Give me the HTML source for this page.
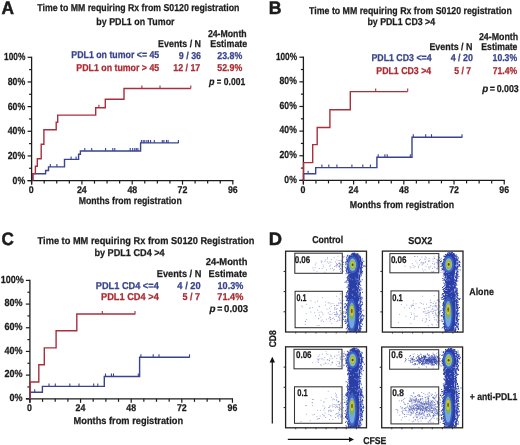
<!DOCTYPE html>
<html><head><meta charset="utf-8"><style>
html,body{margin:0;padding:0;background:#fff;}
svg{display:block;filter:blur(0.25px);font-family:"Liberation Sans",sans-serif;}
</style></head><body>
<svg width="520" height="445" viewBox="0 0 520 445" text-rendering="geometricPrecision">
<defs>
<filter id="bl" x="-50%" y="-50%" width="200%" height="200%"><feGaussianBlur stdDeviation="0.7"/></filter>
<filter id="sp" x="-20%" y="-20%" width="140%" height="140%"><feGaussianBlur stdDeviation="0.4"/></filter>
</defs>
<rect width="520" height="445" fill="#fff"/>
<text x="1.57" y="13.70" font-size="18.0" font-weight="bold" style="" fill="#1c1c1c" stroke="#1c1c1c" stroke-width="0.5" textLength="12.50" lengthAdjust="spacingAndGlyphs">A</text>
<text x="37.31" y="11.40" font-size="10.0" font-weight="bold" style="" fill="#1c1c1c" stroke="#1c1c1c" stroke-width="0.25" textLength="202.03" lengthAdjust="spacingAndGlyphs">Time to MM requiring Rx from S0120 registration</text>
<text x="96.32" y="24.60" font-size="10.0" font-weight="bold" style="" fill="#1c1c1c" stroke="#1c1c1c" stroke-width="0.25" textLength="78.21" lengthAdjust="spacingAndGlyphs">by PDL1 on Tumor</text>
<text x="207.89" y="36.60" font-size="10.0" font-weight="bold" style="" fill="#1c1c1c" stroke="#1c1c1c" stroke-width="0.25" textLength="38.82" lengthAdjust="spacingAndGlyphs">24-Month</text>
<text x="158.12" y="47.40" font-size="10.0" font-weight="bold" style="" fill="#1c1c1c" stroke="#1c1c1c" stroke-width="0.25" textLength="42.85" lengthAdjust="spacingAndGlyphs">Events / N</text>
<text x="210.22" y="47.30" font-size="10.0" font-weight="bold" style="" fill="#1c1c1c" stroke="#1c1c1c" stroke-width="0.25" textLength="37.02" lengthAdjust="spacingAndGlyphs">Estimate</text>
<text x="71.33" y="58.30" font-size="10.0" font-weight="bold" style="" fill="#38448c" stroke="#38448c" stroke-width="0.25" textLength="87.91" lengthAdjust="spacingAndGlyphs">PDL1 on tumor &lt;= 45</text>
<text x="178.79" y="58.90" font-size="10.0" font-weight="bold" style="" fill="#38448c" stroke="#38448c" stroke-width="0.25" textLength="22.24" lengthAdjust="spacingAndGlyphs">9 / 36</text>
<text x="217.29" y="58.90" font-size="10.0" font-weight="bold" style="" fill="#38448c" stroke="#38448c" stroke-width="0.25" textLength="24.93" lengthAdjust="spacingAndGlyphs">23.8%</text>
<text x="76.33" y="70.50" font-size="10.0" font-weight="bold" style="" fill="#ac2a32" stroke="#ac2a32" stroke-width="0.25" textLength="82.92" lengthAdjust="spacingAndGlyphs">PDL1 on tumor &gt; 45</text>
<text x="173.27" y="70.50" font-size="10.0" font-weight="bold" style="" fill="#ac2a32" stroke="#ac2a32" stroke-width="0.25" textLength="27.01" lengthAdjust="spacingAndGlyphs">12 / 17</text>
<text x="217.34" y="70.50" font-size="10.0" font-weight="bold" style="" fill="#ac2a32" stroke="#ac2a32" stroke-width="0.25" textLength="24.89" lengthAdjust="spacingAndGlyphs">52.9%</text>
<text x="209.08" y="85.00" font-size="10.0" font-weight="bold" style="font-style:italic;" fill="#1c1c1c" stroke="#1c1c1c" stroke-width="0.25" textLength="5.50" lengthAdjust="spacingAndGlyphs">p</text>
<text x="216.79" y="85.00" font-size="10.0" font-weight="bold" style="" fill="#1c1c1c" stroke="#1c1c1c" stroke-width="0.25" textLength="4.51" lengthAdjust="spacingAndGlyphs">=</text>
<text x="223.86" y="85.00" font-size="10.0" font-weight="bold" style="" fill="#1c1c1c" stroke="#1c1c1c" stroke-width="0.25" textLength="21.38" lengthAdjust="spacingAndGlyphs">0.001</text>
<line x1="31.60" y1="56.70" x2="31.60" y2="184.60" stroke="#1c1c1c" stroke-width="1.3"/>
<line x1="27.60" y1="180.60" x2="233.42" y2="180.60" stroke="#1c1c1c" stroke-width="1.3"/>
<line x1="27.60" y1="180.60" x2="31.60" y2="180.60" stroke="#1c1c1c" stroke-width="1.2"/>
<line x1="29.10" y1="168.27" x2="31.60" y2="168.27" stroke="#1c1c1c" stroke-width="1.2"/>
<line x1="27.60" y1="155.94" x2="31.60" y2="155.94" stroke="#1c1c1c" stroke-width="1.2"/>
<line x1="29.10" y1="143.61" x2="31.60" y2="143.61" stroke="#1c1c1c" stroke-width="1.2"/>
<line x1="27.60" y1="131.28" x2="31.60" y2="131.28" stroke="#1c1c1c" stroke-width="1.2"/>
<line x1="29.10" y1="118.95" x2="31.60" y2="118.95" stroke="#1c1c1c" stroke-width="1.2"/>
<line x1="27.60" y1="106.62" x2="31.60" y2="106.62" stroke="#1c1c1c" stroke-width="1.2"/>
<line x1="29.10" y1="94.29" x2="31.60" y2="94.29" stroke="#1c1c1c" stroke-width="1.2"/>
<line x1="27.60" y1="81.96" x2="31.60" y2="81.96" stroke="#1c1c1c" stroke-width="1.2"/>
<line x1="29.10" y1="69.63" x2="31.60" y2="69.63" stroke="#1c1c1c" stroke-width="1.2"/>
<line x1="27.60" y1="57.30" x2="31.60" y2="57.30" stroke="#1c1c1c" stroke-width="1.2"/>
<line x1="31.60" y1="180.60" x2="31.60" y2="184.60" stroke="#1c1c1c" stroke-width="1.2"/>
<line x1="44.18" y1="180.60" x2="44.18" y2="183.60" stroke="#1c1c1c" stroke-width="1.2"/>
<line x1="56.75" y1="180.60" x2="56.75" y2="183.60" stroke="#1c1c1c" stroke-width="1.2"/>
<line x1="69.33" y1="180.60" x2="69.33" y2="183.60" stroke="#1c1c1c" stroke-width="1.2"/>
<line x1="81.90" y1="180.60" x2="81.90" y2="184.60" stroke="#1c1c1c" stroke-width="1.2"/>
<line x1="94.48" y1="180.60" x2="94.48" y2="183.60" stroke="#1c1c1c" stroke-width="1.2"/>
<line x1="107.06" y1="180.60" x2="107.06" y2="183.60" stroke="#1c1c1c" stroke-width="1.2"/>
<line x1="119.63" y1="180.60" x2="119.63" y2="183.60" stroke="#1c1c1c" stroke-width="1.2"/>
<line x1="132.21" y1="180.60" x2="132.21" y2="184.60" stroke="#1c1c1c" stroke-width="1.2"/>
<line x1="144.78" y1="180.60" x2="144.78" y2="183.60" stroke="#1c1c1c" stroke-width="1.2"/>
<line x1="157.36" y1="180.60" x2="157.36" y2="183.60" stroke="#1c1c1c" stroke-width="1.2"/>
<line x1="169.94" y1="180.60" x2="169.94" y2="183.60" stroke="#1c1c1c" stroke-width="1.2"/>
<line x1="182.51" y1="180.60" x2="182.51" y2="184.60" stroke="#1c1c1c" stroke-width="1.2"/>
<line x1="195.09" y1="180.60" x2="195.09" y2="183.60" stroke="#1c1c1c" stroke-width="1.2"/>
<line x1="207.66" y1="180.60" x2="207.66" y2="183.60" stroke="#1c1c1c" stroke-width="1.2"/>
<line x1="220.24" y1="180.60" x2="220.24" y2="183.60" stroke="#1c1c1c" stroke-width="1.2"/>
<line x1="232.82" y1="180.60" x2="232.82" y2="184.60" stroke="#1c1c1c" stroke-width="1.2"/>
<text x="12.61" y="183.60" font-size="10.3" font-weight="bold" style="" fill="#1c1c1c" stroke="#1c1c1c" stroke-width="0.25" textLength="12.61" lengthAdjust="spacingAndGlyphs">0%</text>
<text x="7.77" y="158.94" font-size="10.3" font-weight="bold" style="" fill="#1c1c1c" stroke="#1c1c1c" stroke-width="0.25" textLength="17.46" lengthAdjust="spacingAndGlyphs">20%</text>
<text x="7.77" y="134.28" font-size="10.3" font-weight="bold" style="" fill="#1c1c1c" stroke="#1c1c1c" stroke-width="0.25" textLength="17.46" lengthAdjust="spacingAndGlyphs">40%</text>
<text x="7.77" y="109.62" font-size="10.3" font-weight="bold" style="" fill="#1c1c1c" stroke="#1c1c1c" stroke-width="0.25" textLength="17.46" lengthAdjust="spacingAndGlyphs">60%</text>
<text x="7.77" y="84.96" font-size="10.3" font-weight="bold" style="" fill="#1c1c1c" stroke="#1c1c1c" stroke-width="0.25" textLength="17.46" lengthAdjust="spacingAndGlyphs">80%</text>
<text x="4.10" y="60.30" font-size="10.3" font-weight="bold" style="" fill="#1c1c1c" stroke="#1c1c1c" stroke-width="0.25" textLength="21.29" lengthAdjust="spacingAndGlyphs">100%</text>
<text x="28.65" y="192.80" font-size="9.8" font-weight="bold" style="" fill="#1c1c1c" stroke="#1c1c1c" stroke-width="0.25" textLength="4.91" lengthAdjust="spacingAndGlyphs">0</text>
<text x="76.88" y="192.80" font-size="9.8" font-weight="bold" style="" fill="#1c1c1c" stroke="#1c1c1c" stroke-width="0.25" textLength="9.81" lengthAdjust="spacingAndGlyphs">24</text>
<text x="127.38" y="192.80" font-size="9.8" font-weight="bold" style="" fill="#1c1c1c" stroke="#1c1c1c" stroke-width="0.25" textLength="9.81" lengthAdjust="spacingAndGlyphs">48</text>
<text x="177.62" y="192.80" font-size="9.8" font-weight="bold" style="" fill="#1c1c1c" stroke="#1c1c1c" stroke-width="0.25" textLength="9.81" lengthAdjust="spacingAndGlyphs">72</text>
<text x="227.92" y="192.80" font-size="9.8" font-weight="bold" style="" fill="#1c1c1c" stroke="#1c1c1c" stroke-width="0.25" textLength="9.81" lengthAdjust="spacingAndGlyphs">96</text>
<text x="78.63" y="204.20" font-size="10.0" font-weight="bold" style="" fill="#1c1c1c" stroke="#1c1c1c" stroke-width="0.25" textLength="103.08" lengthAdjust="spacingAndGlyphs">Months from registration</text>
<path d="M32.70,180.60 H32.70 V173.80 H45.60 V170.50 H48.50 V166.90 H64.50 V159.40 H78.60 V154.20 H80.40 V151.00 H140.60 V142.90 H178.70 V142.90" fill="none" stroke="#3a4294" stroke-width="1.4" stroke-linejoin="miter" stroke-linecap="butt"/>
<line x1="50.30" y1="166.90" x2="50.30" y2="163.90" stroke="#3a4294" stroke-width="1.1"/>
<line x1="56.90" y1="166.90" x2="56.90" y2="163.90" stroke="#3a4294" stroke-width="1.1"/>
<line x1="71.10" y1="159.40" x2="71.10" y2="156.40" stroke="#3a4294" stroke-width="1.1"/>
<line x1="76.10" y1="159.40" x2="76.10" y2="156.40" stroke="#3a4294" stroke-width="1.1"/>
<line x1="84.80" y1="151.00" x2="84.80" y2="148.00" stroke="#3a4294" stroke-width="1.1"/>
<line x1="91.70" y1="151.00" x2="91.70" y2="148.00" stroke="#3a4294" stroke-width="1.1"/>
<line x1="105.60" y1="151.00" x2="105.60" y2="148.00" stroke="#3a4294" stroke-width="1.1"/>
<line x1="112.80" y1="151.00" x2="112.80" y2="148.00" stroke="#3a4294" stroke-width="1.1"/>
<line x1="114.80" y1="151.00" x2="114.80" y2="148.00" stroke="#3a4294" stroke-width="1.1"/>
<line x1="130.20" y1="151.00" x2="130.20" y2="148.00" stroke="#3a4294" stroke-width="1.1"/>
<line x1="132.70" y1="151.00" x2="132.70" y2="148.00" stroke="#3a4294" stroke-width="1.1"/>
<line x1="134.80" y1="151.00" x2="134.80" y2="148.00" stroke="#3a4294" stroke-width="1.1"/>
<line x1="136.30" y1="151.00" x2="136.30" y2="148.00" stroke="#3a4294" stroke-width="1.1"/>
<line x1="137.90" y1="151.00" x2="137.90" y2="148.00" stroke="#3a4294" stroke-width="1.1"/>
<line x1="141.40" y1="142.90" x2="141.40" y2="139.90" stroke="#3a4294" stroke-width="1.1"/>
<line x1="143.20" y1="142.90" x2="143.20" y2="139.90" stroke="#3a4294" stroke-width="1.1"/>
<line x1="144.80" y1="142.90" x2="144.80" y2="139.90" stroke="#3a4294" stroke-width="1.1"/>
<line x1="146.90" y1="142.90" x2="146.90" y2="139.90" stroke="#3a4294" stroke-width="1.1"/>
<line x1="148.50" y1="142.90" x2="148.50" y2="139.90" stroke="#3a4294" stroke-width="1.1"/>
<line x1="150.60" y1="142.90" x2="150.60" y2="139.90" stroke="#3a4294" stroke-width="1.1"/>
<line x1="154.30" y1="142.90" x2="154.30" y2="139.90" stroke="#3a4294" stroke-width="1.1"/>
<line x1="162.30" y1="142.90" x2="162.30" y2="139.90" stroke="#3a4294" stroke-width="1.1"/>
<line x1="163.90" y1="142.90" x2="163.90" y2="139.90" stroke="#3a4294" stroke-width="1.1"/>
<line x1="166.50" y1="142.90" x2="166.50" y2="139.90" stroke="#3a4294" stroke-width="1.1"/>
<line x1="168.10" y1="142.90" x2="168.10" y2="139.90" stroke="#3a4294" stroke-width="1.1"/>
<line x1="178.40" y1="142.90" x2="178.40" y2="139.90" stroke="#3a4294" stroke-width="1.1"/>
<path d="M32.90,180.60 H32.90 V173.60 H35.40 V166.30 H37.30 V158.80 H41.20 V144.30 H43.90 V129.70 H56.20 V122.30 H57.70 V115.10 H95.70 V107.70 H105.30 V99.30 H124.00 V88.50 H190.80 V88.50" fill="none" stroke="#a8303c" stroke-width="1.4" stroke-linejoin="miter" stroke-linecap="butt"/>
<line x1="98.90" y1="107.70" x2="98.90" y2="104.70" stroke="#a8303c" stroke-width="1.1"/>
<line x1="141.90" y1="88.50" x2="141.90" y2="85.50" stroke="#a8303c" stroke-width="1.1"/>
<line x1="160.00" y1="88.50" x2="160.00" y2="85.50" stroke="#a8303c" stroke-width="1.1"/>
<line x1="190.80" y1="88.50" x2="190.80" y2="85.50" stroke="#a8303c" stroke-width="1.1"/>
<text x="268.85" y="13.80" font-size="18.0" font-weight="bold" style="" fill="#1c1c1c" stroke="#1c1c1c" stroke-width="0.5" textLength="12.79" lengthAdjust="spacingAndGlyphs">B</text>
<text x="309.11" y="13.70" font-size="10.0" font-weight="bold" style="" fill="#1c1c1c" stroke="#1c1c1c" stroke-width="0.25" textLength="202.74" lengthAdjust="spacingAndGlyphs">Time to MM requiring Rx from S0120 registration</text>
<text x="367.43" y="24.50" font-size="10.0" font-weight="bold" style="" fill="#1c1c1c" stroke="#1c1c1c" stroke-width="0.25" textLength="67.74" lengthAdjust="spacingAndGlyphs">by PDL1 CD3 &gt;4</text>
<text x="478.89" y="40.40" font-size="10.0" font-weight="bold" style="" fill="#1c1c1c" stroke="#1c1c1c" stroke-width="0.25" textLength="39.33" lengthAdjust="spacingAndGlyphs">24-Month</text>
<text x="429.42" y="50.00" font-size="10.0" font-weight="bold" style="" fill="#1c1c1c" stroke="#1c1c1c" stroke-width="0.25" textLength="43.06" lengthAdjust="spacingAndGlyphs">Events / N</text>
<text x="481.34" y="50.00" font-size="10.0" font-weight="bold" style="" fill="#1c1c1c" stroke="#1c1c1c" stroke-width="0.25" textLength="36.10" lengthAdjust="spacingAndGlyphs">Estimate</text>
<text x="371.43" y="61.30" font-size="10.0" font-weight="bold" style="" fill="#38448c" stroke="#38448c" stroke-width="0.25" textLength="60.13" lengthAdjust="spacingAndGlyphs">PDL1 CD3 &lt;=4</text>
<text x="450.67" y="61.00" font-size="10.0" font-weight="bold" style="" fill="#38448c" stroke="#38448c" stroke-width="0.25" textLength="22.31" lengthAdjust="spacingAndGlyphs">4 / 20</text>
<text x="492.58" y="61.00" font-size="10.0" font-weight="bold" style="" fill="#38448c" stroke="#38448c" stroke-width="0.25" textLength="24.54" lengthAdjust="spacingAndGlyphs">10.3%</text>
<text x="376.33" y="73.80" font-size="10.0" font-weight="bold" style="" fill="#ac2a32" stroke="#ac2a32" stroke-width="0.25" textLength="54.84" lengthAdjust="spacingAndGlyphs">PDL1 CD3 &gt;4</text>
<text x="454.34" y="73.80" font-size="10.0" font-weight="bold" style="" fill="#ac2a32" stroke="#ac2a32" stroke-width="0.25" textLength="16.81" lengthAdjust="spacingAndGlyphs">5 / 7</text>
<text x="492.76" y="73.80" font-size="10.0" font-weight="bold" style="" fill="#ac2a32" stroke="#ac2a32" stroke-width="0.25" textLength="24.36" lengthAdjust="spacingAndGlyphs">71.4%</text>
<text x="482.20" y="91.50" font-size="10.0" font-weight="bold" style="font-style:italic;" fill="#1c1c1c" stroke="#1c1c1c" stroke-width="0.25" textLength="6.01" lengthAdjust="spacingAndGlyphs">p</text>
<text x="489.74" y="91.50" font-size="10.0" font-weight="bold" style="" fill="#1c1c1c" stroke="#1c1c1c" stroke-width="0.25" textLength="5.20" lengthAdjust="spacingAndGlyphs">=</text>
<text x="496.65" y="91.50" font-size="10.0" font-weight="bold" style="" fill="#1c1c1c" stroke="#1c1c1c" stroke-width="0.25" textLength="22.08" lengthAdjust="spacingAndGlyphs">0.003</text>
<line x1="303.40" y1="56.60" x2="303.40" y2="184.40" stroke="#1c1c1c" stroke-width="1.3"/>
<line x1="299.40" y1="180.40" x2="504.83" y2="180.40" stroke="#1c1c1c" stroke-width="1.3"/>
<line x1="299.40" y1="180.40" x2="303.40" y2="180.40" stroke="#1c1c1c" stroke-width="1.2"/>
<line x1="300.90" y1="168.08" x2="303.40" y2="168.08" stroke="#1c1c1c" stroke-width="1.2"/>
<line x1="299.40" y1="155.76" x2="303.40" y2="155.76" stroke="#1c1c1c" stroke-width="1.2"/>
<line x1="300.90" y1="143.44" x2="303.40" y2="143.44" stroke="#1c1c1c" stroke-width="1.2"/>
<line x1="299.40" y1="131.12" x2="303.40" y2="131.12" stroke="#1c1c1c" stroke-width="1.2"/>
<line x1="300.90" y1="118.80" x2="303.40" y2="118.80" stroke="#1c1c1c" stroke-width="1.2"/>
<line x1="299.40" y1="106.48" x2="303.40" y2="106.48" stroke="#1c1c1c" stroke-width="1.2"/>
<line x1="300.90" y1="94.16" x2="303.40" y2="94.16" stroke="#1c1c1c" stroke-width="1.2"/>
<line x1="299.40" y1="81.84" x2="303.40" y2="81.84" stroke="#1c1c1c" stroke-width="1.2"/>
<line x1="300.90" y1="69.52" x2="303.40" y2="69.52" stroke="#1c1c1c" stroke-width="1.2"/>
<line x1="299.40" y1="57.20" x2="303.40" y2="57.20" stroke="#1c1c1c" stroke-width="1.2"/>
<line x1="303.40" y1="180.40" x2="303.40" y2="184.40" stroke="#1c1c1c" stroke-width="1.2"/>
<line x1="315.95" y1="180.40" x2="315.95" y2="183.40" stroke="#1c1c1c" stroke-width="1.2"/>
<line x1="328.50" y1="180.40" x2="328.50" y2="183.40" stroke="#1c1c1c" stroke-width="1.2"/>
<line x1="341.06" y1="180.40" x2="341.06" y2="183.40" stroke="#1c1c1c" stroke-width="1.2"/>
<line x1="353.61" y1="180.40" x2="353.61" y2="184.40" stroke="#1c1c1c" stroke-width="1.2"/>
<line x1="366.16" y1="180.40" x2="366.16" y2="183.40" stroke="#1c1c1c" stroke-width="1.2"/>
<line x1="378.71" y1="180.40" x2="378.71" y2="183.40" stroke="#1c1c1c" stroke-width="1.2"/>
<line x1="391.26" y1="180.40" x2="391.26" y2="183.40" stroke="#1c1c1c" stroke-width="1.2"/>
<line x1="403.82" y1="180.40" x2="403.82" y2="184.40" stroke="#1c1c1c" stroke-width="1.2"/>
<line x1="416.37" y1="180.40" x2="416.37" y2="183.40" stroke="#1c1c1c" stroke-width="1.2"/>
<line x1="428.92" y1="180.40" x2="428.92" y2="183.40" stroke="#1c1c1c" stroke-width="1.2"/>
<line x1="441.47" y1="180.40" x2="441.47" y2="183.40" stroke="#1c1c1c" stroke-width="1.2"/>
<line x1="454.02" y1="180.40" x2="454.02" y2="184.40" stroke="#1c1c1c" stroke-width="1.2"/>
<line x1="466.58" y1="180.40" x2="466.58" y2="183.40" stroke="#1c1c1c" stroke-width="1.2"/>
<line x1="479.13" y1="180.40" x2="479.13" y2="183.40" stroke="#1c1c1c" stroke-width="1.2"/>
<line x1="491.68" y1="180.40" x2="491.68" y2="183.40" stroke="#1c1c1c" stroke-width="1.2"/>
<line x1="504.23" y1="180.40" x2="504.23" y2="184.40" stroke="#1c1c1c" stroke-width="1.2"/>
<text x="284.36" y="182.70" font-size="10.3" font-weight="bold" style="" fill="#1c1c1c" stroke="#1c1c1c" stroke-width="0.25" textLength="12.46" lengthAdjust="spacingAndGlyphs">0%</text>
<text x="279.57" y="158.06" font-size="10.3" font-weight="bold" style="" fill="#1c1c1c" stroke="#1c1c1c" stroke-width="0.25" textLength="17.25" lengthAdjust="spacingAndGlyphs">20%</text>
<text x="279.57" y="133.42" font-size="10.3" font-weight="bold" style="" fill="#1c1c1c" stroke="#1c1c1c" stroke-width="0.25" textLength="17.25" lengthAdjust="spacingAndGlyphs">40%</text>
<text x="279.57" y="108.78" font-size="10.3" font-weight="bold" style="" fill="#1c1c1c" stroke="#1c1c1c" stroke-width="0.25" textLength="17.25" lengthAdjust="spacingAndGlyphs">60%</text>
<text x="279.57" y="84.14" font-size="10.3" font-weight="bold" style="" fill="#1c1c1c" stroke="#1c1c1c" stroke-width="0.25" textLength="17.25" lengthAdjust="spacingAndGlyphs">80%</text>
<text x="275.90" y="59.50" font-size="10.3" font-weight="bold" style="" fill="#1c1c1c" stroke="#1c1c1c" stroke-width="0.25" textLength="21.18" lengthAdjust="spacingAndGlyphs">100%</text>
<text x="300.45" y="192.70" font-size="9.8" font-weight="bold" style="" fill="#1c1c1c" stroke="#1c1c1c" stroke-width="0.25" textLength="4.91" lengthAdjust="spacingAndGlyphs">0</text>
<text x="348.58" y="192.70" font-size="9.8" font-weight="bold" style="" fill="#1c1c1c" stroke="#1c1c1c" stroke-width="0.25" textLength="9.81" lengthAdjust="spacingAndGlyphs">24</text>
<text x="398.99" y="192.70" font-size="9.8" font-weight="bold" style="" fill="#1c1c1c" stroke="#1c1c1c" stroke-width="0.25" textLength="9.81" lengthAdjust="spacingAndGlyphs">48</text>
<text x="449.13" y="192.70" font-size="9.8" font-weight="bold" style="" fill="#1c1c1c" stroke="#1c1c1c" stroke-width="0.25" textLength="9.81" lengthAdjust="spacingAndGlyphs">72</text>
<text x="499.34" y="192.70" font-size="9.8" font-weight="bold" style="" fill="#1c1c1c" stroke="#1c1c1c" stroke-width="0.25" textLength="9.81" lengthAdjust="spacingAndGlyphs">96</text>
<text x="349.83" y="207.80" font-size="10.0" font-weight="bold" style="" fill="#1c1c1c" stroke="#1c1c1c" stroke-width="0.25" textLength="104.19" lengthAdjust="spacingAndGlyphs">Months from registration</text>
<path d="M303.60,180.40 H303.60 V173.80 H315.70 V167.60 H376.90 V157.20 H412.00 V137.20 H462.30 V137.20" fill="none" stroke="#3a4294" stroke-width="1.4" stroke-linejoin="miter" stroke-linecap="butt"/>
<line x1="308.10" y1="173.80" x2="308.10" y2="170.80" stroke="#3a4294" stroke-width="1.1"/>
<line x1="321.90" y1="167.60" x2="321.90" y2="164.60" stroke="#3a4294" stroke-width="1.1"/>
<line x1="328.80" y1="167.60" x2="328.80" y2="164.60" stroke="#3a4294" stroke-width="1.1"/>
<line x1="336.90" y1="167.60" x2="336.90" y2="164.60" stroke="#3a4294" stroke-width="1.1"/>
<line x1="351.90" y1="167.60" x2="351.90" y2="164.60" stroke="#3a4294" stroke-width="1.1"/>
<line x1="362.80" y1="167.60" x2="362.80" y2="164.60" stroke="#3a4294" stroke-width="1.1"/>
<line x1="370.40" y1="167.60" x2="370.40" y2="164.60" stroke="#3a4294" stroke-width="1.1"/>
<line x1="378.20" y1="157.20" x2="378.20" y2="154.20" stroke="#3a4294" stroke-width="1.1"/>
<line x1="384.90" y1="157.20" x2="384.90" y2="154.20" stroke="#3a4294" stroke-width="1.1"/>
<line x1="387.20" y1="157.20" x2="387.20" y2="154.20" stroke="#3a4294" stroke-width="1.1"/>
<line x1="410.30" y1="157.20" x2="410.30" y2="154.20" stroke="#3a4294" stroke-width="1.1"/>
<line x1="413.30" y1="137.20" x2="413.30" y2="134.20" stroke="#3a4294" stroke-width="1.1"/>
<line x1="425.70" y1="137.20" x2="425.70" y2="134.20" stroke="#3a4294" stroke-width="1.1"/>
<line x1="431.50" y1="137.20" x2="431.50" y2="134.20" stroke="#3a4294" stroke-width="1.1"/>
<line x1="462.00" y1="137.20" x2="462.00" y2="134.20" stroke="#3a4294" stroke-width="1.1"/>
<path d="M303.60,180.40 H303.60 V162.60 H312.70 V144.60 H317.20 V127.50 H329.90 V109.70 H350.30 V91.60 H407.70 V91.60" fill="none" stroke="#a8303c" stroke-width="1.4" stroke-linejoin="miter" stroke-linecap="butt"/>
<line x1="375.70" y1="91.60" x2="375.70" y2="88.60" stroke="#a8303c" stroke-width="1.1"/>
<line x1="407.70" y1="91.60" x2="407.70" y2="88.60" stroke="#a8303c" stroke-width="1.1"/>
<text x="1.62" y="244.50" font-size="18.0" font-weight="bold" style="" fill="#1c1c1c" stroke="#1c1c1c" stroke-width="0.5" textLength="12.35" lengthAdjust="spacingAndGlyphs">C</text>
<text x="37.61" y="243.60" font-size="10.0" font-weight="bold" style="" fill="#1c1c1c" stroke="#1c1c1c" stroke-width="0.25" textLength="216.75" lengthAdjust="spacingAndGlyphs">Time to MM requiring Rx from S0120 Registration</text>
<text x="94.41" y="255.50" font-size="10.0" font-weight="bold" style="" fill="#1c1c1c" stroke="#1c1c1c" stroke-width="0.25" textLength="70.26" lengthAdjust="spacingAndGlyphs">by PDL1 CD4 &gt;4</text>
<text x="205.77" y="265.00" font-size="10.0" font-weight="bold" style="" fill="#1c1c1c" stroke="#1c1c1c" stroke-width="0.25" textLength="41.68" lengthAdjust="spacingAndGlyphs">24-Month</text>
<text x="156.80" y="276.60" font-size="10.0" font-weight="bold" style="" fill="#1c1c1c" stroke="#1c1c1c" stroke-width="0.25" textLength="44.60" lengthAdjust="spacingAndGlyphs">Events / N</text>
<text x="208.60" y="276.60" font-size="10.0" font-weight="bold" style="" fill="#1c1c1c" stroke="#1c1c1c" stroke-width="0.25" textLength="38.66" lengthAdjust="spacingAndGlyphs">Estimate</text>
<text x="95.80" y="288.50" font-size="10.0" font-weight="bold" style="" fill="#38448c" stroke="#38448c" stroke-width="0.25" textLength="62.96" lengthAdjust="spacingAndGlyphs">PDL1 CD4 &lt;=4</text>
<text x="177.36" y="288.80" font-size="10.0" font-weight="bold" style="" fill="#38448c" stroke="#38448c" stroke-width="0.25" textLength="23.33" lengthAdjust="spacingAndGlyphs">4 / 20</text>
<text x="217.55" y="288.80" font-size="10.0" font-weight="bold" style="" fill="#38448c" stroke="#38448c" stroke-width="0.25" textLength="25.78" lengthAdjust="spacingAndGlyphs">10.3%</text>
<text x="101.00" y="299.90" font-size="10.0" font-weight="bold" style="" fill="#ac2a32" stroke="#ac2a32" stroke-width="0.25" textLength="57.77" lengthAdjust="spacingAndGlyphs">PDL1 CD4 &gt;4</text>
<text x="182.53" y="300.10" font-size="10.0" font-weight="bold" style="" fill="#ac2a32" stroke="#ac2a32" stroke-width="0.25" textLength="17.54" lengthAdjust="spacingAndGlyphs">5 / 7</text>
<text x="217.33" y="300.10" font-size="10.0" font-weight="bold" style="" fill="#ac2a32" stroke="#ac2a32" stroke-width="0.25" textLength="26.00" lengthAdjust="spacingAndGlyphs">71.4%</text>
<text x="209.50" y="312.40" font-size="10.0" font-weight="bold" style="font-style:italic;" fill="#1c1c1c" stroke="#1c1c1c" stroke-width="0.25" textLength="6.01" lengthAdjust="spacingAndGlyphs">p</text>
<text x="217.15" y="312.40" font-size="10.0" font-weight="bold" style="" fill="#1c1c1c" stroke="#1c1c1c" stroke-width="0.25" textLength="5.09" lengthAdjust="spacingAndGlyphs">=</text>
<text x="224.12" y="312.40" font-size="10.0" font-weight="bold" style="" fill="#1c1c1c" stroke="#1c1c1c" stroke-width="0.25" textLength="24.04" lengthAdjust="spacingAndGlyphs">0.003</text>
<line x1="29.90" y1="279.80" x2="29.90" y2="402.80" stroke="#1c1c1c" stroke-width="1.3"/>
<line x1="25.90" y1="398.80" x2="233.06" y2="398.80" stroke="#1c1c1c" stroke-width="1.3"/>
<line x1="25.90" y1="398.80" x2="29.90" y2="398.80" stroke="#1c1c1c" stroke-width="1.2"/>
<line x1="27.40" y1="386.96" x2="29.90" y2="386.96" stroke="#1c1c1c" stroke-width="1.2"/>
<line x1="25.90" y1="375.12" x2="29.90" y2="375.12" stroke="#1c1c1c" stroke-width="1.2"/>
<line x1="27.40" y1="363.28" x2="29.90" y2="363.28" stroke="#1c1c1c" stroke-width="1.2"/>
<line x1="25.90" y1="351.44" x2="29.90" y2="351.44" stroke="#1c1c1c" stroke-width="1.2"/>
<line x1="27.40" y1="339.60" x2="29.90" y2="339.60" stroke="#1c1c1c" stroke-width="1.2"/>
<line x1="25.90" y1="327.76" x2="29.90" y2="327.76" stroke="#1c1c1c" stroke-width="1.2"/>
<line x1="27.40" y1="315.92" x2="29.90" y2="315.92" stroke="#1c1c1c" stroke-width="1.2"/>
<line x1="25.90" y1="304.08" x2="29.90" y2="304.08" stroke="#1c1c1c" stroke-width="1.2"/>
<line x1="27.40" y1="292.24" x2="29.90" y2="292.24" stroke="#1c1c1c" stroke-width="1.2"/>
<line x1="25.90" y1="280.40" x2="29.90" y2="280.40" stroke="#1c1c1c" stroke-width="1.2"/>
<line x1="29.90" y1="398.80" x2="29.90" y2="402.80" stroke="#1c1c1c" stroke-width="1.2"/>
<line x1="42.56" y1="398.80" x2="42.56" y2="401.80" stroke="#1c1c1c" stroke-width="1.2"/>
<line x1="55.22" y1="398.80" x2="55.22" y2="401.80" stroke="#1c1c1c" stroke-width="1.2"/>
<line x1="67.88" y1="398.80" x2="67.88" y2="401.80" stroke="#1c1c1c" stroke-width="1.2"/>
<line x1="80.54" y1="398.80" x2="80.54" y2="402.80" stroke="#1c1c1c" stroke-width="1.2"/>
<line x1="93.20" y1="398.80" x2="93.20" y2="401.80" stroke="#1c1c1c" stroke-width="1.2"/>
<line x1="105.86" y1="398.80" x2="105.86" y2="401.80" stroke="#1c1c1c" stroke-width="1.2"/>
<line x1="118.52" y1="398.80" x2="118.52" y2="401.80" stroke="#1c1c1c" stroke-width="1.2"/>
<line x1="131.18" y1="398.80" x2="131.18" y2="402.80" stroke="#1c1c1c" stroke-width="1.2"/>
<line x1="143.84" y1="398.80" x2="143.84" y2="401.80" stroke="#1c1c1c" stroke-width="1.2"/>
<line x1="156.50" y1="398.80" x2="156.50" y2="401.80" stroke="#1c1c1c" stroke-width="1.2"/>
<line x1="169.16" y1="398.80" x2="169.16" y2="401.80" stroke="#1c1c1c" stroke-width="1.2"/>
<line x1="181.82" y1="398.80" x2="181.82" y2="402.80" stroke="#1c1c1c" stroke-width="1.2"/>
<line x1="194.48" y1="398.80" x2="194.48" y2="401.80" stroke="#1c1c1c" stroke-width="1.2"/>
<line x1="207.14" y1="398.80" x2="207.14" y2="401.80" stroke="#1c1c1c" stroke-width="1.2"/>
<line x1="219.80" y1="398.80" x2="219.80" y2="401.80" stroke="#1c1c1c" stroke-width="1.2"/>
<line x1="232.46" y1="398.80" x2="232.46" y2="402.80" stroke="#1c1c1c" stroke-width="1.2"/>
<text x="9.60" y="401.10" font-size="10.3" font-weight="bold" style="" fill="#1c1c1c" stroke="#1c1c1c" stroke-width="0.25" textLength="13.03" lengthAdjust="spacingAndGlyphs">0%</text>
<text x="4.60" y="377.42" font-size="10.3" font-weight="bold" style="" fill="#1c1c1c" stroke="#1c1c1c" stroke-width="0.25" textLength="18.04" lengthAdjust="spacingAndGlyphs">20%</text>
<text x="4.60" y="353.74" font-size="10.3" font-weight="bold" style="" fill="#1c1c1c" stroke="#1c1c1c" stroke-width="0.25" textLength="18.04" lengthAdjust="spacingAndGlyphs">40%</text>
<text x="4.60" y="330.06" font-size="10.3" font-weight="bold" style="" fill="#1c1c1c" stroke="#1c1c1c" stroke-width="0.25" textLength="18.04" lengthAdjust="spacingAndGlyphs">60%</text>
<text x="4.60" y="306.38" font-size="10.3" font-weight="bold" style="" fill="#1c1c1c" stroke="#1c1c1c" stroke-width="0.25" textLength="18.04" lengthAdjust="spacingAndGlyphs">80%</text>
<text x="0.76" y="282.70" font-size="10.3" font-weight="bold" style="" fill="#1c1c1c" stroke="#1c1c1c" stroke-width="0.25" textLength="23.04" lengthAdjust="spacingAndGlyphs">100%</text>
<text x="26.95" y="410.80" font-size="9.8" font-weight="bold" style="" fill="#1c1c1c" stroke="#1c1c1c" stroke-width="0.25" textLength="4.91" lengthAdjust="spacingAndGlyphs">0</text>
<text x="75.51" y="410.80" font-size="9.8" font-weight="bold" style="" fill="#1c1c1c" stroke="#1c1c1c" stroke-width="0.25" textLength="9.81" lengthAdjust="spacingAndGlyphs">24</text>
<text x="126.35" y="410.80" font-size="9.8" font-weight="bold" style="" fill="#1c1c1c" stroke="#1c1c1c" stroke-width="0.25" textLength="9.81" lengthAdjust="spacingAndGlyphs">48</text>
<text x="176.92" y="410.80" font-size="9.8" font-weight="bold" style="" fill="#1c1c1c" stroke="#1c1c1c" stroke-width="0.25" textLength="9.81" lengthAdjust="spacingAndGlyphs">72</text>
<text x="227.56" y="410.80" font-size="9.8" font-weight="bold" style="" fill="#1c1c1c" stroke="#1c1c1c" stroke-width="0.25" textLength="9.81" lengthAdjust="spacingAndGlyphs">96</text>
<text x="73.60" y="423.90" font-size="10.0" font-weight="bold" style="" fill="#1c1c1c" stroke="#1c1c1c" stroke-width="0.25" textLength="109.44" lengthAdjust="spacingAndGlyphs">Months from registration</text>
<path d="M30.10,398.80 H30.10 V392.30 H42.40 V386.40 H104.30 V376.50 H139.60 V357.30 H189.80 V357.30" fill="none" stroke="#3a4294" stroke-width="1.4" stroke-linejoin="miter" stroke-linecap="butt"/>
<line x1="34.70" y1="392.30" x2="34.70" y2="389.30" stroke="#3a4294" stroke-width="1.1"/>
<line x1="49.00" y1="386.40" x2="49.00" y2="383.40" stroke="#3a4294" stroke-width="1.1"/>
<line x1="55.30" y1="386.40" x2="55.30" y2="383.40" stroke="#3a4294" stroke-width="1.1"/>
<line x1="69.80" y1="386.40" x2="69.80" y2="383.40" stroke="#3a4294" stroke-width="1.1"/>
<line x1="79.00" y1="386.40" x2="79.00" y2="383.40" stroke="#3a4294" stroke-width="1.1"/>
<line x1="93.70" y1="386.40" x2="93.70" y2="383.40" stroke="#3a4294" stroke-width="1.1"/>
<line x1="97.80" y1="386.40" x2="97.80" y2="383.40" stroke="#3a4294" stroke-width="1.1"/>
<line x1="105.50" y1="376.50" x2="105.50" y2="373.50" stroke="#3a4294" stroke-width="1.1"/>
<line x1="111.40" y1="376.50" x2="111.40" y2="373.50" stroke="#3a4294" stroke-width="1.1"/>
<line x1="113.50" y1="376.50" x2="113.50" y2="373.50" stroke="#3a4294" stroke-width="1.1"/>
<line x1="138.30" y1="376.50" x2="138.30" y2="373.50" stroke="#3a4294" stroke-width="1.1"/>
<line x1="140.90" y1="357.30" x2="140.90" y2="354.30" stroke="#3a4294" stroke-width="1.1"/>
<line x1="153.20" y1="357.30" x2="153.20" y2="354.30" stroke="#3a4294" stroke-width="1.1"/>
<line x1="159.00" y1="357.30" x2="159.00" y2="354.30" stroke="#3a4294" stroke-width="1.1"/>
<line x1="189.50" y1="357.30" x2="189.50" y2="354.30" stroke="#3a4294" stroke-width="1.1"/>
<path d="M30.10,398.80 H30.10 V382.00 H38.80 V364.70 H44.30 V347.90 H56.10 V330.80 H76.80 V314.00 H135.30 V314.00" fill="none" stroke="#a8303c" stroke-width="1.4" stroke-linejoin="miter" stroke-linecap="butt"/>
<line x1="102.30" y1="314.00" x2="102.30" y2="311.00" stroke="#a8303c" stroke-width="1.1"/>
<line x1="135.00" y1="314.00" x2="135.00" y2="311.00" stroke="#a8303c" stroke-width="1.1"/>
<text x="268.81" y="244.50" font-size="18.0" font-weight="bold" style="" fill="#1c1c1c" stroke="#1c1c1c" stroke-width="0.5" textLength="13.27" lengthAdjust="spacingAndGlyphs">D</text>
<text x="312.15" y="243.00" font-size="10.0" font-weight="bold" style="" fill="#1c1c1c" stroke="#1c1c1c" stroke-width="0.25" textLength="30.96" lengthAdjust="spacingAndGlyphs">Control</text>
<text x="408.13" y="243.70" font-size="10.0" font-weight="bold" style="" fill="#1c1c1c" stroke="#1c1c1c" stroke-width="0.25" textLength="24.26" lengthAdjust="spacingAndGlyphs">SOX2</text>
<text x="469.28" y="295.10" font-size="10.0" font-weight="bold" style="" fill="#1c1c1c" stroke="#1c1c1c" stroke-width="0.25" textLength="24.56" lengthAdjust="spacingAndGlyphs">Alone</text>
<text x="469.76" y="400.00" font-size="10.0" font-weight="bold" style="" fill="#1c1c1c" stroke="#1c1c1c" stroke-width="0.25" textLength="47.65" lengthAdjust="spacingAndGlyphs">+ anti-PDL1</text>
<text x="363.25" y="443.50" font-size="10.0" font-weight="bold" style="" fill="#1c1c1c" stroke="#1c1c1c" stroke-width="0.25" textLength="23.17" lengthAdjust="spacingAndGlyphs">CFSE</text>
<clipPath id="cp1"><rect x="285.6" y="251.2" width="80.9" height="80.8"/></clipPath>
<g fill="#5a68b4" fill-opacity="0.6">
<rect x="329.2" y="265.8" width="0.9" height="0.9"/>
<rect x="329.6" y="261.7" width="0.9" height="0.9"/>
<rect x="321.1" y="262.2" width="0.9" height="0.9"/>
<rect x="337.0" y="264.2" width="0.9" height="0.9"/>
<rect x="312.3" y="267.5" width="0.9" height="0.9"/>
<rect x="338.4" y="265.7" width="0.9" height="0.9"/>
<rect x="321.6" y="260.9" width="0.9" height="0.9"/>
<rect x="336.0" y="263.0" width="0.9" height="0.9"/>
<rect x="338.6" y="260.0" width="0.9" height="0.9"/>
<rect x="336.0" y="265.2" width="0.9" height="0.9"/>
<rect x="324.4" y="271.8" width="0.9" height="0.9"/>
<rect x="339.0" y="269.2" width="0.9" height="0.9"/>
<rect x="324.9" y="259.6" width="0.9" height="0.9"/>
<rect x="328.2" y="262.7" width="0.9" height="0.9"/>
<rect x="339.9" y="264.5" width="0.9" height="0.9"/>
<rect x="326.9" y="258.5" width="0.9" height="0.9"/>
<rect x="326.1" y="269.4" width="0.9" height="0.9"/>
<rect x="322.6" y="264.5" width="0.9" height="0.9"/>
<rect x="337.4" y="255.8" width="0.9" height="0.9"/>
<rect x="332.9" y="269.8" width="0.9" height="0.9"/>
<rect x="308.1" y="261.6" width="0.9" height="0.9"/>
<rect x="331.0" y="259.2" width="0.9" height="0.9"/>
<rect x="338.3" y="262.9" width="0.9" height="0.9"/>
<rect x="314.7" y="267.4" width="0.9" height="0.9"/>
<rect x="340.3" y="268.0" width="0.9" height="0.9"/>
<rect x="333.7" y="256.8" width="0.9" height="0.9"/>
<rect x="339.7" y="260.2" width="0.9" height="0.9"/>
<rect x="326.9" y="256.9" width="0.9" height="0.9"/>
<rect x="320.7" y="260.6" width="0.9" height="0.9"/>
<rect x="314.8" y="264.4" width="0.9" height="0.9"/>
<rect x="336.6" y="259.6" width="0.9" height="0.9"/>
<rect x="318.9" y="268.1" width="0.9" height="0.9"/>
<rect x="335.2" y="265.4" width="0.9" height="0.9"/>
<rect x="338.5" y="266.0" width="0.9" height="0.9"/>
<rect x="313.5" y="269.7" width="0.9" height="0.9"/>
<rect x="343.8" y="265.9" width="0.9" height="0.9"/>
<rect x="308.6" y="260.1" width="0.9" height="0.9"/>
<rect x="330.1" y="268.3" width="0.9" height="0.9"/>
<rect x="316.6" y="271.3" width="0.9" height="0.9"/>
<rect x="338.9" y="262.5" width="0.9" height="0.9"/>
<rect x="336.2" y="266.5" width="0.9" height="0.9"/>
<rect x="333.7" y="269.0" width="0.9" height="0.9"/>
<rect x="324.4" y="261.2" width="0.9" height="0.9"/>
<rect x="321.7" y="268.0" width="0.9" height="0.9"/>
<rect x="315.7" y="262.6" width="0.9" height="0.9"/>
<rect x="330.5" y="261.8" width="0.9" height="0.9"/>
<rect x="322.9" y="266.4" width="0.9" height="0.9"/>
<rect x="336.4" y="264.0" width="0.9" height="0.9"/>
<rect x="334.1" y="266.1" width="0.9" height="0.9"/>
<rect x="330.2" y="264.6" width="0.9" height="0.9"/>
<rect x="339.2" y="263.3" width="0.9" height="0.9"/>
<rect x="341.5" y="266.1" width="0.9" height="0.9"/>
<rect x="327.2" y="261.4" width="0.9" height="0.9"/>
<rect x="332.1" y="267.9" width="0.9" height="0.9"/>
</g>
<g fill="#4a58b0" fill-opacity="0.7">
<rect x="339.3" y="265.2" width="0.9" height="0.9"/>
<rect x="336.9" y="264.5" width="0.9" height="0.9"/>
<rect x="341.5" y="264.4" width="0.9" height="0.9"/>
<rect x="339.0" y="266.5" width="0.9" height="0.9"/>
<rect x="341.1" y="260.6" width="0.9" height="0.9"/>
<rect x="338.6" y="262.8" width="0.9" height="0.9"/>
<rect x="339.6" y="262.9" width="0.9" height="0.9"/>
<rect x="343.3" y="257.4" width="0.9" height="0.9"/>
<rect x="340.1" y="268.0" width="0.9" height="0.9"/>
<rect x="342.9" y="270.7" width="0.9" height="0.9"/>
<rect x="335.2" y="261.5" width="0.9" height="0.9"/>
<rect x="339.3" y="266.4" width="0.9" height="0.9"/>
<rect x="343.6" y="256.0" width="0.9" height="0.9"/>
<rect x="342.3" y="255.8" width="0.9" height="0.9"/>
<rect x="340.8" y="269.2" width="0.9" height="0.9"/>
<rect x="339.9" y="264.2" width="0.9" height="0.9"/>
<rect x="342.7" y="264.0" width="0.9" height="0.9"/>
<rect x="340.0" y="270.9" width="0.9" height="0.9"/>
<rect x="343.4" y="261.8" width="0.9" height="0.9"/>
<rect x="343.0" y="261.9" width="0.9" height="0.9"/>
</g>
<g fill="#5a68b4" fill-opacity="0.6">
<rect x="332.0" y="318.1" width="0.9" height="0.9"/>
<rect x="333.2" y="317.6" width="0.9" height="0.9"/>
<rect x="310.4" y="300.4" width="0.9" height="0.9"/>
<rect x="338.3" y="304.8" width="0.9" height="0.9"/>
<rect x="317.0" y="300.7" width="0.9" height="0.9"/>
<rect x="330.3" y="303.4" width="0.9" height="0.9"/>
<rect x="340.3" y="325.2" width="0.9" height="0.9"/>
<rect x="318.7" y="325.0" width="0.9" height="0.9"/>
<rect x="343.1" y="311.1" width="0.9" height="0.9"/>
<rect x="304.7" y="323.8" width="0.9" height="0.9"/>
<rect x="329.0" y="307.7" width="0.9" height="0.9"/>
<rect x="335.5" y="315.8" width="0.9" height="0.9"/>
<rect x="320.6" y="320.6" width="0.9" height="0.9"/>
<rect x="331.8" y="313.5" width="0.9" height="0.9"/>
<rect x="306.2" y="319.1" width="0.9" height="0.9"/>
<rect x="334.4" y="307.6" width="0.9" height="0.9"/>
<rect x="330.2" y="319.2" width="0.9" height="0.9"/>
<rect x="331.3" y="323.1" width="0.9" height="0.9"/>
<rect x="329.5" y="320.8" width="0.9" height="0.9"/>
<rect x="321.6" y="319.5" width="0.9" height="0.9"/>
<rect x="305.9" y="303.8" width="0.9" height="0.9"/>
<rect x="304.8" y="321.1" width="0.9" height="0.9"/>
<rect x="314.3" y="312.4" width="0.9" height="0.9"/>
<rect x="327.8" y="312.3" width="0.9" height="0.9"/>
<rect x="322.6" y="314.4" width="0.9" height="0.9"/>
<rect x="337.2" y="320.5" width="0.9" height="0.9"/>
<rect x="327.7" y="302.4" width="0.9" height="0.9"/>
<rect x="323.1" y="321.1" width="0.9" height="0.9"/>
<rect x="308.9" y="307.7" width="0.9" height="0.9"/>
<rect x="343.4" y="318.8" width="0.9" height="0.9"/>
<rect x="330.4" y="318.9" width="0.9" height="0.9"/>
<rect x="332.5" y="303.1" width="0.9" height="0.9"/>
<rect x="310.0" y="307.4" width="0.9" height="0.9"/>
<rect x="342.3" y="308.0" width="0.9" height="0.9"/>
<rect x="318.6" y="306.3" width="0.9" height="0.9"/>
<rect x="310.4" y="311.6" width="0.9" height="0.9"/>
<rect x="315.0" y="315.4" width="0.9" height="0.9"/>
<rect x="322.0" y="297.0" width="0.9" height="0.9"/>
<rect x="339.7" y="310.3" width="0.9" height="0.9"/>
<rect x="301.3" y="305.5" width="0.9" height="0.9"/>
<rect x="334.1" y="308.8" width="0.9" height="0.9"/>
<rect x="340.4" y="318.5" width="0.9" height="0.9"/>
<rect x="339.0" y="315.1" width="0.9" height="0.9"/>
<rect x="336.2" y="295.8" width="0.9" height="0.9"/>
<rect x="342.0" y="323.0" width="0.9" height="0.9"/>
<rect x="326.4" y="308.7" width="0.9" height="0.9"/>
<rect x="318.2" y="318.0" width="0.9" height="0.9"/>
<rect x="337.6" y="319.7" width="0.9" height="0.9"/>
<rect x="318.5" y="311.8" width="0.9" height="0.9"/>
<rect x="334.1" y="319.1" width="0.9" height="0.9"/>
<rect x="329.9" y="310.9" width="0.9" height="0.9"/>
<rect x="317.1" y="309.6" width="0.9" height="0.9"/>
<rect x="341.9" y="313.3" width="0.9" height="0.9"/>
<rect x="319.2" y="305.8" width="0.9" height="0.9"/>
<rect x="338.4" y="316.3" width="0.9" height="0.9"/>
<rect x="329.4" y="316.7" width="0.9" height="0.9"/>
<rect x="305.0" y="320.8" width="0.9" height="0.9"/>
<rect x="334.5" y="306.9" width="0.9" height="0.9"/>
<rect x="312.1" y="307.2" width="0.9" height="0.9"/>
<rect x="334.1" y="314.0" width="0.9" height="0.9"/>
<rect x="325.1" y="304.7" width="0.9" height="0.9"/>
<rect x="314.8" y="301.7" width="0.9" height="0.9"/>
<rect x="319.0" y="314.6" width="0.9" height="0.9"/>
<rect x="302.2" y="306.5" width="0.9" height="0.9"/>
<rect x="329.5" y="316.7" width="0.9" height="0.9"/>
<rect x="320.8" y="311.5" width="0.9" height="0.9"/>
<rect x="336.3" y="315.5" width="0.9" height="0.9"/>
<rect x="338.6" y="314.2" width="0.9" height="0.9"/>
<rect x="326.1" y="318.8" width="0.9" height="0.9"/>
<rect x="330.9" y="305.9" width="0.9" height="0.9"/>
<rect x="322.2" y="312.5" width="0.9" height="0.9"/>
<rect x="328.9" y="313.8" width="0.9" height="0.9"/>
<rect x="330.3" y="313.9" width="0.9" height="0.9"/>
<rect x="328.6" y="302.4" width="0.9" height="0.9"/>
<rect x="335.8" y="320.9" width="0.9" height="0.9"/>
<rect x="336.0" y="311.0" width="0.9" height="0.9"/>
<rect x="336.1" y="304.8" width="0.9" height="0.9"/>
<rect x="305.7" y="313.0" width="0.9" height="0.9"/>
<rect x="318.2" y="318.4" width="0.9" height="0.9"/>
<rect x="316.8" y="325.1" width="0.9" height="0.9"/>
<rect x="325.3" y="301.5" width="0.9" height="0.9"/>
<rect x="320.4" y="316.7" width="0.9" height="0.9"/>
<rect x="336.8" y="313.9" width="0.9" height="0.9"/>
<rect x="330.0" y="317.3" width="0.9" height="0.9"/>
<rect x="343.6" y="303.8" width="0.9" height="0.9"/>
<rect x="328.4" y="318.3" width="0.9" height="0.9"/>
</g>
<g fill="#4a58b0" fill-opacity="0.7">
<rect x="339.3" y="320.0" width="0.9" height="0.9"/>
<rect x="342.4" y="318.9" width="0.9" height="0.9"/>
<rect x="344.6" y="311.0" width="0.9" height="0.9"/>
<rect x="339.1" y="318.6" width="0.9" height="0.9"/>
<rect x="343.7" y="312.5" width="0.9" height="0.9"/>
<rect x="336.2" y="313.8" width="0.9" height="0.9"/>
<rect x="341.6" y="320.4" width="0.9" height="0.9"/>
<rect x="343.0" y="312.7" width="0.9" height="0.9"/>
<rect x="343.3" y="316.3" width="0.9" height="0.9"/>
<rect x="341.0" y="312.9" width="0.9" height="0.9"/>
<rect x="339.4" y="317.3" width="0.9" height="0.9"/>
<rect x="336.6" y="308.1" width="0.9" height="0.9"/>
<rect x="340.3" y="302.3" width="0.9" height="0.9"/>
<rect x="338.8" y="298.4" width="0.9" height="0.9"/>
<rect x="337.9" y="316.5" width="0.9" height="0.9"/>
<rect x="342.3" y="312.1" width="0.9" height="0.9"/>
<rect x="339.5" y="302.6" width="0.9" height="0.9"/>
<rect x="344.1" y="306.3" width="0.9" height="0.9"/>
<rect x="339.7" y="299.8" width="0.9" height="0.9"/>
<rect x="343.0" y="319.0" width="0.9" height="0.9"/>
<rect x="333.7" y="312.1" width="0.9" height="0.9"/>
<rect x="342.5" y="300.2" width="0.9" height="0.9"/>
<rect x="333.9" y="305.0" width="0.9" height="0.9"/>
<rect x="338.1" y="302.7" width="0.9" height="0.9"/>
<rect x="340.4" y="314.2" width="0.9" height="0.9"/>
<rect x="342.5" y="317.4" width="0.9" height="0.9"/>
<rect x="345.6" y="320.7" width="0.9" height="0.9"/>
<rect x="335.7" y="309.0" width="0.9" height="0.9"/>
<rect x="336.6" y="305.0" width="0.9" height="0.9"/>
<rect x="340.0" y="312.5" width="0.9" height="0.9"/>
<rect x="342.0" y="301.4" width="0.9" height="0.9"/>
<rect x="336.0" y="312.3" width="0.9" height="0.9"/>
<rect x="339.6" y="310.3" width="0.9" height="0.9"/>
<rect x="340.1" y="307.2" width="0.9" height="0.9"/>
<rect x="342.8" y="315.0" width="0.9" height="0.9"/>
<rect x="340.0" y="307.8" width="0.9" height="0.9"/>
<rect x="339.7" y="293.4" width="0.9" height="0.9"/>
<rect x="336.9" y="312.8" width="0.9" height="0.9"/>
<rect x="335.0" y="313.9" width="0.9" height="0.9"/>
<rect x="340.8" y="302.9" width="0.9" height="0.9"/>
<rect x="339.4" y="310.3" width="0.9" height="0.9"/>
<rect x="341.9" y="316.8" width="0.9" height="0.9"/>
</g>
<g clip-path="url(#cp1)">
<polygon points="353.6,252.7 352.7,253.2 352.0,253.7 351.4,254.2 351.0,254.7 350.6,255.2 350.2,255.7 349.9,256.2 349.6,256.7 349.3,257.2 349.1,257.7 348.9,258.2 348.7,258.7 348.5,259.2 348.4,259.7 348.2,260.2 348.1,260.7 348.0,261.2 347.9,261.7 347.8,262.2 347.8,262.7 347.7,263.2 347.7,263.7 347.6,264.2 347.6,264.7 347.6,265.2 347.6,265.7 347.6,266.2 347.6,266.7 347.7,267.2 347.7,267.7 348.1,268.2 348.2,268.7 348.2,269.2 348.3,269.7 348.4,270.2 348.5,270.7 348.6,271.2 348.7,271.7 348.8,272.2 348.8,272.7 348.9,273.2 349.0,273.7 349.1,274.2 349.1,274.7 349.2,275.2 349.3,275.7 349.3,276.2 349.4,276.7 349.4,277.2 349.5,277.7 349.5,278.2 349.6,278.7 349.6,279.2 349.7,279.7 349.7,280.2 349.7,280.7 349.7,281.2 349.8,281.7 349.8,282.2 349.8,282.7 349.8,283.2 349.8,283.7 349.8,284.2 349.8,284.7 349.8,285.2 349.8,285.7 349.7,286.2 349.7,286.7 349.7,287.2 349.7,287.7 349.6,288.2 349.6,288.7 349.5,289.2 349.5,289.7 349.4,290.2 349.4,290.7 349.3,291.2 349.3,291.7 349.2,292.2 349.1,292.7 349.0,293.2 349.0,293.7 348.9,294.2 348.8,294.7 348.7,295.2 348.6,295.7 348.5,296.2 348.4,296.7 348.3,297.2 348.3,297.7 348.2,298.2 348.1,298.7 348.0,299.2 347.9,299.7 347.8,300.2 347.7,300.7 348.8,301.2 348.8,301.7 348.7,302.2 348.6,302.7 348.5,303.2 348.5,303.7 348.4,304.2 348.3,304.7 348.3,305.2 348.2,305.7 348.2,306.2 348.1,306.7 348.1,307.2 348.0,307.7 348.0,308.2 348.0,308.7 347.9,309.2 347.9,309.7 347.9,310.2 347.9,310.7 347.8,311.2 347.8,311.7 347.8,312.2 347.8,312.7 347.8,313.2 347.8,313.7 347.8,314.2 347.8,314.7 347.8,315.2 347.8,315.7 347.8,316.2 347.8,316.7 347.9,317.2 347.9,317.7 347.9,318.2 347.9,318.7 348.0,319.2 348.0,319.7 348.0,320.2 348.1,320.7 348.1,321.2 348.2,321.7 348.2,322.2 348.3,322.7 348.3,323.2 348.4,323.7 348.4,324.2 348.5,324.7 348.6,325.2 348.7,325.7 348.7,326.2 348.8,326.7 348.9,327.2 349.0,327.7 349.1,328.2 349.2,328.7 349.3,329.2 349.4,329.7 349.6,330.2 349.7,330.7 349.8,331.2 350.0,331.7 357.2,331.7 357.4,331.2 357.5,330.7 357.6,330.2 357.8,329.7 357.9,329.2 358.0,328.7 358.1,328.2 358.2,327.7 358.3,327.2 358.4,326.7 358.5,326.2 358.5,325.7 358.6,325.2 358.7,324.7 358.8,324.2 358.8,323.7 358.9,323.2 358.9,322.7 359.0,322.2 359.0,321.7 359.1,321.2 359.1,320.7 359.2,320.2 359.2,319.7 359.2,319.2 359.3,318.7 359.3,318.2 359.3,317.7 359.3,317.2 359.4,316.7 359.4,316.2 359.4,315.7 359.4,315.2 359.4,314.7 359.4,314.2 359.4,313.7 359.4,313.2 359.4,312.7 359.4,312.2 359.4,311.7 359.4,311.2 359.3,310.7 359.3,310.2 359.3,309.7 359.3,309.2 359.2,308.7 359.2,308.2 359.2,307.7 359.1,307.2 359.1,306.7 359.0,306.2 359.0,305.7 358.9,305.2 358.9,304.7 358.8,304.2 358.7,303.7 358.7,303.2 358.6,302.7 358.5,302.2 358.4,301.7 358.4,301.2 359.5,300.7 359.5,300.2 359.4,299.7 359.3,299.2 359.2,298.7 359.1,298.2 359.0,297.7 358.9,297.2 358.9,296.7 358.8,296.2 358.7,295.7 358.6,295.2 358.6,294.7 358.5,294.2 358.4,293.7 358.3,293.2 358.3,292.7 358.2,292.2 358.2,291.7 358.1,291.2 358.1,290.7 358.0,290.2 358.0,289.7 357.9,289.2 357.9,288.7 357.9,288.2 357.9,287.7 357.8,287.2 357.8,286.7 357.8,286.2 357.8,285.7 357.8,285.2 357.8,284.7 357.8,284.2 357.8,283.7 357.8,283.2 357.8,282.7 357.9,282.2 357.9,281.7 357.9,281.2 358.0,280.7 358.0,280.2 358.1,279.7 358.1,279.2 358.2,278.7 358.2,278.2 358.3,277.7 358.3,277.2 358.4,276.7 358.5,276.2 358.5,275.7 358.6,275.2 358.7,274.7 358.8,274.2 358.9,273.7 359.0,273.2 359.0,272.7 359.1,272.2 359.2,271.7 359.3,271.2 359.4,270.7 359.5,270.2 359.6,269.7 359.7,269.2 359.8,268.7 359.9,268.2 360.3,267.7 360.3,267.2 360.4,266.7 360.4,266.2 360.4,265.7 360.4,265.2 360.4,264.7 360.4,264.2 360.3,263.7 360.3,263.2 360.2,262.7 360.2,262.2 360.1,261.7 360.0,261.2 359.9,260.7 359.8,260.2 359.6,259.7 359.5,259.2 359.3,258.7 359.1,258.2 358.9,257.7 358.7,257.2 358.4,256.7 358.1,256.2 357.8,255.7 357.4,255.2 357.0,254.7 356.6,254.2 356.0,253.7 355.3,253.2 354.4,252.7" fill="#2a3ea8"/>
<path d="M353.8 252.7h1v1h-1zM352.5 252.7h1v1h-1zM354.4 252.7h1v1h-1zM354.3 252.7h1v1h-1zM351.7 253.2h1v1h-1zM352.4 253.2h1v1h-1zM356.3 253.2h1v1h-1zM357.3 253.2h1v1h-1zM351.6 253.7h1v1h-1zM351.0 253.7h1v1h-1zM357.6 253.7h1v1h-1zM356.0 253.7h1v1h-1zM350.9 254.2h1v1h-1zM351.5 254.2h1v1h-1zM357.2 254.2h1v1h-1zM357.0 254.2h1v1h-1zM347.4 254.7h1v1h-1zM350.7 254.7h1v1h-1zM358.6 254.7h1v1h-1zM357.0 254.7h1v1h-1zM349.0 255.2h1v1h-1zM347.0 255.2h1v1h-1zM358.4 255.2h1v1h-1zM357.6 255.2h1v1h-1zM349.4 255.7h1v1h-1zM346.7 255.7h1v1h-1zM358.1 255.7h1v1h-1zM359.6 255.7h1v1h-1zM348.9 256.2h1v1h-1zM348.6 256.2h1v1h-1zM358.7 256.2h1v1h-1zM358.2 256.2h1v1h-1zM349.0 256.7h1v1h-1zM348.1 256.7h1v1h-1zM360.1 256.7h1v1h-1zM359.8 256.7h1v1h-1zM349.1 257.2h1v1h-1zM346.1 257.2h1v1h-1zM358.8 257.2h1v1h-1zM358.5 257.2h1v1h-1zM347.4 257.7h1v1h-1zM349.3 257.7h1v1h-1zM360.0 257.7h1v1h-1zM359.1 257.7h1v1h-1zM348.2 258.2h1v1h-1zM348.0 258.2h1v1h-1zM360.1 258.2h1v1h-1zM361.7 258.2h1v1h-1zM346.2 258.7h1v1h-1zM348.9 258.7h1v1h-1zM359.5 258.7h1v1h-1zM359.8 258.7h1v1h-1zM346.5 259.2h1v1h-1zM347.6 259.2h1v1h-1zM360.3 259.2h1v1h-1zM360.0 259.2h1v1h-1zM347.5 259.7h1v1h-1zM347.4 259.7h1v1h-1zM361.6 259.7h1v1h-1zM359.4 259.7h1v1h-1zM347.4 260.2h1v1h-1zM347.1 260.2h1v1h-1zM359.6 260.2h1v1h-1zM360.1 260.2h1v1h-1zM345.9 260.7h1v1h-1zM346.5 260.7h1v1h-1zM360.5 260.7h1v1h-1zM363.3 260.7h1v1h-1zM348.2 261.2h1v1h-1zM347.0 261.2h1v1h-1zM360.8 261.2h1v1h-1zM359.9 261.2h1v1h-1zM345.3 261.7h1v1h-1zM345.3 261.7h1v1h-1zM362.1 261.7h1v1h-1zM361.8 261.7h1v1h-1zM345.6 262.2h1v1h-1zM345.4 262.2h1v1h-1zM361.9 262.2h1v1h-1zM360.7 262.2h1v1h-1zM347.9 262.7h1v1h-1zM347.5 262.7h1v1h-1zM360.2 262.7h1v1h-1zM361.8 262.7h1v1h-1zM347.9 263.2h1v1h-1zM345.6 263.2h1v1h-1zM360.2 263.2h1v1h-1zM360.6 263.2h1v1h-1zM347.1 263.7h1v1h-1zM347.5 263.7h1v1h-1zM361.6 263.7h1v1h-1zM360.4 263.7h1v1h-1zM347.1 264.2h1v1h-1zM345.3 264.2h1v1h-1zM361.4 264.2h1v1h-1zM360.4 264.2h1v1h-1zM347.1 264.7h1v1h-1zM346.7 264.7h1v1h-1zM361.7 264.7h1v1h-1zM360.8 264.7h1v1h-1zM347.3 265.2h1v1h-1zM347.0 265.2h1v1h-1zM361.1 265.2h1v1h-1zM363.6 265.2h1v1h-1zM346.7 265.7h1v1h-1zM347.8 265.7h1v1h-1zM364.7 265.7h1v1h-1zM363.2 265.7h1v1h-1zM347.0 266.2h1v1h-1zM347.5 266.2h1v1h-1zM360.4 266.2h1v1h-1zM360.8 266.2h1v1h-1zM347.5 266.7h1v1h-1zM347.3 266.7h1v1h-1zM360.2 266.7h1v1h-1zM361.4 266.7h1v1h-1zM344.9 267.2h1v1h-1zM346.5 267.2h1v1h-1zM360.1 267.2h1v1h-1zM361.8 267.2h1v1h-1zM346.3 267.7h1v1h-1zM346.9 267.7h1v1h-1zM361.1 267.7h1v1h-1zM361.1 267.7h1v1h-1zM347.1 268.2h1v1h-1zM347.8 268.2h1v1h-1zM360.5 268.2h1v1h-1zM359.9 268.2h1v1h-1zM346.1 268.7h1v1h-1zM348.3 268.7h1v1h-1zM360.3 268.7h1v1h-1zM360.5 268.7h1v1h-1zM348.3 269.2h1v1h-1zM347.2 269.2h1v1h-1zM360.9 269.2h1v1h-1zM360.5 269.2h1v1h-1zM345.6 269.7h1v1h-1zM347.6 269.7h1v1h-1zM359.7 269.7h1v1h-1zM359.7 269.7h1v1h-1zM346.2 270.2h1v1h-1zM348.1 270.2h1v1h-1zM360.8 270.2h1v1h-1zM360.4 270.2h1v1h-1zM348.7 270.7h1v1h-1zM348.7 270.7h1v1h-1zM362.1 270.7h1v1h-1zM361.5 270.7h1v1h-1zM347.4 271.2h1v1h-1zM346.0 271.2h1v1h-1zM360.3 271.2h1v1h-1zM359.3 271.2h1v1h-1zM348.2 271.7h1v1h-1zM348.3 271.7h1v1h-1zM361.4 271.7h1v1h-1zM359.4 271.7h1v1h-1zM346.6 272.2h1v1h-1zM348.0 272.2h1v1h-1zM360.6 272.2h1v1h-1zM361.1 272.2h1v1h-1zM347.1 272.7h1v1h-1zM348.5 272.7h1v1h-1zM361.6 272.7h1v1h-1zM359.5 272.7h1v1h-1zM348.7 273.2h1v1h-1zM345.5 273.2h1v1h-1zM359.6 273.2h1v1h-1zM359.8 273.2h1v1h-1zM348.3 273.7h1v1h-1zM348.3 273.7h1v1h-1zM360.3 273.7h1v1h-1zM360.5 273.7h1v1h-1zM348.8 274.2h1v1h-1zM348.9 274.2h1v1h-1zM360.7 274.2h1v1h-1zM358.9 274.2h1v1h-1zM348.5 274.7h1v1h-1zM348.6 274.7h1v1h-1zM358.7 274.7h1v1h-1zM358.6 274.7h1v1h-1zM348.8 275.2h1v1h-1zM347.7 275.2h1v1h-1zM360.6 275.2h1v1h-1zM359.0 275.2h1v1h-1zM348.1 275.7h1v1h-1zM348.3 275.7h1v1h-1zM358.5 275.7h1v1h-1zM359.5 275.7h1v1h-1zM347.1 276.2h1v1h-1zM348.9 276.2h1v1h-1zM358.4 276.2h1v1h-1zM358.6 276.2h1v1h-1zM347.2 276.7h1v1h-1zM349.6 276.7h1v1h-1zM359.3 276.7h1v1h-1zM358.8 276.7h1v1h-1zM347.8 277.2h1v1h-1zM346.5 277.2h1v1h-1zM358.2 277.2h1v1h-1zM358.6 277.2h1v1h-1zM348.8 277.7h1v1h-1zM348.3 277.7h1v1h-1zM358.5 277.7h1v1h-1zM359.0 277.7h1v1h-1zM349.0 278.2h1v1h-1zM347.2 278.2h1v1h-1zM359.1 278.2h1v1h-1zM358.0 278.2h1v1h-1zM348.4 278.7h1v1h-1zM349.5 278.7h1v1h-1zM358.4 278.7h1v1h-1zM359.0 278.7h1v1h-1zM349.3 279.2h1v1h-1zM347.2 279.2h1v1h-1zM359.0 279.2h1v1h-1zM361.7 279.2h1v1h-1zM348.8 279.7h1v1h-1zM349.8 279.7h1v1h-1zM358.1 279.7h1v1h-1zM359.5 279.7h1v1h-1zM347.9 280.2h1v1h-1zM346.5 280.2h1v1h-1zM358.8 280.2h1v1h-1zM359.1 280.2h1v1h-1zM348.9 280.7h1v1h-1zM345.7 280.7h1v1h-1zM358.1 280.7h1v1h-1zM358.2 280.7h1v1h-1zM348.5 281.2h1v1h-1zM349.4 281.2h1v1h-1zM360.4 281.2h1v1h-1zM359.7 281.2h1v1h-1zM349.4 281.7h1v1h-1zM344.5 281.7h1v1h-1zM359.0 281.7h1v1h-1zM358.3 281.7h1v1h-1zM348.5 282.2h1v1h-1zM346.5 282.2h1v1h-1zM357.7 282.2h1v1h-1zM358.1 282.2h1v1h-1zM349.2 282.7h1v1h-1zM348.7 282.7h1v1h-1zM358.7 282.7h1v1h-1zM358.7 282.7h1v1h-1zM349.9 283.2h1v1h-1zM349.9 283.2h1v1h-1zM357.9 283.2h1v1h-1zM359.1 283.2h1v1h-1zM349.2 283.7h1v1h-1zM349.8 283.7h1v1h-1zM358.7 283.7h1v1h-1zM357.9 283.7h1v1h-1zM348.2 284.2h1v1h-1zM347.7 284.2h1v1h-1zM358.3 284.2h1v1h-1zM359.1 284.2h1v1h-1zM348.3 284.7h1v1h-1zM349.4 284.7h1v1h-1zM360.1 284.7h1v1h-1zM360.2 284.7h1v1h-1zM349.5 285.2h1v1h-1zM348.6 285.2h1v1h-1zM357.9 285.2h1v1h-1zM357.8 285.2h1v1h-1zM347.5 285.7h1v1h-1zM348.4 285.7h1v1h-1zM357.6 285.7h1v1h-1zM358.1 285.7h1v1h-1zM349.4 286.2h1v1h-1zM349.8 286.2h1v1h-1zM358.7 286.2h1v1h-1zM358.2 286.2h1v1h-1zM349.9 286.7h1v1h-1zM346.5 286.7h1v1h-1zM358.3 286.7h1v1h-1zM358.7 286.7h1v1h-1zM347.8 287.2h1v1h-1zM349.3 287.2h1v1h-1zM357.8 287.2h1v1h-1zM360.2 287.2h1v1h-1zM349.3 287.7h1v1h-1zM348.7 287.7h1v1h-1zM360.3 287.7h1v1h-1zM357.7 287.7h1v1h-1zM347.9 288.2h1v1h-1zM348.7 288.2h1v1h-1zM358.0 288.2h1v1h-1zM357.8 288.2h1v1h-1zM349.6 288.7h1v1h-1zM348.0 288.7h1v1h-1zM361.5 288.7h1v1h-1zM358.8 288.7h1v1h-1zM348.8 289.2h1v1h-1zM348.9 289.2h1v1h-1zM359.4 289.2h1v1h-1zM358.5 289.2h1v1h-1zM348.8 289.7h1v1h-1zM349.2 289.7h1v1h-1zM358.6 289.7h1v1h-1zM360.3 289.7h1v1h-1zM348.4 290.2h1v1h-1zM347.2 290.2h1v1h-1zM358.9 290.2h1v1h-1zM358.7 290.2h1v1h-1zM348.9 290.7h1v1h-1zM348.2 290.7h1v1h-1zM358.0 290.7h1v1h-1zM358.5 290.7h1v1h-1zM348.6 291.2h1v1h-1zM347.0 291.2h1v1h-1zM357.9 291.2h1v1h-1zM358.5 291.2h1v1h-1zM347.5 291.7h1v1h-1zM349.0 291.7h1v1h-1zM360.0 291.7h1v1h-1zM362.0 291.7h1v1h-1zM345.9 292.2h1v1h-1zM346.2 292.2h1v1h-1zM358.1 292.2h1v1h-1zM358.7 292.2h1v1h-1zM347.8 292.7h1v1h-1zM348.2 292.7h1v1h-1zM358.5 292.7h1v1h-1zM359.8 292.7h1v1h-1zM349.1 293.2h1v1h-1zM347.6 293.2h1v1h-1zM359.9 293.2h1v1h-1zM359.8 293.2h1v1h-1zM349.1 293.7h1v1h-1zM346.1 293.7h1v1h-1zM358.6 293.7h1v1h-1zM358.9 293.7h1v1h-1zM348.4 294.2h1v1h-1zM348.0 294.2h1v1h-1zM359.7 294.2h1v1h-1zM358.9 294.2h1v1h-1zM348.9 294.7h1v1h-1zM347.9 294.7h1v1h-1zM358.4 294.7h1v1h-1zM359.6 294.7h1v1h-1zM347.0 295.2h1v1h-1zM346.2 295.2h1v1h-1zM359.7 295.2h1v1h-1zM359.1 295.2h1v1h-1zM344.9 295.7h1v1h-1zM345.8 295.7h1v1h-1zM359.7 295.7h1v1h-1zM358.6 295.7h1v1h-1zM347.9 296.2h1v1h-1zM346.6 296.2h1v1h-1zM359.3 296.2h1v1h-1zM358.6 296.2h1v1h-1zM345.7 296.7h1v1h-1zM348.2 296.7h1v1h-1zM360.6 296.7h1v1h-1zM361.6 296.7h1v1h-1zM347.3 297.2h1v1h-1zM348.2 297.2h1v1h-1zM359.5 297.2h1v1h-1zM359.4 297.2h1v1h-1zM346.4 297.7h1v1h-1zM348.1 297.7h1v1h-1zM360.2 297.7h1v1h-1zM359.5 297.7h1v1h-1zM347.2 298.2h1v1h-1zM347.1 298.2h1v1h-1zM359.1 298.2h1v1h-1zM361.7 298.2h1v1h-1zM347.5 298.7h1v1h-1zM348.0 298.7h1v1h-1zM360.8 298.7h1v1h-1zM360.3 298.7h1v1h-1zM347.9 299.2h1v1h-1zM346.7 299.2h1v1h-1zM359.8 299.2h1v1h-1zM359.9 299.2h1v1h-1zM348.0 299.7h1v1h-1zM345.9 299.7h1v1h-1zM359.8 299.7h1v1h-1zM360.0 299.7h1v1h-1zM346.5 300.2h1v1h-1zM347.9 300.2h1v1h-1zM359.7 300.2h1v1h-1zM360.2 300.2h1v1h-1zM347.4 300.7h1v1h-1zM346.9 300.7h1v1h-1zM359.9 300.7h1v1h-1zM361.3 300.7h1v1h-1zM348.4 301.2h1v1h-1zM348.8 301.2h1v1h-1zM359.8 301.2h1v1h-1zM359.4 301.2h1v1h-1zM348.5 301.7h1v1h-1zM348.4 301.7h1v1h-1zM359.5 301.7h1v1h-1zM360.4 301.7h1v1h-1zM347.8 302.2h1v1h-1zM348.2 302.2h1v1h-1zM359.7 302.2h1v1h-1zM362.0 302.2h1v1h-1zM348.0 302.7h1v1h-1zM346.9 302.7h1v1h-1zM359.4 302.7h1v1h-1zM359.7 302.7h1v1h-1zM345.2 303.2h1v1h-1zM344.7 303.2h1v1h-1zM359.2 303.2h1v1h-1zM359.3 303.2h1v1h-1zM348.5 303.7h1v1h-1zM347.6 303.7h1v1h-1zM362.0 303.7h1v1h-1zM358.7 303.7h1v1h-1zM346.0 304.2h1v1h-1zM347.2 304.2h1v1h-1zM361.4 304.2h1v1h-1zM360.4 304.2h1v1h-1zM347.6 304.7h1v1h-1zM348.3 304.7h1v1h-1zM360.7 304.7h1v1h-1zM358.9 304.7h1v1h-1zM346.2 305.2h1v1h-1zM345.8 305.2h1v1h-1zM360.6 305.2h1v1h-1zM359.9 305.2h1v1h-1zM347.1 305.7h1v1h-1zM347.0 305.7h1v1h-1zM359.6 305.7h1v1h-1zM359.8 305.7h1v1h-1zM344.8 306.2h1v1h-1zM347.9 306.2h1v1h-1zM360.3 306.2h1v1h-1zM360.0 306.2h1v1h-1zM346.9 306.7h1v1h-1zM344.4 306.7h1v1h-1zM359.1 306.7h1v1h-1zM359.7 306.7h1v1h-1zM344.2 307.2h1v1h-1zM346.8 307.2h1v1h-1zM359.4 307.2h1v1h-1zM359.0 307.2h1v1h-1zM346.8 307.7h1v1h-1zM347.5 307.7h1v1h-1zM360.8 307.7h1v1h-1zM360.2 307.7h1v1h-1zM347.8 308.2h1v1h-1zM347.4 308.2h1v1h-1zM359.3 308.2h1v1h-1zM360.1 308.2h1v1h-1zM345.6 308.7h1v1h-1zM346.4 308.7h1v1h-1zM359.5 308.7h1v1h-1zM359.9 308.7h1v1h-1zM347.8 309.2h1v1h-1zM346.6 309.2h1v1h-1zM360.6 309.2h1v1h-1zM359.2 309.2h1v1h-1zM347.2 309.7h1v1h-1zM347.3 309.7h1v1h-1zM359.6 309.7h1v1h-1zM362.5 309.7h1v1h-1zM346.1 310.2h1v1h-1zM347.6 310.2h1v1h-1zM359.1 310.2h1v1h-1zM359.6 310.2h1v1h-1zM347.6 310.7h1v1h-1zM347.4 310.7h1v1h-1zM360.8 310.7h1v1h-1zM360.3 310.7h1v1h-1zM347.1 311.2h1v1h-1zM347.1 311.2h1v1h-1zM361.0 311.2h1v1h-1zM360.2 311.2h1v1h-1zM345.9 311.7h1v1h-1zM347.0 311.7h1v1h-1zM360.8 311.7h1v1h-1zM359.7 311.7h1v1h-1zM345.8 312.2h1v1h-1zM347.7 312.2h1v1h-1zM360.4 312.2h1v1h-1zM359.3 312.2h1v1h-1zM347.8 312.7h1v1h-1zM345.2 312.7h1v1h-1zM360.2 312.7h1v1h-1zM359.5 312.7h1v1h-1zM347.3 313.2h1v1h-1zM347.9 313.2h1v1h-1zM360.4 313.2h1v1h-1zM360.4 313.2h1v1h-1zM346.6 313.7h1v1h-1zM347.1 313.7h1v1h-1zM359.7 313.7h1v1h-1zM359.2 313.7h1v1h-1zM347.6 314.2h1v1h-1zM347.5 314.2h1v1h-1zM359.5 314.2h1v1h-1zM362.0 314.2h1v1h-1zM347.5 314.7h1v1h-1zM348.0 314.7h1v1h-1zM360.8 314.7h1v1h-1zM359.2 314.7h1v1h-1zM347.2 315.2h1v1h-1zM347.7 315.2h1v1h-1zM362.5 315.2h1v1h-1zM363.4 315.2h1v1h-1zM347.7 315.7h1v1h-1zM345.1 315.7h1v1h-1zM360.8 315.7h1v1h-1zM363.4 315.7h1v1h-1zM344.0 316.2h1v1h-1zM347.8 316.2h1v1h-1zM360.0 316.2h1v1h-1zM359.7 316.2h1v1h-1zM347.2 316.7h1v1h-1zM344.5 316.7h1v1h-1zM360.5 316.7h1v1h-1zM359.8 316.7h1v1h-1zM348.0 317.2h1v1h-1zM347.1 317.2h1v1h-1zM360.2 317.2h1v1h-1zM359.9 317.2h1v1h-1zM347.7 317.7h1v1h-1zM347.3 317.7h1v1h-1zM362.7 317.7h1v1h-1zM359.2 317.7h1v1h-1zM347.8 318.2h1v1h-1zM346.9 318.2h1v1h-1zM360.5 318.2h1v1h-1zM359.1 318.2h1v1h-1zM347.1 318.7h1v1h-1zM347.9 318.7h1v1h-1zM361.1 318.7h1v1h-1zM362.3 318.7h1v1h-1zM346.7 319.2h1v1h-1zM345.1 319.2h1v1h-1zM360.4 319.2h1v1h-1zM361.5 319.2h1v1h-1zM346.7 319.7h1v1h-1zM346.9 319.7h1v1h-1zM360.0 319.7h1v1h-1zM360.1 319.7h1v1h-1zM346.8 320.2h1v1h-1zM346.8 320.2h1v1h-1zM361.9 320.2h1v1h-1zM360.6 320.2h1v1h-1zM344.3 320.7h1v1h-1zM345.2 320.7h1v1h-1zM360.0 320.7h1v1h-1zM360.1 320.7h1v1h-1zM347.9 321.2h1v1h-1zM347.1 321.2h1v1h-1zM361.0 321.2h1v1h-1zM359.0 321.2h1v1h-1zM346.6 321.7h1v1h-1zM346.3 321.7h1v1h-1zM359.8 321.7h1v1h-1zM359.2 321.7h1v1h-1zM348.4 322.2h1v1h-1zM347.9 322.2h1v1h-1zM359.3 322.2h1v1h-1zM359.9 322.2h1v1h-1zM345.5 322.7h1v1h-1zM344.9 322.7h1v1h-1zM360.8 322.7h1v1h-1zM360.0 322.7h1v1h-1zM348.5 323.2h1v1h-1zM348.4 323.2h1v1h-1zM359.6 323.2h1v1h-1zM358.9 323.2h1v1h-1zM347.3 323.7h1v1h-1zM347.4 323.7h1v1h-1zM362.0 323.7h1v1h-1zM358.9 323.7h1v1h-1zM347.9 324.2h1v1h-1zM347.8 324.2h1v1h-1zM358.8 324.2h1v1h-1zM358.8 324.2h1v1h-1zM347.2 324.7h1v1h-1zM348.7 324.7h1v1h-1zM359.7 324.7h1v1h-1zM359.4 324.7h1v1h-1zM348.4 325.2h1v1h-1zM346.7 325.2h1v1h-1zM359.3 325.2h1v1h-1zM359.0 325.2h1v1h-1zM347.6 325.7h1v1h-1zM347.6 325.7h1v1h-1zM360.8 325.7h1v1h-1zM361.2 325.7h1v1h-1zM348.9 326.2h1v1h-1zM348.0 326.2h1v1h-1zM360.1 326.2h1v1h-1zM359.6 326.2h1v1h-1zM347.1 326.7h1v1h-1zM347.0 326.7h1v1h-1zM359.2 326.7h1v1h-1zM358.9 326.7h1v1h-1zM346.8 327.2h1v1h-1zM348.9 327.2h1v1h-1zM359.5 327.2h1v1h-1zM358.7 327.2h1v1h-1zM348.2 327.7h1v1h-1zM347.8 327.7h1v1h-1zM360.4 327.7h1v1h-1zM359.0 327.7h1v1h-1zM349.3 328.2h1v1h-1zM345.8 328.2h1v1h-1zM359.8 328.2h1v1h-1zM358.4 328.2h1v1h-1zM348.4 328.7h1v1h-1zM348.8 328.7h1v1h-1zM360.4 328.7h1v1h-1zM358.8 328.7h1v1h-1zM347.5 329.2h1v1h-1zM349.4 329.2h1v1h-1zM358.5 329.2h1v1h-1zM358.0 329.2h1v1h-1zM349.0 329.7h1v1h-1zM347.6 329.7h1v1h-1zM359.8 329.7h1v1h-1zM357.7 329.7h1v1h-1zM349.4 330.2h1v1h-1zM348.9 330.2h1v1h-1zM357.9 330.2h1v1h-1zM358.7 330.2h1v1h-1zM346.7 330.7h1v1h-1zM348.9 330.7h1v1h-1zM357.8 330.7h1v1h-1zM359.8 330.7h1v1h-1zM346.9 331.2h1v1h-1zM349.9 331.2h1v1h-1zM357.2 331.2h1v1h-1zM359.0 331.2h1v1h-1zM350.1 331.7h1v1h-1zM348.4 331.7h1v1h-1zM357.1 331.7h1v1h-1zM357.8 331.7h1v1h-1z" fill="#2a3ea8"/>
<path d="M349.8 278.3h1v1h-1zM356.3 281.6h1v1h-1zM357.4 293.2h1v1h-1zM351.6 293.7h1v1h-1zM353.4 288.6h1v1h-1zM354.2 296.2h1v1h-1zM355.4 279.3h1v1h-1zM350.9 301.9h1v1h-1zM348.1 299.1h1v1h-1zM351.7 279.2h1v1h-1zM358.6 294.8h1v1h-1zM352.1 294.8h1v1h-1zM351.8 299.1h1v1h-1zM357.9 278.5h1v1h-1zM355.8 291.1h1v1h-1zM358.6 292.2h1v1h-1zM357.0 285.9h1v1h-1zM357.5 293.3h1v1h-1zM356.0 284.9h1v1h-1zM352.2 289.2h1v1h-1zM355.3 277.6h1v1h-1zM358.6 273.3h1v1h-1z" fill="#b8c4ec" opacity="0.6"/>
<path d="M348.8 263.6h1v1h-1zM349.4 301.2h1v1h-1zM349.0 263.4h1v1h-1zM347.4 263.1h1v1h-1zM347.1 310.3h1v1h-1zM347.2 312.2h1v1h-1zM347.0 316.8h1v1h-1zM358.2 311.8h1v1h-1zM349.4 268.4h1v1h-1zM348.2 327.0h1v1h-1zM358.3 302.0h1v1h-1zM348.4 262.7h1v1h-1zM356.8 278.7h1v1h-1zM357.8 272.4h1v1h-1zM359.9 312.1h1v1h-1zM360.1 299.6h1v1h-1zM347.0 300.9h1v1h-1zM351.5 254.7h1v1h-1zM347.7 307.7h1v1h-1zM358.4 317.4h1v1h-1zM356.1 252.3h1v1h-1zM349.2 311.3h1v1h-1zM358.4 290.9h1v1h-1zM359.4 317.2h1v1h-1zM358.2 327.6h1v1h-1zM346.7 264.7h1v1h-1zM349.6 270.4h1v1h-1zM348.8 302.4h1v1h-1zM349.4 330.3h1v1h-1zM358.9 280.2h1v1h-1zM348.6 322.5h1v1h-1zM357.8 303.1h1v1h-1zM349.3 272.9h1v1h-1zM347.2 321.9h1v1h-1zM348.4 262.2h1v1h-1z" fill="#ffffff" opacity="0.5"/>
<g filter="url(#bl)">
<ellipse cx="352.6" cy="264.8" rx="5.2" ry="8.4" fill="#4868cc" opacity="0.85"/>
<ellipse cx="351.8" cy="315.0" rx="4.6" ry="16.5" fill="#4466c8" opacity="0.8"/>
<ellipse cx="352.6" cy="264.8" rx="3.4" ry="6.2" fill="#84c0d8"/>
<ellipse cx="351.8" cy="315.5" rx="3.2" ry="13" fill="#74a8e0"/>
<ellipse cx="352.6" cy="264.8" rx="2.7" ry="4.7" fill="#88be4c"/>
<ellipse cx="351.8" cy="312.0" rx="2.5" ry="8.0" fill="#78b850"/>
<ellipse cx="352.6" cy="264.8" rx="1.8" ry="3.0" fill="#d0c428"/>
<ellipse cx="351.8" cy="311.0" rx="1.7" ry="5.2" fill="#d4c428"/>
<ellipse cx="352.6" cy="264.8" rx="1.0" ry="1.3" fill="#5a4610"/>
<ellipse cx="351.8" cy="311.0" rx="0.9" ry="2.3" fill="#7a5a10"/>
</g></g>
<rect x="285.6" y="251.2" width="80.9" height="80.8" fill="none" stroke="#222" stroke-width="1.3"/>
<line x1="295.7" y1="332.0" x2="295.7" y2="333.5" stroke="#222" stroke-width="0.8"/>
<line x1="305.8" y1="332.0" x2="305.8" y2="333.5" stroke="#222" stroke-width="0.8"/>
<line x1="315.9" y1="332.0" x2="315.9" y2="333.5" stroke="#222" stroke-width="0.8"/>
<line x1="326.1" y1="332.0" x2="326.1" y2="333.5" stroke="#222" stroke-width="0.8"/>
<line x1="336.2" y1="332.0" x2="336.2" y2="333.5" stroke="#222" stroke-width="0.8"/>
<line x1="346.3" y1="332.0" x2="346.3" y2="333.5" stroke="#222" stroke-width="0.8"/>
<line x1="356.4" y1="332.0" x2="356.4" y2="333.5" stroke="#222" stroke-width="0.8"/>
<line x1="283.6" y1="271.4" x2="285.6" y2="271.4" stroke="#222" stroke-width="1"/>
<line x1="283.6" y1="291.6" x2="285.6" y2="291.6" stroke="#222" stroke-width="1"/>
<line x1="283.6" y1="311.8" x2="285.6" y2="311.8" stroke="#222" stroke-width="1"/>
<rect x="294.8" y="253.2" width="47.5" height="20.1" fill="none" stroke="#333" stroke-width="1.05"/>
<rect x="295.1" y="291.3" width="47.2" height="36.4" fill="none" stroke="#333" stroke-width="1.05"/>
<clipPath id="cp2"><rect x="382.4" y="251.1" width="80.6" height="81.0"/></clipPath>
<g fill="#5a68b4" fill-opacity="0.6">
<rect x="425.6" y="265.8" width="0.9" height="0.9"/>
<rect x="438.6" y="257.1" width="0.9" height="0.9"/>
<rect x="428.4" y="260.2" width="0.9" height="0.9"/>
<rect x="409.6" y="266.4" width="0.9" height="0.9"/>
<rect x="423.3" y="262.0" width="0.9" height="0.9"/>
<rect x="404.5" y="265.7" width="0.9" height="0.9"/>
<rect x="429.4" y="266.5" width="0.9" height="0.9"/>
<rect x="422.9" y="270.6" width="0.9" height="0.9"/>
<rect x="432.7" y="260.8" width="0.9" height="0.9"/>
<rect x="433.8" y="266.3" width="0.9" height="0.9"/>
<rect x="422.1" y="268.6" width="0.9" height="0.9"/>
<rect x="434.5" y="267.0" width="0.9" height="0.9"/>
<rect x="428.1" y="260.9" width="0.9" height="0.9"/>
<rect x="434.2" y="262.7" width="0.9" height="0.9"/>
<rect x="421.5" y="264.5" width="0.9" height="0.9"/>
<rect x="425.1" y="261.4" width="0.9" height="0.9"/>
<rect x="432.0" y="268.0" width="0.9" height="0.9"/>
<rect x="440.6" y="264.3" width="0.9" height="0.9"/>
<rect x="433.5" y="255.8" width="0.9" height="0.9"/>
<rect x="411.8" y="263.2" width="0.9" height="0.9"/>
<rect x="422.3" y="263.8" width="0.9" height="0.9"/>
<rect x="419.1" y="260.1" width="0.9" height="0.9"/>
<rect x="414.6" y="266.0" width="0.9" height="0.9"/>
<rect x="428.7" y="258.0" width="0.9" height="0.9"/>
<rect x="431.4" y="271.1" width="0.9" height="0.9"/>
<rect x="421.4" y="256.7" width="0.9" height="0.9"/>
<rect x="418.8" y="264.4" width="0.9" height="0.9"/>
<rect x="425.0" y="261.6" width="0.9" height="0.9"/>
<rect x="410.5" y="267.4" width="0.9" height="0.9"/>
<rect x="424.9" y="256.3" width="0.9" height="0.9"/>
<rect x="428.8" y="268.4" width="0.9" height="0.9"/>
<rect x="412.7" y="265.1" width="0.9" height="0.9"/>
<rect x="413.6" y="267.2" width="0.9" height="0.9"/>
<rect x="435.7" y="261.8" width="0.9" height="0.9"/>
<rect x="417.0" y="256.0" width="0.9" height="0.9"/>
<rect x="418.1" y="266.9" width="0.9" height="0.9"/>
<rect x="432.1" y="263.0" width="0.9" height="0.9"/>
<rect x="422.0" y="262.4" width="0.9" height="0.9"/>
<rect x="423.3" y="262.9" width="0.9" height="0.9"/>
<rect x="415.4" y="260.4" width="0.9" height="0.9"/>
<rect x="425.9" y="257.3" width="0.9" height="0.9"/>
<rect x="414.3" y="256.0" width="0.9" height="0.9"/>
<rect x="416.6" y="262.5" width="0.9" height="0.9"/>
<rect x="436.6" y="262.1" width="0.9" height="0.9"/>
<rect x="424.0" y="258.6" width="0.9" height="0.9"/>
<rect x="429.3" y="260.7" width="0.9" height="0.9"/>
<rect x="440.0" y="262.7" width="0.9" height="0.9"/>
<rect x="437.8" y="264.6" width="0.9" height="0.9"/>
<rect x="427.2" y="263.7" width="0.9" height="0.9"/>
<rect x="417.9" y="265.8" width="0.9" height="0.9"/>
<rect x="425.2" y="258.8" width="0.9" height="0.9"/>
<rect x="428.0" y="266.7" width="0.9" height="0.9"/>
<rect x="420.5" y="262.6" width="0.9" height="0.9"/>
<rect x="432.6" y="258.5" width="0.9" height="0.9"/>
<rect x="430.3" y="265.8" width="0.9" height="0.9"/>
<rect x="419.8" y="259.0" width="0.9" height="0.9"/>
<rect x="420.9" y="261.8" width="0.9" height="0.9"/>
<rect x="439.7" y="262.1" width="0.9" height="0.9"/>
<rect x="414.5" y="256.1" width="0.9" height="0.9"/>
<rect x="434.2" y="258.1" width="0.9" height="0.9"/>
<rect x="424.6" y="269.3" width="0.9" height="0.9"/>
</g>
<g fill="#4a58b0" fill-opacity="0.7">
<rect x="440.8" y="269.9" width="0.9" height="0.9"/>
<rect x="433.2" y="270.9" width="0.9" height="0.9"/>
<rect x="436.5" y="268.0" width="0.9" height="0.9"/>
<rect x="436.7" y="268.5" width="0.9" height="0.9"/>
<rect x="436.9" y="263.5" width="0.9" height="0.9"/>
<rect x="436.4" y="259.2" width="0.9" height="0.9"/>
<rect x="436.9" y="267.4" width="0.9" height="0.9"/>
<rect x="433.7" y="263.9" width="0.9" height="0.9"/>
<rect x="433.9" y="257.6" width="0.9" height="0.9"/>
<rect x="432.3" y="271.9" width="0.9" height="0.9"/>
<rect x="437.4" y="261.8" width="0.9" height="0.9"/>
<rect x="437.2" y="260.5" width="0.9" height="0.9"/>
<rect x="438.9" y="257.0" width="0.9" height="0.9"/>
<rect x="437.3" y="263.3" width="0.9" height="0.9"/>
<rect x="441.0" y="261.0" width="0.9" height="0.9"/>
<rect x="436.8" y="265.5" width="0.9" height="0.9"/>
<rect x="438.2" y="266.1" width="0.9" height="0.9"/>
<rect x="437.3" y="258.7" width="0.9" height="0.9"/>
<rect x="440.5" y="272.1" width="0.9" height="0.9"/>
<rect x="437.3" y="260.3" width="0.9" height="0.9"/>
<rect x="440.0" y="258.9" width="0.9" height="0.9"/>
<rect x="437.7" y="255.9" width="0.9" height="0.9"/>
<rect x="441.0" y="257.8" width="0.9" height="0.9"/>
<rect x="437.9" y="260.4" width="0.9" height="0.9"/>
</g>
<g fill="#5a68b4" fill-opacity="0.6">
<rect x="421.2" y="303.0" width="0.9" height="0.9"/>
<rect x="426.1" y="303.7" width="0.9" height="0.9"/>
<rect x="439.0" y="305.4" width="0.9" height="0.9"/>
<rect x="425.9" y="318.1" width="0.9" height="0.9"/>
<rect x="436.5" y="319.4" width="0.9" height="0.9"/>
<rect x="440.4" y="315.5" width="0.9" height="0.9"/>
<rect x="436.1" y="319.6" width="0.9" height="0.9"/>
<rect x="410.6" y="312.4" width="0.9" height="0.9"/>
<rect x="427.8" y="311.6" width="0.9" height="0.9"/>
<rect x="434.7" y="304.7" width="0.9" height="0.9"/>
<rect x="409.0" y="307.7" width="0.9" height="0.9"/>
<rect x="433.6" y="305.7" width="0.9" height="0.9"/>
<rect x="397.9" y="322.2" width="0.9" height="0.9"/>
<rect x="424.7" y="310.8" width="0.9" height="0.9"/>
<rect x="411.6" y="304.5" width="0.9" height="0.9"/>
<rect x="437.4" y="309.3" width="0.9" height="0.9"/>
<rect x="399.2" y="313.9" width="0.9" height="0.9"/>
<rect x="418.5" y="307.1" width="0.9" height="0.9"/>
<rect x="434.8" y="306.4" width="0.9" height="0.9"/>
<rect x="411.1" y="313.8" width="0.9" height="0.9"/>
<rect x="428.0" y="306.8" width="0.9" height="0.9"/>
<rect x="414.3" y="315.6" width="0.9" height="0.9"/>
<rect x="403.8" y="307.3" width="0.9" height="0.9"/>
<rect x="414.1" y="317.6" width="0.9" height="0.9"/>
<rect x="424.7" y="321.7" width="0.9" height="0.9"/>
<rect x="429.8" y="305.3" width="0.9" height="0.9"/>
<rect x="422.3" y="318.4" width="0.9" height="0.9"/>
<rect x="411.0" y="306.4" width="0.9" height="0.9"/>
<rect x="427.6" y="310.0" width="0.9" height="0.9"/>
<rect x="422.2" y="295.8" width="0.9" height="0.9"/>
<rect x="422.8" y="311.5" width="0.9" height="0.9"/>
<rect x="426.3" y="313.1" width="0.9" height="0.9"/>
<rect x="412.0" y="304.9" width="0.9" height="0.9"/>
<rect x="433.7" y="295.2" width="0.9" height="0.9"/>
<rect x="413.1" y="305.1" width="0.9" height="0.9"/>
<rect x="412.8" y="303.4" width="0.9" height="0.9"/>
<rect x="410.6" y="305.4" width="0.9" height="0.9"/>
<rect x="431.3" y="323.8" width="0.9" height="0.9"/>
<rect x="405.5" y="315.8" width="0.9" height="0.9"/>
<rect x="433.4" y="315.3" width="0.9" height="0.9"/>
<rect x="410.4" y="323.2" width="0.9" height="0.9"/>
<rect x="430.6" y="302.2" width="0.9" height="0.9"/>
<rect x="426.2" y="319.0" width="0.9" height="0.9"/>
<rect x="416.8" y="315.6" width="0.9" height="0.9"/>
<rect x="409.9" y="317.1" width="0.9" height="0.9"/>
<rect x="430.8" y="311.2" width="0.9" height="0.9"/>
<rect x="423.4" y="311.3" width="0.9" height="0.9"/>
<rect x="400.9" y="304.1" width="0.9" height="0.9"/>
<rect x="424.7" y="312.7" width="0.9" height="0.9"/>
<rect x="413.6" y="319.2" width="0.9" height="0.9"/>
<rect x="413.6" y="313.5" width="0.9" height="0.9"/>
<rect x="428.6" y="316.7" width="0.9" height="0.9"/>
<rect x="428.1" y="312.3" width="0.9" height="0.9"/>
<rect x="424.1" y="308.5" width="0.9" height="0.9"/>
<rect x="432.3" y="311.5" width="0.9" height="0.9"/>
<rect x="431.5" y="309.2" width="0.9" height="0.9"/>
<rect x="427.8" y="325.2" width="0.9" height="0.9"/>
<rect x="428.4" y="314.6" width="0.9" height="0.9"/>
<rect x="429.9" y="299.7" width="0.9" height="0.9"/>
<rect x="439.7" y="302.0" width="0.9" height="0.9"/>
<rect x="423.1" y="303.7" width="0.9" height="0.9"/>
<rect x="435.9" y="309.7" width="0.9" height="0.9"/>
<rect x="429.0" y="312.3" width="0.9" height="0.9"/>
<rect x="412.8" y="300.3" width="0.9" height="0.9"/>
<rect x="436.6" y="315.6" width="0.9" height="0.9"/>
<rect x="425.8" y="307.5" width="0.9" height="0.9"/>
<rect x="436.4" y="305.2" width="0.9" height="0.9"/>
<rect x="438.4" y="315.1" width="0.9" height="0.9"/>
<rect x="414.3" y="308.3" width="0.9" height="0.9"/>
<rect x="423.6" y="308.2" width="0.9" height="0.9"/>
<rect x="430.4" y="305.0" width="0.9" height="0.9"/>
<rect x="415.6" y="303.3" width="0.9" height="0.9"/>
<rect x="415.6" y="316.1" width="0.9" height="0.9"/>
<rect x="430.4" y="302.1" width="0.9" height="0.9"/>
<rect x="425.6" y="315.0" width="0.9" height="0.9"/>
<rect x="432.3" y="305.9" width="0.9" height="0.9"/>
<rect x="398.6" y="298.7" width="0.9" height="0.9"/>
<rect x="435.4" y="302.8" width="0.9" height="0.9"/>
<rect x="421.9" y="320.1" width="0.9" height="0.9"/>
<rect x="436.4" y="307.2" width="0.9" height="0.9"/>
<rect x="419.8" y="302.3" width="0.9" height="0.9"/>
<rect x="426.6" y="312.7" width="0.9" height="0.9"/>
<rect x="425.7" y="320.6" width="0.9" height="0.9"/>
<rect x="406.3" y="304.6" width="0.9" height="0.9"/>
<rect x="429.7" y="310.7" width="0.9" height="0.9"/>
<rect x="438.7" y="299.6" width="0.9" height="0.9"/>
<rect x="438.2" y="304.5" width="0.9" height="0.9"/>
<rect x="433.7" y="300.9" width="0.9" height="0.9"/>
<rect x="437.1" y="308.4" width="0.9" height="0.9"/>
<rect x="429.4" y="307.1" width="0.9" height="0.9"/>
</g>
<g fill="#4a58b0" fill-opacity="0.7">
<rect x="437.3" y="321.8" width="0.9" height="0.9"/>
<rect x="435.1" y="305.2" width="0.9" height="0.9"/>
<rect x="437.5" y="317.4" width="0.9" height="0.9"/>
<rect x="436.8" y="299.9" width="0.9" height="0.9"/>
<rect x="435.3" y="313.0" width="0.9" height="0.9"/>
<rect x="438.9" y="301.0" width="0.9" height="0.9"/>
<rect x="437.3" y="321.4" width="0.9" height="0.9"/>
<rect x="442.6" y="303.5" width="0.9" height="0.9"/>
<rect x="432.9" y="311.2" width="0.9" height="0.9"/>
<rect x="434.9" y="309.8" width="0.9" height="0.9"/>
<rect x="437.6" y="316.4" width="0.9" height="0.9"/>
<rect x="435.8" y="305.9" width="0.9" height="0.9"/>
<rect x="433.5" y="309.5" width="0.9" height="0.9"/>
<rect x="434.8" y="311.8" width="0.9" height="0.9"/>
<rect x="435.6" y="314.6" width="0.9" height="0.9"/>
<rect x="432.7" y="303.1" width="0.9" height="0.9"/>
<rect x="439.4" y="320.1" width="0.9" height="0.9"/>
<rect x="434.4" y="319.3" width="0.9" height="0.9"/>
<rect x="437.7" y="312.5" width="0.9" height="0.9"/>
<rect x="432.3" y="313.0" width="0.9" height="0.9"/>
<rect x="436.4" y="324.4" width="0.9" height="0.9"/>
<rect x="429.2" y="319.9" width="0.9" height="0.9"/>
<rect x="437.5" y="299.4" width="0.9" height="0.9"/>
<rect x="439.4" y="311.0" width="0.9" height="0.9"/>
<rect x="439.1" y="313.4" width="0.9" height="0.9"/>
<rect x="437.4" y="314.9" width="0.9" height="0.9"/>
<rect x="441.0" y="315.1" width="0.9" height="0.9"/>
<rect x="439.5" y="306.6" width="0.9" height="0.9"/>
<rect x="441.1" y="316.0" width="0.9" height="0.9"/>
<rect x="435.4" y="314.4" width="0.9" height="0.9"/>
<rect x="439.4" y="310.9" width="0.9" height="0.9"/>
<rect x="432.2" y="308.3" width="0.9" height="0.9"/>
<rect x="441.8" y="309.4" width="0.9" height="0.9"/>
<rect x="433.8" y="317.0" width="0.9" height="0.9"/>
<rect x="441.7" y="327.6" width="0.9" height="0.9"/>
<rect x="439.3" y="312.0" width="0.9" height="0.9"/>
<rect x="439.4" y="313.5" width="0.9" height="0.9"/>
<rect x="432.3" y="324.4" width="0.9" height="0.9"/>
<rect x="442.3" y="304.7" width="0.9" height="0.9"/>
<rect x="442.7" y="315.8" width="0.9" height="0.9"/>
<rect x="435.5" y="302.5" width="0.9" height="0.9"/>
<rect x="438.0" y="312.0" width="0.9" height="0.9"/>
</g>
<g clip-path="url(#cp2)">
<polygon points="450.3,252.1 449.1,252.6 448.3,253.1 447.7,253.6 447.2,254.1 446.8,254.6 446.4,255.1 446.1,255.6 445.8,256.1 445.5,256.6 445.3,257.1 445.1,257.6 444.9,258.1 444.7,258.6 444.5,259.1 444.4,259.6 444.3,260.1 444.2,260.6 444.0,261.1 444.0,261.6 443.9,262.1 443.8,262.6 443.8,263.1 443.7,263.6 443.7,264.1 443.7,264.6 443.7,265.1 443.7,265.6 443.7,266.1 443.8,266.6 443.8,267.1 444.1,267.6 444.2,268.1 444.3,268.6 444.4,269.1 444.5,269.6 444.6,270.1 444.7,270.6 444.8,271.1 444.9,271.6 445.0,272.1 445.1,272.6 445.1,273.1 445.2,273.6 445.3,274.1 445.4,274.6 445.4,275.1 445.5,275.6 445.6,276.1 445.6,276.6 445.7,277.1 445.7,277.6 445.8,278.1 445.8,278.6 445.9,279.1 445.9,279.6 446.0,280.1 446.0,280.6 446.0,281.1 446.0,281.6 446.0,282.1 446.0,282.6 446.0,283.1 446.0,283.6 446.0,284.1 446.0,284.6 446.0,285.1 446.0,285.6 446.0,286.1 445.9,286.6 445.9,287.1 445.9,287.6 445.8,288.1 445.8,288.6 445.7,289.1 445.7,289.6 445.6,290.1 445.6,290.6 445.5,291.1 445.4,291.6 445.4,292.1 445.3,292.6 445.2,293.1 445.1,293.6 445.0,294.1 445.0,294.6 444.9,295.1 444.8,295.6 444.7,296.1 444.6,296.6 444.5,297.1 444.4,297.6 444.3,298.1 444.2,298.6 444.1,299.1 445.2,299.6 445.1,300.1 445.0,300.6 444.9,301.1 444.9,301.6 444.8,302.1 444.7,302.6 444.7,303.1 444.6,303.6 444.6,304.1 444.5,304.6 444.5,305.1 444.5,305.6 444.4,306.1 444.4,306.6 444.4,307.1 444.3,307.6 444.3,308.1 444.3,308.6 444.3,309.1 444.2,309.6 444.2,310.1 444.2,310.6 444.2,311.1 444.2,311.6 444.2,312.1 444.2,312.6 444.2,313.1 444.2,313.6 444.2,314.1 444.2,314.6 444.2,315.1 444.2,315.6 444.3,316.1 444.3,316.6 444.3,317.1 444.3,317.6 444.4,318.1 444.4,318.6 444.4,319.1 444.5,319.6 444.5,320.1 444.5,320.6 444.6,321.1 444.6,321.6 444.7,322.1 444.7,322.6 444.8,323.1 444.9,323.6 444.9,324.1 445.0,324.6 445.1,325.1 445.2,325.6 445.2,326.1 445.3,326.6 445.4,327.1 445.5,327.6 445.6,328.1 445.7,328.6 445.8,329.1 445.9,329.6 446.0,330.1 446.2,330.6 446.3,331.1 446.4,331.6 453.6,331.6 453.7,331.1 453.8,330.6 454.0,330.1 454.1,329.6 454.2,329.1 454.3,328.6 454.4,328.1 454.5,327.6 454.6,327.1 454.7,326.6 454.8,326.1 454.8,325.6 454.9,325.1 455.0,324.6 455.1,324.1 455.1,323.6 455.2,323.1 455.3,322.6 455.3,322.1 455.4,321.6 455.4,321.1 455.5,320.6 455.5,320.1 455.5,319.6 455.6,319.1 455.6,318.6 455.6,318.1 455.7,317.6 455.7,317.1 455.7,316.6 455.7,316.1 455.8,315.6 455.8,315.1 455.8,314.6 455.8,314.1 455.8,313.6 455.8,313.1 455.8,312.6 455.8,312.1 455.8,311.6 455.8,311.1 455.8,310.6 455.8,310.1 455.8,309.6 455.7,309.1 455.7,308.6 455.7,308.1 455.7,307.6 455.6,307.1 455.6,306.6 455.6,306.1 455.5,305.6 455.5,305.1 455.5,304.6 455.4,304.1 455.4,303.6 455.3,303.1 455.3,302.6 455.2,302.1 455.1,301.6 455.1,301.1 455.0,300.6 454.9,300.1 454.8,299.6 455.9,299.1 455.8,298.6 455.7,298.1 455.6,297.6 455.5,297.1 455.4,296.6 455.3,296.1 455.3,295.6 455.2,295.1 455.1,294.6 455.0,294.1 454.9,293.6 454.8,293.1 454.8,292.6 454.7,292.1 454.6,291.6 454.6,291.1 454.5,290.6 454.4,290.1 454.4,289.6 454.3,289.1 454.3,288.6 454.2,288.1 454.2,287.6 454.2,287.1 454.1,286.6 454.1,286.1 454.1,285.6 454.1,285.1 454.1,284.6 454.1,284.1 454.0,283.6 454.1,283.1 454.1,282.6 454.1,282.1 454.1,281.6 454.1,281.1 454.1,280.6 454.2,280.1 454.2,279.6 454.2,279.1 454.3,278.6 454.3,278.1 454.4,277.6 454.4,277.1 454.5,276.6 454.6,276.1 454.6,275.6 454.7,275.1 454.8,274.6 454.9,274.1 454.9,273.6 455.0,273.1 455.1,272.6 455.2,272.1 455.3,271.6 455.4,271.1 455.5,270.6 455.6,270.1 455.7,269.6 455.8,269.1 455.9,268.6 456.0,268.1 456.1,267.6 456.4,267.1 456.4,266.6 456.5,266.1 456.5,265.6 456.5,265.1 456.5,264.6 456.5,264.1 456.5,263.6 456.4,263.1 456.4,262.6 456.3,262.1 456.2,261.6 456.2,261.1 456.0,260.6 455.9,260.1 455.8,259.6 455.7,259.1 455.5,258.6 455.3,258.1 455.1,257.6 454.9,257.1 454.7,256.6 454.4,256.1 454.1,255.6 453.8,255.1 453.4,254.6 453.0,254.1 452.5,253.6 451.9,253.1 451.1,252.6 449.9,252.1" fill="#2a3ea8"/>
<path d="M448.9 252.1h1v1h-1zM448.4 252.1h1v1h-1zM451.9 252.1h1v1h-1zM450.6 252.1h1v1h-1zM448.7 252.6h1v1h-1zM447.3 252.6h1v1h-1zM450.9 252.6h1v1h-1zM451.6 252.6h1v1h-1zM448.0 253.1h1v1h-1zM447.4 253.1h1v1h-1zM453.0 253.1h1v1h-1zM452.9 253.1h1v1h-1zM447.4 253.6h1v1h-1zM446.9 253.6h1v1h-1zM453.8 253.6h1v1h-1zM454.1 253.6h1v1h-1zM444.9 254.1h1v1h-1zM447.2 254.1h1v1h-1zM452.9 254.1h1v1h-1zM453.2 254.1h1v1h-1zM446.0 254.6h1v1h-1zM446.5 254.6h1v1h-1zM456.1 254.6h1v1h-1zM454.5 254.6h1v1h-1zM446.0 255.1h1v1h-1zM446.1 255.1h1v1h-1zM454.2 255.1h1v1h-1zM453.8 255.1h1v1h-1zM443.5 255.6h1v1h-1zM445.0 255.6h1v1h-1zM455.1 255.6h1v1h-1zM455.2 255.6h1v1h-1zM444.4 256.1h1v1h-1zM443.5 256.1h1v1h-1zM456.4 256.1h1v1h-1zM454.5 256.1h1v1h-1zM445.0 256.6h1v1h-1zM444.9 256.6h1v1h-1zM456.8 256.6h1v1h-1zM455.3 256.6h1v1h-1zM444.7 257.1h1v1h-1zM445.2 257.1h1v1h-1zM455.6 257.1h1v1h-1zM455.6 257.1h1v1h-1zM444.5 257.6h1v1h-1zM444.8 257.6h1v1h-1zM455.3 257.6h1v1h-1zM458.0 257.6h1v1h-1zM444.6 258.1h1v1h-1zM444.2 258.1h1v1h-1zM456.5 258.1h1v1h-1zM455.2 258.1h1v1h-1zM444.3 258.6h1v1h-1zM444.5 258.6h1v1h-1zM455.8 258.6h1v1h-1zM455.4 258.6h1v1h-1zM442.9 259.1h1v1h-1zM443.3 259.1h1v1h-1zM455.9 259.1h1v1h-1zM457.2 259.1h1v1h-1zM444.3 259.6h1v1h-1zM443.4 259.6h1v1h-1zM456.1 259.6h1v1h-1zM457.1 259.6h1v1h-1zM438.8 260.1h1v1h-1zM444.1 260.1h1v1h-1zM456.4 260.1h1v1h-1zM456.1 260.1h1v1h-1zM443.5 260.6h1v1h-1zM441.0 260.6h1v1h-1zM458.3 260.6h1v1h-1zM456.8 260.6h1v1h-1zM443.1 261.1h1v1h-1zM440.0 261.1h1v1h-1zM458.8 261.1h1v1h-1zM456.2 261.1h1v1h-1zM443.7 261.6h1v1h-1zM443.4 261.6h1v1h-1zM459.1 261.6h1v1h-1zM456.1 261.6h1v1h-1zM443.1 262.1h1v1h-1zM443.9 262.1h1v1h-1zM459.4 262.1h1v1h-1zM457.5 262.1h1v1h-1zM443.6 262.6h1v1h-1zM442.0 262.6h1v1h-1zM456.8 262.6h1v1h-1zM456.9 262.6h1v1h-1zM443.7 263.1h1v1h-1zM441.5 263.1h1v1h-1zM456.4 263.1h1v1h-1zM456.8 263.1h1v1h-1zM442.1 263.6h1v1h-1zM442.8 263.6h1v1h-1zM457.5 263.6h1v1h-1zM456.3 263.6h1v1h-1zM443.3 264.1h1v1h-1zM441.8 264.1h1v1h-1zM457.1 264.1h1v1h-1zM459.1 264.1h1v1h-1zM443.0 264.6h1v1h-1zM443.4 264.6h1v1h-1zM458.7 264.6h1v1h-1zM457.3 264.6h1v1h-1zM441.8 265.1h1v1h-1zM442.5 265.1h1v1h-1zM459.0 265.1h1v1h-1zM457.3 265.1h1v1h-1zM442.3 265.6h1v1h-1zM441.3 265.6h1v1h-1zM457.5 265.6h1v1h-1zM457.7 265.6h1v1h-1zM440.4 266.1h1v1h-1zM443.6 266.1h1v1h-1zM459.5 266.1h1v1h-1zM456.7 266.1h1v1h-1zM443.9 266.6h1v1h-1zM442.9 266.6h1v1h-1zM457.0 266.6h1v1h-1zM457.6 266.6h1v1h-1zM443.2 267.1h1v1h-1zM442.7 267.1h1v1h-1zM456.3 267.1h1v1h-1zM456.3 267.1h1v1h-1zM442.6 267.6h1v1h-1zM444.1 267.6h1v1h-1zM456.7 267.6h1v1h-1zM455.9 267.6h1v1h-1zM443.8 268.1h1v1h-1zM441.6 268.1h1v1h-1zM456.7 268.1h1v1h-1zM456.8 268.1h1v1h-1zM444.2 268.6h1v1h-1zM443.0 268.6h1v1h-1zM455.7 268.6h1v1h-1zM456.2 268.6h1v1h-1zM441.9 269.1h1v1h-1zM441.8 269.1h1v1h-1zM457.5 269.1h1v1h-1zM455.6 269.1h1v1h-1zM442.8 269.6h1v1h-1zM444.3 269.6h1v1h-1zM459.6 269.6h1v1h-1zM456.0 269.6h1v1h-1zM444.6 270.1h1v1h-1zM443.8 270.1h1v1h-1zM456.3 270.1h1v1h-1zM456.1 270.1h1v1h-1zM444.7 270.6h1v1h-1zM444.5 270.6h1v1h-1zM457.3 270.6h1v1h-1zM456.7 270.6h1v1h-1zM444.9 271.1h1v1h-1zM444.7 271.1h1v1h-1zM456.9 271.1h1v1h-1zM456.4 271.1h1v1h-1zM442.6 271.6h1v1h-1zM444.7 271.6h1v1h-1zM457.7 271.6h1v1h-1zM457.0 271.6h1v1h-1zM445.1 272.1h1v1h-1zM444.7 272.1h1v1h-1zM456.3 272.1h1v1h-1zM456.3 272.1h1v1h-1zM444.0 272.6h1v1h-1zM445.2 272.6h1v1h-1zM456.1 272.6h1v1h-1zM456.0 272.6h1v1h-1zM443.9 273.1h1v1h-1zM443.7 273.1h1v1h-1zM455.4 273.1h1v1h-1zM455.5 273.1h1v1h-1zM443.0 273.6h1v1h-1zM444.2 273.6h1v1h-1zM456.3 273.6h1v1h-1zM457.3 273.6h1v1h-1zM444.0 274.1h1v1h-1zM444.9 274.1h1v1h-1zM457.4 274.1h1v1h-1zM456.1 274.1h1v1h-1zM444.0 274.6h1v1h-1zM445.3 274.6h1v1h-1zM457.2 274.6h1v1h-1zM455.6 274.6h1v1h-1zM445.0 275.1h1v1h-1zM444.6 275.1h1v1h-1zM455.4 275.1h1v1h-1zM456.0 275.1h1v1h-1zM442.8 275.6h1v1h-1zM445.4 275.6h1v1h-1zM456.9 275.6h1v1h-1zM456.0 275.6h1v1h-1zM445.5 276.1h1v1h-1zM445.3 276.1h1v1h-1zM458.4 276.1h1v1h-1zM454.8 276.1h1v1h-1zM444.7 276.6h1v1h-1zM445.3 276.6h1v1h-1zM456.3 276.6h1v1h-1zM455.4 276.6h1v1h-1zM444.6 277.1h1v1h-1zM444.4 277.1h1v1h-1zM455.8 277.1h1v1h-1zM455.0 277.1h1v1h-1zM445.6 277.6h1v1h-1zM445.9 277.6h1v1h-1zM456.9 277.6h1v1h-1zM457.4 277.6h1v1h-1zM445.4 278.1h1v1h-1zM442.3 278.1h1v1h-1zM456.1 278.1h1v1h-1zM456.3 278.1h1v1h-1zM443.6 278.6h1v1h-1zM443.8 278.6h1v1h-1zM456.3 278.6h1v1h-1zM454.6 278.6h1v1h-1zM445.8 279.1h1v1h-1zM443.7 279.1h1v1h-1zM454.3 279.1h1v1h-1zM456.0 279.1h1v1h-1zM444.1 279.6h1v1h-1zM445.1 279.6h1v1h-1zM454.0 279.6h1v1h-1zM455.9 279.6h1v1h-1zM442.6 280.1h1v1h-1zM444.6 280.1h1v1h-1zM454.3 280.1h1v1h-1zM455.3 280.1h1v1h-1zM445.7 280.6h1v1h-1zM445.5 280.6h1v1h-1zM457.3 280.6h1v1h-1zM456.2 280.6h1v1h-1zM444.9 281.1h1v1h-1zM446.1 281.1h1v1h-1zM455.8 281.1h1v1h-1zM454.3 281.1h1v1h-1zM445.7 281.6h1v1h-1zM445.6 281.6h1v1h-1zM454.8 281.6h1v1h-1zM454.9 281.6h1v1h-1zM445.1 282.1h1v1h-1zM445.5 282.1h1v1h-1zM453.9 282.1h1v1h-1zM454.6 282.1h1v1h-1zM443.3 282.6h1v1h-1zM445.4 282.6h1v1h-1zM455.5 282.6h1v1h-1zM455.2 282.6h1v1h-1zM445.6 283.1h1v1h-1zM445.4 283.1h1v1h-1zM454.3 283.1h1v1h-1zM455.6 283.1h1v1h-1zM444.1 283.6h1v1h-1zM445.6 283.6h1v1h-1zM455.2 283.6h1v1h-1zM454.1 283.6h1v1h-1zM446.2 284.1h1v1h-1zM445.1 284.1h1v1h-1zM455.4 284.1h1v1h-1zM454.0 284.1h1v1h-1zM446.0 284.6h1v1h-1zM446.1 284.6h1v1h-1zM455.8 284.6h1v1h-1zM456.4 284.6h1v1h-1zM446.1 285.1h1v1h-1zM444.2 285.1h1v1h-1zM455.2 285.1h1v1h-1zM453.9 285.1h1v1h-1zM444.9 285.6h1v1h-1zM446.1 285.6h1v1h-1zM454.0 285.6h1v1h-1zM454.8 285.6h1v1h-1zM443.2 286.1h1v1h-1zM444.9 286.1h1v1h-1zM454.4 286.1h1v1h-1zM454.1 286.1h1v1h-1zM444.8 286.6h1v1h-1zM445.0 286.6h1v1h-1zM454.0 286.6h1v1h-1zM454.7 286.6h1v1h-1zM445.5 287.1h1v1h-1zM442.1 287.1h1v1h-1zM454.0 287.1h1v1h-1zM454.9 287.1h1v1h-1zM445.3 287.6h1v1h-1zM444.8 287.6h1v1h-1zM455.0 287.6h1v1h-1zM456.0 287.6h1v1h-1zM444.3 288.1h1v1h-1zM443.6 288.1h1v1h-1zM456.6 288.1h1v1h-1zM454.3 288.1h1v1h-1zM445.9 288.6h1v1h-1zM443.3 288.6h1v1h-1zM456.8 288.6h1v1h-1zM454.5 288.6h1v1h-1zM445.0 289.1h1v1h-1zM442.5 289.1h1v1h-1zM456.4 289.1h1v1h-1zM456.4 289.1h1v1h-1zM443.2 289.6h1v1h-1zM445.8 289.6h1v1h-1zM455.8 289.6h1v1h-1zM455.1 289.6h1v1h-1zM443.8 290.1h1v1h-1zM445.3 290.1h1v1h-1zM456.7 290.1h1v1h-1zM455.6 290.1h1v1h-1zM444.2 290.6h1v1h-1zM444.2 290.6h1v1h-1zM455.6 290.6h1v1h-1zM455.5 290.6h1v1h-1zM443.2 291.1h1v1h-1zM445.0 291.1h1v1h-1zM454.8 291.1h1v1h-1zM455.9 291.1h1v1h-1zM444.2 291.6h1v1h-1zM445.1 291.6h1v1h-1zM455.6 291.6h1v1h-1zM456.9 291.6h1v1h-1zM444.5 292.1h1v1h-1zM444.0 292.1h1v1h-1zM455.4 292.1h1v1h-1zM454.8 292.1h1v1h-1zM445.2 292.6h1v1h-1zM444.6 292.6h1v1h-1zM456.4 292.6h1v1h-1zM455.5 292.6h1v1h-1zM442.3 293.1h1v1h-1zM443.5 293.1h1v1h-1zM456.0 293.1h1v1h-1zM457.4 293.1h1v1h-1zM443.2 293.6h1v1h-1zM441.9 293.6h1v1h-1zM455.2 293.6h1v1h-1zM456.3 293.6h1v1h-1zM445.0 294.1h1v1h-1zM445.1 294.1h1v1h-1zM456.8 294.1h1v1h-1zM455.4 294.1h1v1h-1zM441.6 294.6h1v1h-1zM445.1 294.6h1v1h-1zM455.2 294.6h1v1h-1zM456.8 294.6h1v1h-1zM443.1 295.1h1v1h-1zM445.0 295.1h1v1h-1zM457.4 295.1h1v1h-1zM455.2 295.1h1v1h-1zM443.8 295.6h1v1h-1zM444.0 295.6h1v1h-1zM456.3 295.6h1v1h-1zM455.9 295.6h1v1h-1zM442.6 296.1h1v1h-1zM444.1 296.1h1v1h-1zM455.9 296.1h1v1h-1zM455.3 296.1h1v1h-1zM443.6 296.6h1v1h-1zM443.6 296.6h1v1h-1zM457.2 296.6h1v1h-1zM456.0 296.6h1v1h-1zM441.7 297.1h1v1h-1zM441.9 297.1h1v1h-1zM457.0 297.1h1v1h-1zM455.5 297.1h1v1h-1zM440.8 297.6h1v1h-1zM440.8 297.6h1v1h-1zM456.5 297.6h1v1h-1zM457.1 297.6h1v1h-1zM444.1 298.1h1v1h-1zM443.6 298.1h1v1h-1zM457.4 298.1h1v1h-1zM459.5 298.1h1v1h-1zM443.5 298.6h1v1h-1zM442.7 298.6h1v1h-1zM458.2 298.6h1v1h-1zM457.8 298.6h1v1h-1zM443.2 299.1h1v1h-1zM441.5 299.1h1v1h-1zM459.0 299.1h1v1h-1zM455.9 299.1h1v1h-1zM444.5 299.6h1v1h-1zM444.9 299.6h1v1h-1zM455.1 299.6h1v1h-1zM456.5 299.6h1v1h-1zM444.2 300.1h1v1h-1zM445.2 300.1h1v1h-1zM455.7 300.1h1v1h-1zM456.8 300.1h1v1h-1zM444.0 300.6h1v1h-1zM444.3 300.6h1v1h-1zM457.1 300.6h1v1h-1zM454.9 300.6h1v1h-1zM443.5 301.1h1v1h-1zM444.7 301.1h1v1h-1zM455.2 301.1h1v1h-1zM456.2 301.1h1v1h-1zM445.0 301.6h1v1h-1zM444.9 301.6h1v1h-1zM456.0 301.6h1v1h-1zM457.8 301.6h1v1h-1zM443.0 302.1h1v1h-1zM443.8 302.1h1v1h-1zM455.6 302.1h1v1h-1zM456.8 302.1h1v1h-1zM443.8 302.6h1v1h-1zM444.5 302.6h1v1h-1zM456.2 302.6h1v1h-1zM456.6 302.6h1v1h-1zM442.8 303.1h1v1h-1zM444.9 303.1h1v1h-1zM455.8 303.1h1v1h-1zM455.5 303.1h1v1h-1zM443.3 303.6h1v1h-1zM442.6 303.6h1v1h-1zM455.7 303.6h1v1h-1zM455.6 303.6h1v1h-1zM443.9 304.1h1v1h-1zM443.1 304.1h1v1h-1zM456.2 304.1h1v1h-1zM457.2 304.1h1v1h-1zM444.5 304.6h1v1h-1zM444.2 304.6h1v1h-1zM458.0 304.6h1v1h-1zM455.5 304.6h1v1h-1zM443.6 305.1h1v1h-1zM442.4 305.1h1v1h-1zM455.9 305.1h1v1h-1zM456.1 305.1h1v1h-1zM444.6 305.6h1v1h-1zM443.9 305.6h1v1h-1zM457.1 305.6h1v1h-1zM456.5 305.6h1v1h-1zM443.6 306.1h1v1h-1zM443.2 306.1h1v1h-1zM455.8 306.1h1v1h-1zM455.7 306.1h1v1h-1zM443.0 306.6h1v1h-1zM443.2 306.6h1v1h-1zM457.1 306.6h1v1h-1zM455.8 306.6h1v1h-1zM443.7 307.1h1v1h-1zM443.7 307.1h1v1h-1zM459.0 307.1h1v1h-1zM456.4 307.1h1v1h-1zM443.7 307.6h1v1h-1zM443.4 307.6h1v1h-1zM457.8 307.6h1v1h-1zM457.2 307.6h1v1h-1zM443.8 308.1h1v1h-1zM442.5 308.1h1v1h-1zM457.3 308.1h1v1h-1zM456.0 308.1h1v1h-1zM443.4 308.6h1v1h-1zM444.1 308.6h1v1h-1zM457.5 308.6h1v1h-1zM457.1 308.6h1v1h-1zM444.2 309.1h1v1h-1zM443.1 309.1h1v1h-1zM456.8 309.1h1v1h-1zM456.8 309.1h1v1h-1zM444.1 309.6h1v1h-1zM443.3 309.6h1v1h-1zM456.2 309.6h1v1h-1zM456.9 309.6h1v1h-1zM442.8 310.1h1v1h-1zM440.5 310.1h1v1h-1zM456.1 310.1h1v1h-1zM457.6 310.1h1v1h-1zM442.9 310.6h1v1h-1zM443.1 310.6h1v1h-1zM456.8 310.6h1v1h-1zM456.6 310.6h1v1h-1zM443.7 311.1h1v1h-1zM444.1 311.1h1v1h-1zM456.3 311.1h1v1h-1zM456.9 311.1h1v1h-1zM444.4 311.6h1v1h-1zM443.4 311.6h1v1h-1zM455.8 311.6h1v1h-1zM456.7 311.6h1v1h-1zM442.1 312.1h1v1h-1zM443.9 312.1h1v1h-1zM456.1 312.1h1v1h-1zM456.4 312.1h1v1h-1zM444.2 312.6h1v1h-1zM443.7 312.6h1v1h-1zM456.0 312.6h1v1h-1zM458.6 312.6h1v1h-1zM443.2 313.1h1v1h-1zM443.2 313.1h1v1h-1zM457.1 313.1h1v1h-1zM458.1 313.1h1v1h-1zM443.6 313.6h1v1h-1zM443.1 313.6h1v1h-1zM455.9 313.6h1v1h-1zM457.1 313.6h1v1h-1zM443.4 314.1h1v1h-1zM444.1 314.1h1v1h-1zM457.4 314.1h1v1h-1zM456.2 314.1h1v1h-1zM444.2 314.6h1v1h-1zM442.7 314.6h1v1h-1zM457.3 314.6h1v1h-1zM457.4 314.6h1v1h-1zM444.2 315.1h1v1h-1zM441.0 315.1h1v1h-1zM456.9 315.1h1v1h-1zM456.4 315.1h1v1h-1zM444.4 315.6h1v1h-1zM442.3 315.6h1v1h-1zM456.3 315.6h1v1h-1zM458.7 315.6h1v1h-1zM443.1 316.1h1v1h-1zM443.1 316.1h1v1h-1zM456.8 316.1h1v1h-1zM455.9 316.1h1v1h-1zM444.3 316.6h1v1h-1zM442.9 316.6h1v1h-1zM456.7 316.6h1v1h-1zM457.2 316.6h1v1h-1zM443.9 317.1h1v1h-1zM443.0 317.1h1v1h-1zM456.3 317.1h1v1h-1zM456.0 317.1h1v1h-1zM443.7 317.6h1v1h-1zM443.4 317.6h1v1h-1zM455.9 317.6h1v1h-1zM456.1 317.6h1v1h-1zM443.2 318.1h1v1h-1zM444.0 318.1h1v1h-1zM456.8 318.1h1v1h-1zM455.4 318.1h1v1h-1zM443.3 318.6h1v1h-1zM444.0 318.6h1v1h-1zM455.5 318.6h1v1h-1zM456.2 318.6h1v1h-1zM444.4 319.1h1v1h-1zM443.4 319.1h1v1h-1zM458.3 319.1h1v1h-1zM457.4 319.1h1v1h-1zM444.1 319.6h1v1h-1zM441.4 319.6h1v1h-1zM455.9 319.6h1v1h-1zM456.0 319.6h1v1h-1zM444.6 320.1h1v1h-1zM444.3 320.1h1v1h-1zM456.3 320.1h1v1h-1zM457.4 320.1h1v1h-1zM443.8 320.6h1v1h-1zM443.4 320.6h1v1h-1zM456.6 320.6h1v1h-1zM457.3 320.6h1v1h-1zM444.8 321.1h1v1h-1zM441.7 321.1h1v1h-1zM456.6 321.1h1v1h-1zM457.0 321.1h1v1h-1zM444.5 321.6h1v1h-1zM444.1 321.6h1v1h-1zM457.4 321.6h1v1h-1zM456.5 321.6h1v1h-1zM444.8 322.1h1v1h-1zM444.4 322.1h1v1h-1zM456.0 322.1h1v1h-1zM455.3 322.1h1v1h-1zM444.5 322.6h1v1h-1zM443.7 322.6h1v1h-1zM455.4 322.6h1v1h-1zM455.4 322.6h1v1h-1zM444.2 323.1h1v1h-1zM442.9 323.1h1v1h-1zM456.3 323.1h1v1h-1zM457.8 323.1h1v1h-1zM442.8 323.6h1v1h-1zM444.0 323.6h1v1h-1zM455.0 323.6h1v1h-1zM456.6 323.6h1v1h-1zM444.5 324.1h1v1h-1zM443.8 324.1h1v1h-1zM457.9 324.1h1v1h-1zM454.9 324.1h1v1h-1zM445.0 324.6h1v1h-1zM443.9 324.6h1v1h-1zM457.8 324.6h1v1h-1zM455.6 324.6h1v1h-1zM444.9 325.1h1v1h-1zM445.0 325.1h1v1h-1zM454.8 325.1h1v1h-1zM455.5 325.1h1v1h-1zM445.1 325.6h1v1h-1zM444.3 325.6h1v1h-1zM456.9 325.6h1v1h-1zM456.0 325.6h1v1h-1zM443.3 326.1h1v1h-1zM444.2 326.1h1v1h-1zM456.7 326.1h1v1h-1zM456.2 326.1h1v1h-1zM444.9 326.6h1v1h-1zM444.4 326.6h1v1h-1zM457.8 326.6h1v1h-1zM456.6 326.6h1v1h-1zM442.3 327.1h1v1h-1zM443.9 327.1h1v1h-1zM455.3 327.1h1v1h-1zM456.8 327.1h1v1h-1zM444.6 327.6h1v1h-1zM443.7 327.6h1v1h-1zM454.8 327.6h1v1h-1zM454.5 327.6h1v1h-1zM445.3 328.1h1v1h-1zM444.2 328.1h1v1h-1zM457.9 328.1h1v1h-1zM454.5 328.1h1v1h-1zM444.0 328.6h1v1h-1zM444.0 328.6h1v1h-1zM456.5 328.6h1v1h-1zM454.8 328.6h1v1h-1zM445.6 329.1h1v1h-1zM444.8 329.1h1v1h-1zM458.0 329.1h1v1h-1zM455.2 329.1h1v1h-1zM444.8 329.6h1v1h-1zM444.6 329.6h1v1h-1zM453.9 329.6h1v1h-1zM454.4 329.6h1v1h-1zM445.2 330.1h1v1h-1zM445.0 330.1h1v1h-1zM454.2 330.1h1v1h-1zM455.1 330.1h1v1h-1zM444.7 330.6h1v1h-1zM444.5 330.6h1v1h-1zM454.2 330.6h1v1h-1zM454.7 330.6h1v1h-1zM446.4 331.1h1v1h-1zM444.6 331.1h1v1h-1zM457.0 331.1h1v1h-1zM454.8 331.1h1v1h-1zM445.8 331.6h1v1h-1zM445.6 331.6h1v1h-1zM454.0 331.6h1v1h-1zM453.9 331.6h1v1h-1z" fill="#2a3ea8"/>
<path d="M448.8 288.0h1v1h-1zM450.8 295.8h1v1h-1zM446.7 294.1h1v1h-1zM451.2 291.2h1v1h-1zM452.6 284.8h1v1h-1zM445.8 296.3h1v1h-1zM449.1 279.4h1v1h-1zM446.1 276.8h1v1h-1zM447.6 279.2h1v1h-1zM449.7 292.3h1v1h-1zM448.5 273.9h1v1h-1zM449.1 285.0h1v1h-1zM446.1 275.6h1v1h-1zM456.0 270.7h1v1h-1zM445.9 293.8h1v1h-1zM455.2 292.8h1v1h-1zM446.7 288.0h1v1h-1zM449.7 285.7h1v1h-1zM450.7 276.3h1v1h-1zM455.1 270.7h1v1h-1zM451.5 290.5h1v1h-1zM452.2 299.6h1v1h-1z" fill="#b8c4ec" opacity="0.6"/>
<path d="M446.2 272.0h1v1h-1zM443.7 311.1h1v1h-1zM455.1 318.4h1v1h-1zM446.7 328.1h1v1h-1zM456.2 308.9h1v1h-1zM445.6 277.9h1v1h-1zM446.4 280.2h1v1h-1zM456.0 295.6h1v1h-1zM446.3 272.1h1v1h-1zM456.3 296.9h1v1h-1zM454.3 326.7h1v1h-1zM455.9 309.8h1v1h-1zM444.5 301.6h1v1h-1zM456.7 265.0h1v1h-1zM445.3 283.8h1v1h-1zM445.2 290.0h1v1h-1zM449.5 252.3h1v1h-1zM445.1 257.8h1v1h-1zM452.8 285.4h1v1h-1zM447.9 252.8h1v1h-1zM455.1 265.1h1v1h-1zM455.8 315.6h1v1h-1zM454.2 289.1h1v1h-1zM445.0 285.9h1v1h-1zM445.0 328.1h1v1h-1zM454.9 256.8h1v1h-1zM455.6 275.6h1v1h-1zM446.3 290.1h1v1h-1zM445.2 279.2h1v1h-1zM456.0 269.7h1v1h-1zM456.5 263.7h1v1h-1zM454.6 326.6h1v1h-1zM454.7 296.7h1v1h-1zM444.6 270.1h1v1h-1zM456.3 261.0h1v1h-1z" fill="#ffffff" opacity="0.5"/>
<g filter="url(#bl)">
<ellipse cx="448.7" cy="264.4" rx="5.2" ry="8.4" fill="#4868cc" opacity="0.85"/>
<ellipse cx="448.2" cy="313.6" rx="4.6" ry="16.5" fill="#4466c8" opacity="0.8"/>
<ellipse cx="448.7" cy="264.4" rx="3.4" ry="6.2" fill="#84c0d8"/>
<ellipse cx="448.2" cy="314.1" rx="3.2" ry="13" fill="#74a8e0"/>
<ellipse cx="448.7" cy="264.4" rx="2.7" ry="4.7" fill="#88be4c"/>
<ellipse cx="448.2" cy="310.6" rx="2.5" ry="8.0" fill="#78b850"/>
<ellipse cx="448.7" cy="264.4" rx="1.8" ry="3.0" fill="#d0c428"/>
<ellipse cx="448.2" cy="309.6" rx="1.7" ry="5.2" fill="#d4c428"/>
<ellipse cx="448.7" cy="264.4" rx="1.0" ry="1.3" fill="#5a4610"/>
<ellipse cx="448.2" cy="309.6" rx="0.9" ry="2.3" fill="#7a5a10"/>
</g></g>
<rect x="382.4" y="251.1" width="80.6" height="81.0" fill="none" stroke="#222" stroke-width="1.3"/>
<line x1="392.5" y1="332.1" x2="392.5" y2="333.6" stroke="#222" stroke-width="0.8"/>
<line x1="402.5" y1="332.1" x2="402.5" y2="333.6" stroke="#222" stroke-width="0.8"/>
<line x1="412.6" y1="332.1" x2="412.6" y2="333.6" stroke="#222" stroke-width="0.8"/>
<line x1="422.7" y1="332.1" x2="422.7" y2="333.6" stroke="#222" stroke-width="0.8"/>
<line x1="432.8" y1="332.1" x2="432.8" y2="333.6" stroke="#222" stroke-width="0.8"/>
<line x1="442.8" y1="332.1" x2="442.8" y2="333.6" stroke="#222" stroke-width="0.8"/>
<line x1="452.9" y1="332.1" x2="452.9" y2="333.6" stroke="#222" stroke-width="0.8"/>
<line x1="380.4" y1="271.4" x2="382.4" y2="271.4" stroke="#222" stroke-width="1"/>
<line x1="380.4" y1="291.6" x2="382.4" y2="291.6" stroke="#222" stroke-width="1"/>
<line x1="380.4" y1="311.9" x2="382.4" y2="311.9" stroke="#222" stroke-width="1"/>
<rect x="389.9" y="253.6" width="48.9" height="19.2" fill="none" stroke="#333" stroke-width="1.05"/>
<rect x="391.0" y="290.9" width="47.8" height="36.7" fill="none" stroke="#333" stroke-width="1.05"/>
<clipPath id="cp3"><rect x="285.6" y="346.8" width="80.9" height="81.0"/></clipPath>
<g fill="#5a68b4" fill-opacity="0.6">
<rect x="338.8" y="365.9" width="0.9" height="0.9"/>
<rect x="329.8" y="355.6" width="0.9" height="0.9"/>
<rect x="317.5" y="360.7" width="0.9" height="0.9"/>
<rect x="325.6" y="351.3" width="0.9" height="0.9"/>
<rect x="342.8" y="353.0" width="0.9" height="0.9"/>
<rect x="334.0" y="356.5" width="0.9" height="0.9"/>
<rect x="317.7" y="358.9" width="0.9" height="0.9"/>
<rect x="318.7" y="358.5" width="0.9" height="0.9"/>
<rect x="326.1" y="353.3" width="0.9" height="0.9"/>
<rect x="339.7" y="358.4" width="0.9" height="0.9"/>
<rect x="326.8" y="359.4" width="0.9" height="0.9"/>
<rect x="320.3" y="364.0" width="0.9" height="0.9"/>
<rect x="328.9" y="359.9" width="0.9" height="0.9"/>
<rect x="336.7" y="360.9" width="0.9" height="0.9"/>
<rect x="336.3" y="357.9" width="0.9" height="0.9"/>
<rect x="340.0" y="358.8" width="0.9" height="0.9"/>
<rect x="325.0" y="362.8" width="0.9" height="0.9"/>
<rect x="343.8" y="351.5" width="0.9" height="0.9"/>
<rect x="331.8" y="358.3" width="0.9" height="0.9"/>
<rect x="331.7" y="362.7" width="0.9" height="0.9"/>
<rect x="317.4" y="358.5" width="0.9" height="0.9"/>
<rect x="323.3" y="363.6" width="0.9" height="0.9"/>
<rect x="336.6" y="354.8" width="0.9" height="0.9"/>
<rect x="325.4" y="362.6" width="0.9" height="0.9"/>
<rect x="329.5" y="358.3" width="0.9" height="0.9"/>
<rect x="339.6" y="357.1" width="0.9" height="0.9"/>
<rect x="320.7" y="365.1" width="0.9" height="0.9"/>
<rect x="312.3" y="362.3" width="0.9" height="0.9"/>
<rect x="327.3" y="359.2" width="0.9" height="0.9"/>
<rect x="331.6" y="361.9" width="0.9" height="0.9"/>
<rect x="324.3" y="357.1" width="0.9" height="0.9"/>
<rect x="330.5" y="364.4" width="0.9" height="0.9"/>
<rect x="318.2" y="359.5" width="0.9" height="0.9"/>
<rect x="322.0" y="353.7" width="0.9" height="0.9"/>
<rect x="327.4" y="353.9" width="0.9" height="0.9"/>
<rect x="320.7" y="358.5" width="0.9" height="0.9"/>
<rect x="321.8" y="358.3" width="0.9" height="0.9"/>
<rect x="343.4" y="364.2" width="0.9" height="0.9"/>
<rect x="330.5" y="354.6" width="0.9" height="0.9"/>
<rect x="327.7" y="363.2" width="0.9" height="0.9"/>
<rect x="323.4" y="359.4" width="0.9" height="0.9"/>
<rect x="318.9" y="354.6" width="0.9" height="0.9"/>
<rect x="331.0" y="356.3" width="0.9" height="0.9"/>
<rect x="328.8" y="360.3" width="0.9" height="0.9"/>
<rect x="343.3" y="358.8" width="0.9" height="0.9"/>
<rect x="317.8" y="356.1" width="0.9" height="0.9"/>
<rect x="343.9" y="365.0" width="0.9" height="0.9"/>
<rect x="338.6" y="360.9" width="0.9" height="0.9"/>
<rect x="318.0" y="362.0" width="0.9" height="0.9"/>
<rect x="334.4" y="355.5" width="0.9" height="0.9"/>
</g>
<g fill="#4a58b0" fill-opacity="0.7">
<rect x="340.5" y="356.4" width="0.9" height="0.9"/>
<rect x="338.5" y="363.0" width="0.9" height="0.9"/>
<rect x="341.4" y="356.1" width="0.9" height="0.9"/>
<rect x="343.3" y="353.4" width="0.9" height="0.9"/>
<rect x="337.6" y="365.8" width="0.9" height="0.9"/>
<rect x="340.7" y="353.3" width="0.9" height="0.9"/>
<rect x="344.3" y="353.4" width="0.9" height="0.9"/>
<rect x="341.7" y="359.0" width="0.9" height="0.9"/>
<rect x="338.6" y="354.6" width="0.9" height="0.9"/>
<rect x="335.9" y="364.3" width="0.9" height="0.9"/>
<rect x="343.6" y="356.2" width="0.9" height="0.9"/>
<rect x="343.0" y="365.3" width="0.9" height="0.9"/>
<rect x="339.9" y="365.6" width="0.9" height="0.9"/>
<rect x="341.7" y="360.5" width="0.9" height="0.9"/>
<rect x="343.5" y="356.0" width="0.9" height="0.9"/>
<rect x="339.1" y="363.5" width="0.9" height="0.9"/>
<rect x="332.2" y="361.7" width="0.9" height="0.9"/>
<rect x="338.2" y="351.6" width="0.9" height="0.9"/>
<rect x="345.1" y="354.6" width="0.9" height="0.9"/>
<rect x="339.2" y="361.9" width="0.9" height="0.9"/>
<rect x="343.0" y="355.3" width="0.9" height="0.9"/>
</g>
<g fill="#5a68b4" fill-opacity="0.6">
<rect x="331.0" y="396.8" width="0.9" height="0.9"/>
<rect x="330.2" y="409.7" width="0.9" height="0.9"/>
<rect x="343.5" y="410.6" width="0.9" height="0.9"/>
<rect x="338.3" y="404.0" width="0.9" height="0.9"/>
<rect x="324.0" y="408.0" width="0.9" height="0.9"/>
<rect x="330.2" y="410.8" width="0.9" height="0.9"/>
<rect x="332.8" y="409.9" width="0.9" height="0.9"/>
<rect x="311.6" y="402.2" width="0.9" height="0.9"/>
<rect x="340.3" y="408.3" width="0.9" height="0.9"/>
<rect x="328.6" y="407.0" width="0.9" height="0.9"/>
<rect x="328.6" y="409.7" width="0.9" height="0.9"/>
<rect x="312.0" y="398.9" width="0.9" height="0.9"/>
<rect x="331.6" y="404.8" width="0.9" height="0.9"/>
<rect x="312.9" y="399.0" width="0.9" height="0.9"/>
<rect x="343.1" y="407.4" width="0.9" height="0.9"/>
<rect x="341.2" y="409.2" width="0.9" height="0.9"/>
<rect x="323.6" y="402.3" width="0.9" height="0.9"/>
<rect x="312.4" y="414.4" width="0.9" height="0.9"/>
<rect x="333.9" y="404.0" width="0.9" height="0.9"/>
<rect x="338.9" y="408.7" width="0.9" height="0.9"/>
<rect x="305.5" y="405.2" width="0.9" height="0.9"/>
<rect x="322.3" y="414.0" width="0.9" height="0.9"/>
<rect x="319.1" y="418.1" width="0.9" height="0.9"/>
<rect x="335.0" y="404.6" width="0.9" height="0.9"/>
<rect x="332.3" y="419.1" width="0.9" height="0.9"/>
<rect x="335.8" y="399.6" width="0.9" height="0.9"/>
<rect x="320.5" y="399.8" width="0.9" height="0.9"/>
<rect x="325.5" y="398.2" width="0.9" height="0.9"/>
<rect x="319.7" y="415.6" width="0.9" height="0.9"/>
<rect x="328.5" y="414.1" width="0.9" height="0.9"/>
<rect x="324.4" y="406.7" width="0.9" height="0.9"/>
<rect x="340.7" y="417.2" width="0.9" height="0.9"/>
<rect x="300.6" y="421.0" width="0.9" height="0.9"/>
<rect x="341.7" y="415.0" width="0.9" height="0.9"/>
<rect x="329.0" y="419.0" width="0.9" height="0.9"/>
<rect x="327.8" y="390.8" width="0.9" height="0.9"/>
<rect x="332.9" y="398.4" width="0.9" height="0.9"/>
<rect x="317.9" y="418.2" width="0.9" height="0.9"/>
<rect x="305.9" y="413.7" width="0.9" height="0.9"/>
<rect x="340.5" y="403.4" width="0.9" height="0.9"/>
<rect x="324.5" y="412.7" width="0.9" height="0.9"/>
<rect x="309.8" y="420.3" width="0.9" height="0.9"/>
<rect x="316.5" y="416.3" width="0.9" height="0.9"/>
<rect x="332.1" y="406.5" width="0.9" height="0.9"/>
<rect x="330.6" y="415.5" width="0.9" height="0.9"/>
<rect x="323.7" y="415.5" width="0.9" height="0.9"/>
<rect x="333.8" y="399.2" width="0.9" height="0.9"/>
<rect x="336.8" y="406.8" width="0.9" height="0.9"/>
<rect x="328.3" y="411.3" width="0.9" height="0.9"/>
<rect x="330.0" y="415.1" width="0.9" height="0.9"/>
<rect x="304.9" y="395.2" width="0.9" height="0.9"/>
<rect x="331.0" y="410.6" width="0.9" height="0.9"/>
<rect x="335.1" y="392.7" width="0.9" height="0.9"/>
<rect x="329.6" y="405.6" width="0.9" height="0.9"/>
<rect x="332.1" y="399.5" width="0.9" height="0.9"/>
<rect x="323.5" y="409.8" width="0.9" height="0.9"/>
<rect x="332.5" y="403.7" width="0.9" height="0.9"/>
<rect x="335.9" y="405.8" width="0.9" height="0.9"/>
<rect x="325.0" y="417.0" width="0.9" height="0.9"/>
<rect x="317.1" y="418.8" width="0.9" height="0.9"/>
<rect x="317.2" y="409.8" width="0.9" height="0.9"/>
<rect x="314.0" y="413.9" width="0.9" height="0.9"/>
<rect x="323.4" y="401.1" width="0.9" height="0.9"/>
<rect x="322.5" y="405.3" width="0.9" height="0.9"/>
<rect x="328.4" y="407.0" width="0.9" height="0.9"/>
<rect x="341.6" y="416.1" width="0.9" height="0.9"/>
<rect x="312.1" y="402.4" width="0.9" height="0.9"/>
<rect x="329.4" y="405.6" width="0.9" height="0.9"/>
<rect x="333.7" y="406.2" width="0.9" height="0.9"/>
<rect x="339.3" y="408.1" width="0.9" height="0.9"/>
<rect x="312.2" y="405.2" width="0.9" height="0.9"/>
<rect x="305.6" y="405.2" width="0.9" height="0.9"/>
<rect x="335.0" y="407.2" width="0.9" height="0.9"/>
<rect x="339.1" y="407.1" width="0.9" height="0.9"/>
<rect x="340.2" y="408.7" width="0.9" height="0.9"/>
<rect x="338.4" y="406.9" width="0.9" height="0.9"/>
<rect x="339.8" y="406.2" width="0.9" height="0.9"/>
<rect x="328.3" y="410.1" width="0.9" height="0.9"/>
<rect x="319.9" y="409.9" width="0.9" height="0.9"/>
<rect x="323.5" y="415.2" width="0.9" height="0.9"/>
</g>
<g fill="#4a58b0" fill-opacity="0.7">
<rect x="339.6" y="415.3" width="0.9" height="0.9"/>
<rect x="336.7" y="406.3" width="0.9" height="0.9"/>
<rect x="343.4" y="417.7" width="0.9" height="0.9"/>
<rect x="344.6" y="399.5" width="0.9" height="0.9"/>
<rect x="344.0" y="402.1" width="0.9" height="0.9"/>
<rect x="340.3" y="416.3" width="0.9" height="0.9"/>
<rect x="345.4" y="407.3" width="0.9" height="0.9"/>
<rect x="342.4" y="398.9" width="0.9" height="0.9"/>
<rect x="344.2" y="413.1" width="0.9" height="0.9"/>
<rect x="345.4" y="410.4" width="0.9" height="0.9"/>
<rect x="336.3" y="413.0" width="0.9" height="0.9"/>
<rect x="338.5" y="401.1" width="0.9" height="0.9"/>
<rect x="338.1" y="401.3" width="0.9" height="0.9"/>
<rect x="336.5" y="404.3" width="0.9" height="0.9"/>
<rect x="337.6" y="401.7" width="0.9" height="0.9"/>
<rect x="337.6" y="415.4" width="0.9" height="0.9"/>
<rect x="335.2" y="417.0" width="0.9" height="0.9"/>
<rect x="341.8" y="394.4" width="0.9" height="0.9"/>
<rect x="339.2" y="410.1" width="0.9" height="0.9"/>
<rect x="342.7" y="407.2" width="0.9" height="0.9"/>
<rect x="336.5" y="397.0" width="0.9" height="0.9"/>
<rect x="345.6" y="413.5" width="0.9" height="0.9"/>
<rect x="335.9" y="394.4" width="0.9" height="0.9"/>
<rect x="340.3" y="402.6" width="0.9" height="0.9"/>
<rect x="343.7" y="396.4" width="0.9" height="0.9"/>
<rect x="337.3" y="415.7" width="0.9" height="0.9"/>
<rect x="345.4" y="412.8" width="0.9" height="0.9"/>
<rect x="338.4" y="411.6" width="0.9" height="0.9"/>
<rect x="341.6" y="413.9" width="0.9" height="0.9"/>
<rect x="339.1" y="404.5" width="0.9" height="0.9"/>
<rect x="338.8" y="404.3" width="0.9" height="0.9"/>
<rect x="335.6" y="395.5" width="0.9" height="0.9"/>
<rect x="338.6" y="414.0" width="0.9" height="0.9"/>
<rect x="342.4" y="402.5" width="0.9" height="0.9"/>
<rect x="335.4" y="413.9" width="0.9" height="0.9"/>
<rect x="337.6" y="412.8" width="0.9" height="0.9"/>
<rect x="337.8" y="400.8" width="0.9" height="0.9"/>
<rect x="338.3" y="417.8" width="0.9" height="0.9"/>
<rect x="339.5" y="413.8" width="0.9" height="0.9"/>
<rect x="338.4" y="409.2" width="0.9" height="0.9"/>
<rect x="336.2" y="399.6" width="0.9" height="0.9"/>
<rect x="341.9" y="415.6" width="0.9" height="0.9"/>
</g>
<g clip-path="url(#cp3)">
<polygon points="353.9,347.8 352.8,348.3 352.1,348.8 351.5,349.3 351.1,349.8 350.6,350.3 350.3,350.8 349.9,351.3 349.7,351.8 349.4,352.3 349.2,352.8 348.9,353.3 348.7,353.8 348.6,354.3 348.4,354.8 348.3,355.3 348.1,355.8 348.0,356.3 347.9,356.8 347.8,357.3 347.8,357.8 347.7,358.3 347.7,358.8 347.6,359.3 347.6,359.8 347.6,360.3 347.6,360.8 347.6,361.3 347.6,361.8 347.7,362.3 347.7,362.8 348.1,363.3 348.1,363.8 348.2,364.3 348.3,364.8 348.4,365.3 348.5,365.8 348.6,366.3 348.7,366.8 348.8,367.3 348.9,367.8 348.9,368.3 349.0,368.8 349.1,369.3 349.2,369.8 349.2,370.3 349.3,370.8 349.4,371.3 349.4,371.8 349.5,372.3 349.5,372.8 349.6,373.3 349.6,373.8 349.7,374.3 349.7,374.8 349.8,375.3 349.8,375.8 349.8,376.3 349.9,376.8 349.9,377.3 349.9,377.8 349.9,378.3 349.9,378.8 349.9,379.3 349.9,379.8 349.9,380.3 349.9,380.8 349.9,381.3 349.8,381.8 349.8,382.3 349.8,382.8 349.7,383.3 349.7,383.8 349.7,384.3 349.6,384.8 349.6,385.3 349.5,385.8 349.5,386.3 349.4,386.8 349.3,387.3 349.3,387.8 349.2,388.3 349.1,388.8 349.0,389.3 349.0,389.8 348.9,390.3 348.8,390.8 348.7,391.3 348.6,391.8 348.5,392.3 348.4,392.8 348.3,393.3 348.2,393.8 348.1,394.3 348.0,394.8 347.9,395.3 347.8,395.8 349.0,396.3 348.9,396.8 348.8,397.3 348.7,397.8 348.7,398.3 348.6,398.8 348.5,399.3 348.5,399.8 348.4,400.3 348.4,400.8 348.3,401.3 348.3,401.8 348.3,402.3 348.2,402.8 348.2,403.3 348.2,403.8 348.1,404.3 348.1,404.8 348.1,405.3 348.1,405.8 348.0,406.3 348.0,406.8 348.0,407.3 348.0,407.8 348.0,408.3 348.0,408.8 348.0,409.3 348.0,409.8 348.0,410.3 348.0,410.8 348.0,411.3 348.0,411.8 348.1,412.3 348.1,412.8 348.1,413.3 348.1,413.8 348.2,414.3 348.2,414.8 348.2,415.3 348.3,415.8 348.3,416.3 348.3,416.8 348.4,417.3 348.4,417.8 348.5,418.3 348.6,418.8 348.6,419.3 348.7,419.8 348.7,420.3 348.8,420.8 348.9,421.3 349.0,421.8 349.1,422.3 349.1,422.8 349.2,423.3 349.3,423.8 349.4,424.3 349.5,424.8 349.7,425.3 349.8,425.8 349.9,426.3 350.0,426.8 350.2,427.3 357.4,427.3 357.6,426.8 357.7,426.3 357.8,425.8 357.9,425.3 358.1,424.8 358.2,424.3 358.3,423.8 358.4,423.3 358.5,422.8 358.5,422.3 358.6,421.8 358.7,421.3 358.8,420.8 358.9,420.3 358.9,419.8 359.0,419.3 359.0,418.8 359.1,418.3 359.2,417.8 359.2,417.3 359.3,416.8 359.3,416.3 359.3,415.8 359.4,415.3 359.4,414.8 359.4,414.3 359.5,413.8 359.5,413.3 359.5,412.8 359.5,412.3 359.6,411.8 359.6,411.3 359.6,410.8 359.6,410.3 359.6,409.8 359.6,409.3 359.6,408.8 359.6,408.3 359.6,407.8 359.6,407.3 359.6,406.8 359.6,406.3 359.5,405.8 359.5,405.3 359.5,404.8 359.5,404.3 359.4,403.8 359.4,403.3 359.4,402.8 359.3,402.3 359.3,401.8 359.3,401.3 359.2,400.8 359.2,400.3 359.1,399.8 359.1,399.3 359.0,398.8 358.9,398.3 358.9,397.8 358.8,397.3 358.7,396.8 358.6,396.3 359.8,395.8 359.7,395.3 359.6,394.8 359.5,394.3 359.4,393.8 359.3,393.3 359.2,392.8 359.1,392.3 359.0,391.8 359.0,391.3 358.9,390.8 358.8,390.3 358.7,389.8 358.6,389.3 358.6,388.8 358.5,388.3 358.4,387.8 358.4,387.3 358.3,386.8 358.3,386.3 358.2,385.8 358.2,385.3 358.1,384.8 358.1,384.3 358.0,383.8 358.0,383.3 358.0,382.8 358.0,382.3 357.9,381.8 357.9,381.3 357.9,380.8 357.9,380.3 357.9,379.8 357.9,379.3 357.9,378.8 357.9,378.3 357.9,377.8 358.0,377.3 358.0,376.8 358.0,376.3 358.0,375.8 358.1,375.3 358.1,374.8 358.2,374.3 358.2,373.8 358.3,373.3 358.3,372.8 358.4,372.3 358.5,371.8 358.5,371.3 358.6,370.8 358.7,370.3 358.8,369.8 358.8,369.3 358.9,368.8 359.0,368.3 359.1,367.8 359.2,367.3 359.3,366.8 359.4,366.3 359.5,365.8 359.6,365.3 359.6,364.8 359.7,364.3 359.8,363.8 359.9,363.3 360.3,362.8 360.3,362.3 360.4,361.8 360.4,361.3 360.4,360.8 360.4,360.3 360.4,359.8 360.4,359.3 360.3,358.8 360.3,358.3 360.2,357.8 360.2,357.3 360.1,356.8 360.0,356.3 359.9,355.8 359.7,355.3 359.6,354.8 359.4,354.3 359.3,353.8 359.1,353.3 358.8,352.8 358.6,352.3 358.3,351.8 358.1,351.3 357.7,350.8 357.4,350.3 356.9,349.8 356.5,349.3 355.9,348.8 355.2,348.3 354.1,347.8" fill="#2a3ea8"/>
<path d="M353.2 347.8h1v1h-1zM354.1 347.8h1v1h-1zM356.3 347.8h1v1h-1zM354.1 347.8h1v1h-1zM351.6 348.3h1v1h-1zM351.7 348.3h1v1h-1zM355.4 348.3h1v1h-1zM356.1 348.3h1v1h-1zM352.3 348.8h1v1h-1zM352.3 348.8h1v1h-1zM355.8 348.8h1v1h-1zM357.8 348.8h1v1h-1zM351.0 349.3h1v1h-1zM349.9 349.3h1v1h-1zM357.3 349.3h1v1h-1zM356.9 349.3h1v1h-1zM351.1 349.8h1v1h-1zM349.5 349.8h1v1h-1zM358.6 349.8h1v1h-1zM357.0 349.8h1v1h-1zM350.1 350.3h1v1h-1zM350.4 350.3h1v1h-1zM358.4 350.3h1v1h-1zM357.5 350.3h1v1h-1zM349.8 350.8h1v1h-1zM346.9 350.8h1v1h-1zM357.8 350.8h1v1h-1zM359.0 350.8h1v1h-1zM347.6 351.3h1v1h-1zM349.5 351.3h1v1h-1zM359.5 351.3h1v1h-1zM358.2 351.3h1v1h-1zM348.9 351.8h1v1h-1zM349.1 351.8h1v1h-1zM358.4 351.8h1v1h-1zM361.3 351.8h1v1h-1zM348.1 352.3h1v1h-1zM348.0 352.3h1v1h-1zM361.5 352.3h1v1h-1zM358.8 352.3h1v1h-1zM348.8 352.8h1v1h-1zM349.1 352.8h1v1h-1zM359.6 352.8h1v1h-1zM361.7 352.8h1v1h-1zM347.6 353.3h1v1h-1zM348.3 353.3h1v1h-1zM360.2 353.3h1v1h-1zM359.9 353.3h1v1h-1zM346.8 353.8h1v1h-1zM348.0 353.8h1v1h-1zM359.3 353.8h1v1h-1zM359.8 353.8h1v1h-1zM345.3 354.3h1v1h-1zM347.3 354.3h1v1h-1zM359.8 354.3h1v1h-1zM360.9 354.3h1v1h-1zM347.6 354.8h1v1h-1zM348.6 354.8h1v1h-1zM360.9 354.8h1v1h-1zM360.0 354.8h1v1h-1zM346.7 355.3h1v1h-1zM346.5 355.3h1v1h-1zM360.7 355.3h1v1h-1zM359.6 355.3h1v1h-1zM347.7 355.8h1v1h-1zM346.4 355.8h1v1h-1zM360.9 355.8h1v1h-1zM360.3 355.8h1v1h-1zM347.5 356.3h1v1h-1zM346.8 356.3h1v1h-1zM360.4 356.3h1v1h-1zM359.9 356.3h1v1h-1zM346.9 356.8h1v1h-1zM346.4 356.8h1v1h-1zM361.7 356.8h1v1h-1zM360.1 356.8h1v1h-1zM347.4 357.3h1v1h-1zM347.1 357.3h1v1h-1zM362.8 357.3h1v1h-1zM360.8 357.3h1v1h-1zM347.5 357.8h1v1h-1zM346.6 357.8h1v1h-1zM361.3 357.8h1v1h-1zM361.6 357.8h1v1h-1zM347.9 358.3h1v1h-1zM344.8 358.3h1v1h-1zM361.1 358.3h1v1h-1zM361.3 358.3h1v1h-1zM345.7 358.8h1v1h-1zM347.2 358.8h1v1h-1zM360.6 358.8h1v1h-1zM361.1 358.8h1v1h-1zM346.8 359.3h1v1h-1zM347.7 359.3h1v1h-1zM362.0 359.3h1v1h-1zM360.6 359.3h1v1h-1zM346.5 359.8h1v1h-1zM347.0 359.8h1v1h-1zM360.9 359.8h1v1h-1zM361.3 359.8h1v1h-1zM345.2 360.3h1v1h-1zM345.8 360.3h1v1h-1zM360.8 360.3h1v1h-1zM361.4 360.3h1v1h-1zM347.8 360.8h1v1h-1zM346.2 360.8h1v1h-1zM362.0 360.8h1v1h-1zM361.0 360.8h1v1h-1zM347.5 361.3h1v1h-1zM347.0 361.3h1v1h-1zM360.8 361.3h1v1h-1zM362.4 361.3h1v1h-1zM345.7 361.8h1v1h-1zM346.9 361.8h1v1h-1zM360.4 361.8h1v1h-1zM361.0 361.8h1v1h-1zM346.6 362.3h1v1h-1zM347.3 362.3h1v1h-1zM362.5 362.3h1v1h-1zM360.8 362.3h1v1h-1zM346.6 362.8h1v1h-1zM345.7 362.8h1v1h-1zM360.7 362.8h1v1h-1zM360.1 362.8h1v1h-1zM345.4 363.3h1v1h-1zM347.4 363.3h1v1h-1zM360.8 363.3h1v1h-1zM360.0 363.3h1v1h-1zM347.4 363.8h1v1h-1zM347.9 363.8h1v1h-1zM360.7 363.8h1v1h-1zM363.8 363.8h1v1h-1zM347.2 364.3h1v1h-1zM347.4 364.3h1v1h-1zM359.7 364.3h1v1h-1zM360.6 364.3h1v1h-1zM348.2 364.8h1v1h-1zM347.6 364.8h1v1h-1zM360.0 364.8h1v1h-1zM360.1 364.8h1v1h-1zM346.5 365.3h1v1h-1zM346.1 365.3h1v1h-1zM360.1 365.3h1v1h-1zM361.1 365.3h1v1h-1zM346.2 365.8h1v1h-1zM348.5 365.8h1v1h-1zM359.3 365.8h1v1h-1zM360.2 365.8h1v1h-1zM348.3 366.3h1v1h-1zM346.3 366.3h1v1h-1zM359.2 366.3h1v1h-1zM362.0 366.3h1v1h-1zM348.0 366.8h1v1h-1zM348.7 366.8h1v1h-1zM359.5 366.8h1v1h-1zM361.6 366.8h1v1h-1zM347.2 367.3h1v1h-1zM348.8 367.3h1v1h-1zM359.2 367.3h1v1h-1zM359.6 367.3h1v1h-1zM348.0 367.8h1v1h-1zM348.7 367.8h1v1h-1zM360.1 367.8h1v1h-1zM361.1 367.8h1v1h-1zM347.6 368.3h1v1h-1zM348.5 368.3h1v1h-1zM361.3 368.3h1v1h-1zM361.5 368.3h1v1h-1zM348.6 368.8h1v1h-1zM348.5 368.8h1v1h-1zM361.3 368.8h1v1h-1zM359.6 368.8h1v1h-1zM347.3 369.3h1v1h-1zM347.3 369.3h1v1h-1zM359.3 369.3h1v1h-1zM361.1 369.3h1v1h-1zM348.9 369.8h1v1h-1zM348.2 369.8h1v1h-1zM359.6 369.8h1v1h-1zM358.9 369.8h1v1h-1zM347.2 370.3h1v1h-1zM348.6 370.3h1v1h-1zM359.0 370.3h1v1h-1zM362.8 370.3h1v1h-1zM349.1 370.8h1v1h-1zM348.7 370.8h1v1h-1zM359.0 370.8h1v1h-1zM360.7 370.8h1v1h-1zM349.2 371.3h1v1h-1zM348.6 371.3h1v1h-1zM358.9 371.3h1v1h-1zM359.2 371.3h1v1h-1zM348.8 371.8h1v1h-1zM348.2 371.8h1v1h-1zM359.7 371.8h1v1h-1zM358.6 371.8h1v1h-1zM349.1 372.3h1v1h-1zM348.8 372.3h1v1h-1zM359.3 372.3h1v1h-1zM359.8 372.3h1v1h-1zM348.1 372.8h1v1h-1zM348.9 372.8h1v1h-1zM360.9 372.8h1v1h-1zM358.4 372.8h1v1h-1zM347.1 373.3h1v1h-1zM347.5 373.3h1v1h-1zM358.5 373.3h1v1h-1zM359.3 373.3h1v1h-1zM349.2 373.8h1v1h-1zM347.8 373.8h1v1h-1zM358.1 373.8h1v1h-1zM359.1 373.8h1v1h-1zM347.2 374.3h1v1h-1zM349.4 374.3h1v1h-1zM358.3 374.3h1v1h-1zM361.4 374.3h1v1h-1zM348.7 374.8h1v1h-1zM349.3 374.8h1v1h-1zM358.6 374.8h1v1h-1zM358.3 374.8h1v1h-1zM348.9 375.3h1v1h-1zM350.0 375.3h1v1h-1zM358.7 375.3h1v1h-1zM359.0 375.3h1v1h-1zM349.3 375.8h1v1h-1zM348.7 375.8h1v1h-1zM359.3 375.8h1v1h-1zM358.0 375.8h1v1h-1zM349.5 376.3h1v1h-1zM349.4 376.3h1v1h-1zM359.2 376.3h1v1h-1zM360.3 376.3h1v1h-1zM349.8 376.8h1v1h-1zM348.3 376.8h1v1h-1zM357.8 376.8h1v1h-1zM358.6 376.8h1v1h-1zM349.2 377.3h1v1h-1zM348.7 377.3h1v1h-1zM358.2 377.3h1v1h-1zM357.9 377.3h1v1h-1zM348.6 377.8h1v1h-1zM349.3 377.8h1v1h-1zM358.3 377.8h1v1h-1zM359.3 377.8h1v1h-1zM349.8 378.3h1v1h-1zM349.6 378.3h1v1h-1zM358.1 378.3h1v1h-1zM360.3 378.3h1v1h-1zM348.6 378.8h1v1h-1zM348.3 378.8h1v1h-1zM357.8 378.8h1v1h-1zM357.8 378.8h1v1h-1zM348.2 379.3h1v1h-1zM347.7 379.3h1v1h-1zM358.1 379.3h1v1h-1zM358.9 379.3h1v1h-1zM349.2 379.8h1v1h-1zM349.4 379.8h1v1h-1zM358.4 379.8h1v1h-1zM358.7 379.8h1v1h-1zM348.7 380.3h1v1h-1zM349.7 380.3h1v1h-1zM357.8 380.3h1v1h-1zM359.8 380.3h1v1h-1zM348.9 380.8h1v1h-1zM349.8 380.8h1v1h-1zM358.9 380.8h1v1h-1zM358.1 380.8h1v1h-1zM345.6 381.3h1v1h-1zM348.4 381.3h1v1h-1zM359.9 381.3h1v1h-1zM359.1 381.3h1v1h-1zM348.9 381.8h1v1h-1zM349.8 381.8h1v1h-1zM358.4 381.8h1v1h-1zM358.2 381.8h1v1h-1zM347.3 382.3h1v1h-1zM349.1 382.3h1v1h-1zM358.1 382.3h1v1h-1zM358.8 382.3h1v1h-1zM350.0 382.8h1v1h-1zM349.3 382.8h1v1h-1zM359.2 382.8h1v1h-1zM360.5 382.8h1v1h-1zM348.3 383.3h1v1h-1zM349.9 383.3h1v1h-1zM358.4 383.3h1v1h-1zM358.3 383.3h1v1h-1zM349.2 383.8h1v1h-1zM349.6 383.8h1v1h-1zM358.4 383.8h1v1h-1zM358.8 383.8h1v1h-1zM349.8 384.3h1v1h-1zM347.1 384.3h1v1h-1zM360.8 384.3h1v1h-1zM358.1 384.3h1v1h-1zM349.5 384.8h1v1h-1zM349.3 384.8h1v1h-1zM358.3 384.8h1v1h-1zM358.5 384.8h1v1h-1zM349.2 385.3h1v1h-1zM347.1 385.3h1v1h-1zM358.6 385.3h1v1h-1zM359.2 385.3h1v1h-1zM347.4 385.8h1v1h-1zM348.4 385.8h1v1h-1zM358.9 385.8h1v1h-1zM358.6 385.8h1v1h-1zM348.1 386.3h1v1h-1zM346.3 386.3h1v1h-1zM358.2 386.3h1v1h-1zM358.5 386.3h1v1h-1zM349.4 386.8h1v1h-1zM348.7 386.8h1v1h-1zM359.1 386.8h1v1h-1zM358.2 386.8h1v1h-1zM348.7 387.3h1v1h-1zM346.9 387.3h1v1h-1zM359.2 387.3h1v1h-1zM361.7 387.3h1v1h-1zM348.5 387.8h1v1h-1zM347.1 387.8h1v1h-1zM358.4 387.8h1v1h-1zM358.3 387.8h1v1h-1zM349.1 388.3h1v1h-1zM349.1 388.3h1v1h-1zM359.7 388.3h1v1h-1zM358.5 388.3h1v1h-1zM347.3 388.8h1v1h-1zM348.4 388.8h1v1h-1zM361.3 388.8h1v1h-1zM359.6 388.8h1v1h-1zM347.8 389.3h1v1h-1zM348.8 389.3h1v1h-1zM360.4 389.3h1v1h-1zM359.7 389.3h1v1h-1zM347.1 389.8h1v1h-1zM348.8 389.8h1v1h-1zM359.1 389.8h1v1h-1zM360.3 389.8h1v1h-1zM348.8 390.3h1v1h-1zM347.2 390.3h1v1h-1zM358.7 390.3h1v1h-1zM361.1 390.3h1v1h-1zM348.8 390.8h1v1h-1zM348.5 390.8h1v1h-1zM361.4 390.8h1v1h-1zM359.3 390.8h1v1h-1zM348.5 391.3h1v1h-1zM348.0 391.3h1v1h-1zM360.5 391.3h1v1h-1zM360.3 391.3h1v1h-1zM347.0 391.8h1v1h-1zM348.1 391.8h1v1h-1zM358.9 391.8h1v1h-1zM361.0 391.8h1v1h-1zM347.4 392.3h1v1h-1zM346.8 392.3h1v1h-1zM361.5 392.3h1v1h-1zM360.1 392.3h1v1h-1zM347.8 392.8h1v1h-1zM346.1 392.8h1v1h-1zM359.7 392.8h1v1h-1zM360.0 392.8h1v1h-1zM346.8 393.3h1v1h-1zM347.4 393.3h1v1h-1zM360.6 393.3h1v1h-1zM360.6 393.3h1v1h-1zM345.4 393.8h1v1h-1zM347.1 393.8h1v1h-1zM361.4 393.8h1v1h-1zM359.9 393.8h1v1h-1zM346.6 394.3h1v1h-1zM347.0 394.3h1v1h-1zM359.5 394.3h1v1h-1zM360.7 394.3h1v1h-1zM345.4 394.8h1v1h-1zM345.6 394.8h1v1h-1zM359.7 394.8h1v1h-1zM361.7 394.8h1v1h-1zM347.5 395.3h1v1h-1zM345.9 395.3h1v1h-1zM360.9 395.3h1v1h-1zM360.4 395.3h1v1h-1zM347.6 395.8h1v1h-1zM346.8 395.8h1v1h-1zM362.7 395.8h1v1h-1zM361.9 395.8h1v1h-1zM347.8 396.3h1v1h-1zM347.9 396.3h1v1h-1zM359.6 396.3h1v1h-1zM359.2 396.3h1v1h-1zM347.9 396.8h1v1h-1zM347.5 396.8h1v1h-1zM359.9 396.8h1v1h-1zM359.3 396.8h1v1h-1zM348.6 397.3h1v1h-1zM348.9 397.3h1v1h-1zM361.2 397.3h1v1h-1zM362.9 397.3h1v1h-1zM347.6 397.8h1v1h-1zM345.8 397.8h1v1h-1zM360.3 397.8h1v1h-1zM359.8 397.8h1v1h-1zM348.8 398.3h1v1h-1zM347.8 398.3h1v1h-1zM359.8 398.3h1v1h-1zM359.8 398.3h1v1h-1zM347.5 398.8h1v1h-1zM347.8 398.8h1v1h-1zM359.3 398.8h1v1h-1zM359.6 398.8h1v1h-1zM348.0 399.3h1v1h-1zM347.4 399.3h1v1h-1zM360.2 399.3h1v1h-1zM361.9 399.3h1v1h-1zM347.4 399.8h1v1h-1zM348.3 399.8h1v1h-1zM360.3 399.8h1v1h-1zM361.9 399.8h1v1h-1zM348.1 400.3h1v1h-1zM346.5 400.3h1v1h-1zM361.6 400.3h1v1h-1zM362.3 400.3h1v1h-1zM348.4 400.8h1v1h-1zM348.4 400.8h1v1h-1zM359.5 400.8h1v1h-1zM359.6 400.8h1v1h-1zM348.5 401.3h1v1h-1zM346.5 401.3h1v1h-1zM360.5 401.3h1v1h-1zM361.2 401.3h1v1h-1zM346.4 401.8h1v1h-1zM344.4 401.8h1v1h-1zM359.4 401.8h1v1h-1zM361.8 401.8h1v1h-1zM348.0 402.3h1v1h-1zM347.7 402.3h1v1h-1zM359.2 402.3h1v1h-1zM360.4 402.3h1v1h-1zM346.8 402.8h1v1h-1zM347.4 402.8h1v1h-1zM359.8 402.8h1v1h-1zM360.3 402.8h1v1h-1zM348.0 403.3h1v1h-1zM347.1 403.3h1v1h-1zM359.8 403.3h1v1h-1zM361.6 403.3h1v1h-1zM345.7 403.8h1v1h-1zM347.2 403.8h1v1h-1zM361.4 403.8h1v1h-1zM360.1 403.8h1v1h-1zM345.9 404.3h1v1h-1zM348.2 404.3h1v1h-1zM362.5 404.3h1v1h-1zM359.6 404.3h1v1h-1zM347.7 404.8h1v1h-1zM347.8 404.8h1v1h-1zM360.3 404.8h1v1h-1zM360.3 404.8h1v1h-1zM347.4 405.3h1v1h-1zM348.2 405.3h1v1h-1zM360.7 405.3h1v1h-1zM360.4 405.3h1v1h-1zM346.5 405.8h1v1h-1zM347.7 405.8h1v1h-1zM363.1 405.8h1v1h-1zM359.5 405.8h1v1h-1zM348.1 406.3h1v1h-1zM347.2 406.3h1v1h-1zM361.0 406.3h1v1h-1zM360.3 406.3h1v1h-1zM347.2 406.8h1v1h-1zM348.2 406.8h1v1h-1zM363.2 406.8h1v1h-1zM361.8 406.8h1v1h-1zM347.4 407.3h1v1h-1zM347.4 407.3h1v1h-1zM359.4 407.3h1v1h-1zM359.7 407.3h1v1h-1zM346.6 407.8h1v1h-1zM347.7 407.8h1v1h-1zM362.8 407.8h1v1h-1zM361.4 407.8h1v1h-1zM347.0 408.3h1v1h-1zM346.8 408.3h1v1h-1zM360.9 408.3h1v1h-1zM359.6 408.3h1v1h-1zM347.0 408.8h1v1h-1zM347.4 408.8h1v1h-1zM360.3 408.8h1v1h-1zM361.0 408.8h1v1h-1zM346.3 409.3h1v1h-1zM347.6 409.3h1v1h-1zM360.2 409.3h1v1h-1zM360.1 409.3h1v1h-1zM348.0 409.8h1v1h-1zM347.7 409.8h1v1h-1zM360.1 409.8h1v1h-1zM361.2 409.8h1v1h-1zM346.8 410.3h1v1h-1zM345.0 410.3h1v1h-1zM363.0 410.3h1v1h-1zM361.6 410.3h1v1h-1zM348.0 410.8h1v1h-1zM346.7 410.8h1v1h-1zM359.8 410.8h1v1h-1zM360.6 410.8h1v1h-1zM346.8 411.3h1v1h-1zM347.1 411.3h1v1h-1zM362.0 411.3h1v1h-1zM361.9 411.3h1v1h-1zM346.3 411.8h1v1h-1zM346.9 411.8h1v1h-1zM360.3 411.8h1v1h-1zM360.4 411.8h1v1h-1zM347.8 412.3h1v1h-1zM346.5 412.3h1v1h-1zM362.1 412.3h1v1h-1zM361.7 412.3h1v1h-1zM346.9 412.8h1v1h-1zM347.0 412.8h1v1h-1zM360.1 412.8h1v1h-1zM359.8 412.8h1v1h-1zM347.9 413.3h1v1h-1zM348.0 413.3h1v1h-1zM359.7 413.3h1v1h-1zM361.2 413.3h1v1h-1zM346.7 413.8h1v1h-1zM345.7 413.8h1v1h-1zM359.8 413.8h1v1h-1zM359.6 413.8h1v1h-1zM346.4 414.3h1v1h-1zM346.8 414.3h1v1h-1zM361.6 414.3h1v1h-1zM361.0 414.3h1v1h-1zM347.9 414.8h1v1h-1zM347.7 414.8h1v1h-1zM359.4 414.8h1v1h-1zM359.3 414.8h1v1h-1zM346.0 415.3h1v1h-1zM347.9 415.3h1v1h-1zM359.9 415.3h1v1h-1zM361.2 415.3h1v1h-1zM345.6 415.8h1v1h-1zM345.0 415.8h1v1h-1zM361.6 415.8h1v1h-1zM361.3 415.8h1v1h-1zM346.7 416.3h1v1h-1zM347.3 416.3h1v1h-1zM360.5 416.3h1v1h-1zM361.8 416.3h1v1h-1zM347.7 416.8h1v1h-1zM345.0 416.8h1v1h-1zM359.6 416.8h1v1h-1zM359.9 416.8h1v1h-1zM348.1 417.3h1v1h-1zM346.0 417.3h1v1h-1zM360.2 417.3h1v1h-1zM360.1 417.3h1v1h-1zM347.1 417.8h1v1h-1zM346.3 417.8h1v1h-1zM359.8 417.8h1v1h-1zM360.3 417.8h1v1h-1zM347.2 418.3h1v1h-1zM348.7 418.3h1v1h-1zM360.6 418.3h1v1h-1zM360.8 418.3h1v1h-1zM347.1 418.8h1v1h-1zM346.7 418.8h1v1h-1zM362.0 418.8h1v1h-1zM360.7 418.8h1v1h-1zM348.5 419.3h1v1h-1zM347.7 419.3h1v1h-1zM360.3 419.3h1v1h-1zM362.1 419.3h1v1h-1zM348.8 419.8h1v1h-1zM348.8 419.8h1v1h-1zM359.8 419.8h1v1h-1zM359.2 419.8h1v1h-1zM347.9 420.3h1v1h-1zM348.5 420.3h1v1h-1zM359.0 420.3h1v1h-1zM361.4 420.3h1v1h-1zM347.7 420.8h1v1h-1zM346.2 420.8h1v1h-1zM359.3 420.8h1v1h-1zM359.4 420.8h1v1h-1zM348.4 421.3h1v1h-1zM348.1 421.3h1v1h-1zM359.4 421.3h1v1h-1zM359.4 421.3h1v1h-1zM345.0 421.8h1v1h-1zM348.3 421.8h1v1h-1zM359.8 421.8h1v1h-1zM359.1 421.8h1v1h-1zM348.7 422.3h1v1h-1zM347.0 422.3h1v1h-1zM359.5 422.3h1v1h-1zM359.5 422.3h1v1h-1zM347.3 422.8h1v1h-1zM347.8 422.8h1v1h-1zM358.5 422.8h1v1h-1zM360.4 422.8h1v1h-1zM347.3 423.3h1v1h-1zM349.3 423.3h1v1h-1zM359.3 423.3h1v1h-1zM358.9 423.3h1v1h-1zM348.2 423.8h1v1h-1zM347.9 423.8h1v1h-1zM358.6 423.8h1v1h-1zM358.5 423.8h1v1h-1zM347.7 424.3h1v1h-1zM349.4 424.3h1v1h-1zM360.8 424.3h1v1h-1zM360.7 424.3h1v1h-1zM349.4 424.8h1v1h-1zM348.0 424.8h1v1h-1zM358.0 424.8h1v1h-1zM359.6 424.8h1v1h-1zM345.5 425.3h1v1h-1zM349.8 425.3h1v1h-1zM359.6 425.3h1v1h-1zM358.9 425.3h1v1h-1zM348.0 425.8h1v1h-1zM349.6 425.8h1v1h-1zM359.4 425.8h1v1h-1zM358.0 425.8h1v1h-1zM349.1 426.3h1v1h-1zM346.5 426.3h1v1h-1zM359.4 426.3h1v1h-1zM357.9 426.3h1v1h-1zM350.0 426.8h1v1h-1zM348.2 426.8h1v1h-1zM357.9 426.8h1v1h-1zM358.5 426.8h1v1h-1zM348.3 427.3h1v1h-1zM350.0 427.3h1v1h-1zM357.5 427.3h1v1h-1zM358.3 427.3h1v1h-1z" fill="#2a3ea8"/>
<path d="M357.2 371.5h1v1h-1zM353.0 374.6h1v1h-1zM351.7 396.5h1v1h-1zM350.1 368.9h1v1h-1zM358.1 378.5h1v1h-1zM355.6 379.1h1v1h-1zM348.7 394.2h1v1h-1zM354.4 377.9h1v1h-1zM351.7 387.1h1v1h-1zM354.8 386.5h1v1h-1zM358.2 379.8h1v1h-1zM355.5 394.2h1v1h-1zM355.3 372.1h1v1h-1zM350.7 369.6h1v1h-1zM349.6 390.3h1v1h-1zM348.2 394.7h1v1h-1zM357.2 390.9h1v1h-1zM356.9 389.8h1v1h-1zM356.6 372.4h1v1h-1zM351.7 392.8h1v1h-1zM348.9 391.2h1v1h-1zM355.3 389.7h1v1h-1z" fill="#b8c4ec" opacity="0.6"/>
<path d="M355.3 349.0h1v1h-1zM355.9 348.8h1v1h-1zM359.9 397.4h1v1h-1zM349.0 372.0h1v1h-1zM360.2 402.4h1v1h-1zM360.1 411.4h1v1h-1zM350.2 374.9h1v1h-1zM360.2 417.7h1v1h-1zM358.7 419.8h1v1h-1zM347.4 412.7h1v1h-1zM358.6 389.5h1v1h-1zM360.0 364.3h1v1h-1zM348.6 421.9h1v1h-1zM359.0 422.5h1v1h-1zM347.5 405.1h1v1h-1zM349.2 414.3h1v1h-1zM358.7 356.6h1v1h-1zM348.3 412.0h1v1h-1zM349.3 351.2h1v1h-1zM358.0 374.5h1v1h-1zM350.0 398.3h1v1h-1zM359.4 364.0h1v1h-1zM347.1 356.0h1v1h-1zM358.5 382.6h1v1h-1zM347.7 392.8h1v1h-1zM347.2 361.1h1v1h-1zM358.2 384.9h1v1h-1zM360.2 357.2h1v1h-1zM348.6 352.8h1v1h-1zM348.9 418.0h1v1h-1zM347.8 410.1h1v1h-1zM348.8 406.4h1v1h-1zM348.0 419.5h1v1h-1zM350.7 350.8h1v1h-1zM348.5 422.2h1v1h-1z" fill="#ffffff" opacity="0.5"/>
<g filter="url(#bl)">
<ellipse cx="352.6" cy="360.0" rx="5.2" ry="8.4" fill="#4868cc" opacity="0.85"/>
<ellipse cx="352.0" cy="410.0" rx="4.6" ry="16.5" fill="#4466c8" opacity="0.8"/>
<ellipse cx="352.6" cy="360.0" rx="3.4" ry="6.2" fill="#84c0d8"/>
<ellipse cx="352.0" cy="410.5" rx="3.2" ry="13" fill="#74a8e0"/>
<ellipse cx="352.6" cy="360.0" rx="2.7" ry="4.7" fill="#88be4c"/>
<ellipse cx="352.0" cy="407.0" rx="2.5" ry="8.0" fill="#78b850"/>
<ellipse cx="352.6" cy="360.0" rx="1.8" ry="3.0" fill="#d0c428"/>
<ellipse cx="352.0" cy="406.0" rx="1.7" ry="5.2" fill="#d4c428"/>
<ellipse cx="352.6" cy="360.0" rx="1.0" ry="1.3" fill="#5a4610"/>
<ellipse cx="352.0" cy="406.0" rx="0.9" ry="2.3" fill="#7a5a10"/>
</g></g>
<rect x="285.6" y="346.8" width="80.9" height="81.0" fill="none" stroke="#222" stroke-width="1.3"/>
<line x1="295.7" y1="427.8" x2="295.7" y2="429.3" stroke="#222" stroke-width="0.8"/>
<line x1="305.8" y1="427.8" x2="305.8" y2="429.3" stroke="#222" stroke-width="0.8"/>
<line x1="315.9" y1="427.8" x2="315.9" y2="429.3" stroke="#222" stroke-width="0.8"/>
<line x1="326.1" y1="427.8" x2="326.1" y2="429.3" stroke="#222" stroke-width="0.8"/>
<line x1="336.2" y1="427.8" x2="336.2" y2="429.3" stroke="#222" stroke-width="0.8"/>
<line x1="346.3" y1="427.8" x2="346.3" y2="429.3" stroke="#222" stroke-width="0.8"/>
<line x1="356.4" y1="427.8" x2="356.4" y2="429.3" stroke="#222" stroke-width="0.8"/>
<line x1="283.6" y1="367.1" x2="285.6" y2="367.1" stroke="#222" stroke-width="1"/>
<line x1="283.6" y1="387.3" x2="285.6" y2="387.3" stroke="#222" stroke-width="1"/>
<line x1="283.6" y1="407.6" x2="285.6" y2="407.6" stroke="#222" stroke-width="1"/>
<rect x="294.0" y="349.3" width="48.0" height="19.5" fill="none" stroke="#333" stroke-width="1.05"/>
<rect x="294.5" y="386.8" width="47.5" height="36.5" fill="none" stroke="#333" stroke-width="1.05"/>
<clipPath id="cp4"><rect x="381.7" y="347.0" width="80.9" height="80.8"/></clipPath>
<g fill="#5a68b4" fill-opacity="0.6">
<rect x="417.8" y="357.0" width="0.9" height="0.9"/>
<rect x="434.2" y="361.0" width="0.9" height="0.9"/>
<rect x="412.4" y="358.2" width="0.9" height="0.9"/>
<rect x="422.3" y="364.8" width="0.9" height="0.9"/>
<rect x="440.0" y="358.1" width="0.9" height="0.9"/>
<rect x="432.1" y="358.1" width="0.9" height="0.9"/>
<rect x="412.6" y="353.7" width="0.9" height="0.9"/>
<rect x="410.4" y="357.6" width="0.9" height="0.9"/>
<rect x="419.9" y="353.6" width="0.9" height="0.9"/>
<rect x="411.5" y="361.4" width="0.9" height="0.9"/>
<rect x="421.1" y="358.2" width="0.9" height="0.9"/>
<rect x="434.2" y="364.9" width="0.9" height="0.9"/>
<rect x="433.0" y="356.5" width="0.9" height="0.9"/>
<rect x="424.8" y="358.1" width="0.9" height="0.9"/>
<rect x="410.8" y="358.5" width="0.9" height="0.9"/>
<rect x="436.3" y="361.4" width="0.9" height="0.9"/>
<rect x="436.8" y="361.6" width="0.9" height="0.9"/>
<rect x="425.0" y="363.4" width="0.9" height="0.9"/>
<rect x="413.0" y="359.7" width="0.9" height="0.9"/>
<rect x="424.7" y="362.3" width="0.9" height="0.9"/>
<rect x="431.9" y="360.2" width="0.9" height="0.9"/>
<rect x="431.4" y="364.3" width="0.9" height="0.9"/>
<rect x="421.3" y="357.9" width="0.9" height="0.9"/>
<rect x="430.9" y="360.0" width="0.9" height="0.9"/>
<rect x="425.6" y="357.1" width="0.9" height="0.9"/>
<rect x="426.2" y="363.1" width="0.9" height="0.9"/>
<rect x="430.3" y="358.5" width="0.9" height="0.9"/>
<rect x="423.4" y="361.5" width="0.9" height="0.9"/>
<rect x="421.1" y="354.7" width="0.9" height="0.9"/>
<rect x="414.3" y="353.6" width="0.9" height="0.9"/>
<rect x="428.7" y="355.0" width="0.9" height="0.9"/>
<rect x="429.3" y="358.7" width="0.9" height="0.9"/>
<rect x="418.1" y="358.4" width="0.9" height="0.9"/>
<rect x="417.9" y="358.2" width="0.9" height="0.9"/>
<rect x="429.0" y="359.2" width="0.9" height="0.9"/>
<rect x="429.9" y="355.8" width="0.9" height="0.9"/>
<rect x="426.0" y="361.1" width="0.9" height="0.9"/>
<rect x="430.4" y="360.6" width="0.9" height="0.9"/>
<rect x="436.2" y="355.2" width="0.9" height="0.9"/>
<rect x="426.4" y="361.0" width="0.9" height="0.9"/>
<rect x="438.3" y="363.3" width="0.9" height="0.9"/>
<rect x="429.7" y="361.1" width="0.9" height="0.9"/>
<rect x="424.0" y="356.2" width="0.9" height="0.9"/>
<rect x="408.1" y="358.4" width="0.9" height="0.9"/>
<rect x="417.0" y="354.1" width="0.9" height="0.9"/>
<rect x="432.7" y="367.7" width="0.9" height="0.9"/>
<rect x="423.2" y="360.5" width="0.9" height="0.9"/>
<rect x="423.2" y="357.5" width="0.9" height="0.9"/>
<rect x="438.0" y="358.1" width="0.9" height="0.9"/>
<rect x="420.2" y="362.3" width="0.9" height="0.9"/>
</g>
<g fill="#4a58b0" fill-opacity="0.7">
<rect x="438.0" y="358.9" width="0.9" height="0.9"/>
<rect x="439.6" y="354.1" width="0.9" height="0.9"/>
<rect x="433.5" y="354.5" width="0.9" height="0.9"/>
<rect x="436.6" y="356.7" width="0.9" height="0.9"/>
<rect x="437.7" y="360.2" width="0.9" height="0.9"/>
<rect x="435.8" y="360.7" width="0.9" height="0.9"/>
<rect x="436.2" y="353.3" width="0.9" height="0.9"/>
<rect x="437.8" y="360.3" width="0.9" height="0.9"/>
<rect x="432.2" y="356.6" width="0.9" height="0.9"/>
<rect x="434.6" y="354.7" width="0.9" height="0.9"/>
<rect x="441.6" y="351.6" width="0.9" height="0.9"/>
<rect x="430.6" y="362.8" width="0.9" height="0.9"/>
<rect x="436.6" y="364.5" width="0.9" height="0.9"/>
<rect x="436.1" y="356.5" width="0.9" height="0.9"/>
<rect x="438.8" y="355.2" width="0.9" height="0.9"/>
<rect x="435.8" y="362.5" width="0.9" height="0.9"/>
<rect x="432.7" y="365.1" width="0.9" height="0.9"/>
<rect x="438.3" y="361.6" width="0.9" height="0.9"/>
<rect x="435.1" y="363.1" width="0.9" height="0.9"/>
<rect x="432.6" y="352.6" width="0.9" height="0.9"/>
<rect x="437.9" y="360.4" width="0.9" height="0.9"/>
<rect x="437.6" y="352.2" width="0.9" height="0.9"/>
<rect x="435.8" y="363.1" width="0.9" height="0.9"/>
<rect x="440.0" y="361.1" width="0.9" height="0.9"/>
</g>
<g fill="#5a68b4" fill-opacity="0.6">
<rect x="429.0" y="406.1" width="0.9" height="0.9"/>
<rect x="426.6" y="411.9" width="0.9" height="0.9"/>
<rect x="422.7" y="407.0" width="0.9" height="0.9"/>
<rect x="423.8" y="414.5" width="0.9" height="0.9"/>
<rect x="416.7" y="416.3" width="0.9" height="0.9"/>
<rect x="432.3" y="415.3" width="0.9" height="0.9"/>
<rect x="425.7" y="400.7" width="0.9" height="0.9"/>
<rect x="436.3" y="418.6" width="0.9" height="0.9"/>
<rect x="437.8" y="420.1" width="0.9" height="0.9"/>
<rect x="429.6" y="407.6" width="0.9" height="0.9"/>
<rect x="410.6" y="395.0" width="0.9" height="0.9"/>
<rect x="428.7" y="392.8" width="0.9" height="0.9"/>
<rect x="426.6" y="409.4" width="0.9" height="0.9"/>
<rect x="437.0" y="413.0" width="0.9" height="0.9"/>
<rect x="419.5" y="413.2" width="0.9" height="0.9"/>
<rect x="411.9" y="410.0" width="0.9" height="0.9"/>
<rect x="439.5" y="414.9" width="0.9" height="0.9"/>
<rect x="413.5" y="408.8" width="0.9" height="0.9"/>
<rect x="397.4" y="410.1" width="0.9" height="0.9"/>
<rect x="438.3" y="403.9" width="0.9" height="0.9"/>
<rect x="434.6" y="410.3" width="0.9" height="0.9"/>
<rect x="425.3" y="417.0" width="0.9" height="0.9"/>
<rect x="427.5" y="415.7" width="0.9" height="0.9"/>
<rect x="417.7" y="409.0" width="0.9" height="0.9"/>
<rect x="438.1" y="405.0" width="0.9" height="0.9"/>
<rect x="439.6" y="411.5" width="0.9" height="0.9"/>
<rect x="415.4" y="407.9" width="0.9" height="0.9"/>
<rect x="438.6" y="413.8" width="0.9" height="0.9"/>
<rect x="428.2" y="404.3" width="0.9" height="0.9"/>
<rect x="433.1" y="397.8" width="0.9" height="0.9"/>
<rect x="435.3" y="412.1" width="0.9" height="0.9"/>
<rect x="427.9" y="405.5" width="0.9" height="0.9"/>
<rect x="422.4" y="399.7" width="0.9" height="0.9"/>
<rect x="426.0" y="417.9" width="0.9" height="0.9"/>
<rect x="410.2" y="397.9" width="0.9" height="0.9"/>
<rect x="425.4" y="406.5" width="0.9" height="0.9"/>
<rect x="413.4" y="397.3" width="0.9" height="0.9"/>
<rect x="423.1" y="404.6" width="0.9" height="0.9"/>
<rect x="418.2" y="414.4" width="0.9" height="0.9"/>
<rect x="435.4" y="403.8" width="0.9" height="0.9"/>
<rect x="416.2" y="398.7" width="0.9" height="0.9"/>
<rect x="426.0" y="407.0" width="0.9" height="0.9"/>
<rect x="406.6" y="411.7" width="0.9" height="0.9"/>
<rect x="402.6" y="413.3" width="0.9" height="0.9"/>
<rect x="432.6" y="402.6" width="0.9" height="0.9"/>
<rect x="423.3" y="413.3" width="0.9" height="0.9"/>
<rect x="429.4" y="409.1" width="0.9" height="0.9"/>
<rect x="432.9" y="414.9" width="0.9" height="0.9"/>
<rect x="421.9" y="408.7" width="0.9" height="0.9"/>
<rect x="408.8" y="419.6" width="0.9" height="0.9"/>
<rect x="425.8" y="396.5" width="0.9" height="0.9"/>
<rect x="431.9" y="416.8" width="0.9" height="0.9"/>
<rect x="418.3" y="421.4" width="0.9" height="0.9"/>
<rect x="426.8" y="406.4" width="0.9" height="0.9"/>
<rect x="432.6" y="415.8" width="0.9" height="0.9"/>
<rect x="422.4" y="398.4" width="0.9" height="0.9"/>
<rect x="427.9" y="402.5" width="0.9" height="0.9"/>
<rect x="430.6" y="404.4" width="0.9" height="0.9"/>
<rect x="433.4" y="398.3" width="0.9" height="0.9"/>
<rect x="410.5" y="410.0" width="0.9" height="0.9"/>
<rect x="419.0" y="412.5" width="0.9" height="0.9"/>
<rect x="417.1" y="406.0" width="0.9" height="0.9"/>
<rect x="402.0" y="417.2" width="0.9" height="0.9"/>
<rect x="433.7" y="408.4" width="0.9" height="0.9"/>
<rect x="417.3" y="420.5" width="0.9" height="0.9"/>
<rect x="433.4" y="415.7" width="0.9" height="0.9"/>
<rect x="429.2" y="402.5" width="0.9" height="0.9"/>
<rect x="418.3" y="406.0" width="0.9" height="0.9"/>
<rect x="439.2" y="419.1" width="0.9" height="0.9"/>
<rect x="438.2" y="413.2" width="0.9" height="0.9"/>
<rect x="430.8" y="406.7" width="0.9" height="0.9"/>
<rect x="426.9" y="403.4" width="0.9" height="0.9"/>
<rect x="430.0" y="410.8" width="0.9" height="0.9"/>
<rect x="418.8" y="413.1" width="0.9" height="0.9"/>
<rect x="416.1" y="397.7" width="0.9" height="0.9"/>
<rect x="414.4" y="404.1" width="0.9" height="0.9"/>
<rect x="410.7" y="408.4" width="0.9" height="0.9"/>
<rect x="421.4" y="401.5" width="0.9" height="0.9"/>
<rect x="410.2" y="407.0" width="0.9" height="0.9"/>
<rect x="410.7" y="412.6" width="0.9" height="0.9"/>
<rect x="426.4" y="416.2" width="0.9" height="0.9"/>
<rect x="418.4" y="401.9" width="0.9" height="0.9"/>
<rect x="436.4" y="406.7" width="0.9" height="0.9"/>
<rect x="435.5" y="397.2" width="0.9" height="0.9"/>
<rect x="429.4" y="415.3" width="0.9" height="0.9"/>
<rect x="439.1" y="404.2" width="0.9" height="0.9"/>
<rect x="414.9" y="419.8" width="0.9" height="0.9"/>
<rect x="415.5" y="409.9" width="0.9" height="0.9"/>
<rect x="414.0" y="406.3" width="0.9" height="0.9"/>
</g>
<g fill="#4a58b0" fill-opacity="0.7">
<rect x="432.9" y="416.4" width="0.9" height="0.9"/>
<rect x="433.7" y="414.0" width="0.9" height="0.9"/>
<rect x="432.1" y="397.3" width="0.9" height="0.9"/>
<rect x="439.9" y="413.9" width="0.9" height="0.9"/>
<rect x="440.3" y="402.0" width="0.9" height="0.9"/>
<rect x="434.3" y="402.1" width="0.9" height="0.9"/>
<rect x="433.7" y="410.2" width="0.9" height="0.9"/>
<rect x="433.6" y="406.7" width="0.9" height="0.9"/>
<rect x="436.9" y="402.3" width="0.9" height="0.9"/>
<rect x="438.7" y="398.4" width="0.9" height="0.9"/>
<rect x="434.0" y="397.5" width="0.9" height="0.9"/>
<rect x="435.3" y="410.6" width="0.9" height="0.9"/>
<rect x="434.7" y="404.2" width="0.9" height="0.9"/>
<rect x="434.5" y="406.9" width="0.9" height="0.9"/>
<rect x="436.7" y="417.8" width="0.9" height="0.9"/>
<rect x="437.1" y="401.7" width="0.9" height="0.9"/>
<rect x="439.7" y="400.2" width="0.9" height="0.9"/>
<rect x="437.4" y="410.6" width="0.9" height="0.9"/>
<rect x="431.7" y="411.3" width="0.9" height="0.9"/>
<rect x="436.8" y="406.3" width="0.9" height="0.9"/>
<rect x="440.5" y="402.7" width="0.9" height="0.9"/>
<rect x="432.9" y="413.1" width="0.9" height="0.9"/>
<rect x="437.5" y="405.9" width="0.9" height="0.9"/>
<rect x="436.7" y="412.7" width="0.9" height="0.9"/>
<rect x="440.1" y="421.8" width="0.9" height="0.9"/>
<rect x="437.3" y="403.4" width="0.9" height="0.9"/>
<rect x="438.1" y="408.8" width="0.9" height="0.9"/>
<rect x="438.7" y="410.9" width="0.9" height="0.9"/>
<rect x="435.4" y="408.9" width="0.9" height="0.9"/>
<rect x="435.0" y="413.1" width="0.9" height="0.9"/>
<rect x="436.6" y="394.1" width="0.9" height="0.9"/>
<rect x="432.7" y="422.3" width="0.9" height="0.9"/>
<rect x="436.5" y="413.9" width="0.9" height="0.9"/>
<rect x="437.8" y="409.3" width="0.9" height="0.9"/>
<rect x="438.5" y="407.8" width="0.9" height="0.9"/>
<rect x="438.8" y="403.8" width="0.9" height="0.9"/>
<rect x="434.8" y="408.4" width="0.9" height="0.9"/>
<rect x="428.4" y="395.4" width="0.9" height="0.9"/>
<rect x="438.7" y="397.4" width="0.9" height="0.9"/>
<rect x="438.6" y="402.2" width="0.9" height="0.9"/>
<rect x="436.5" y="409.6" width="0.9" height="0.9"/>
<rect x="436.2" y="410.9" width="0.9" height="0.9"/>
<rect x="435.4" y="408.8" width="0.9" height="0.9"/>
</g>
<g fill="#3444aa" fill-opacity="0.85">
<rect x="438.9" y="363.4" width="0.9" height="0.9"/>
<rect x="418.0" y="360.6" width="0.9" height="0.9"/>
<rect x="434.2" y="356.5" width="0.9" height="0.9"/>
<rect x="433.8" y="357.2" width="0.9" height="0.9"/>
<rect x="427.2" y="359.9" width="0.9" height="0.9"/>
<rect x="435.1" y="359.0" width="0.9" height="0.9"/>
<rect x="434.6" y="357.4" width="0.9" height="0.9"/>
<rect x="428.8" y="356.8" width="0.9" height="0.9"/>
<rect x="419.8" y="359.4" width="0.9" height="0.9"/>
<rect x="435.4" y="360.4" width="0.9" height="0.9"/>
<rect x="432.5" y="363.6" width="0.9" height="0.9"/>
<rect x="422.4" y="360.2" width="0.9" height="0.9"/>
<rect x="431.1" y="360.4" width="0.9" height="0.9"/>
<rect x="419.8" y="360.3" width="0.9" height="0.9"/>
<rect x="424.4" y="356.1" width="0.9" height="0.9"/>
<rect x="423.3" y="355.4" width="0.9" height="0.9"/>
<rect x="419.0" y="361.6" width="0.9" height="0.9"/>
<rect x="422.7" y="363.8" width="0.9" height="0.9"/>
<rect x="425.4" y="361.7" width="0.9" height="0.9"/>
<rect x="425.4" y="361.4" width="0.9" height="0.9"/>
<rect x="435.1" y="362.9" width="0.9" height="0.9"/>
<rect x="428.8" y="360.4" width="0.9" height="0.9"/>
<rect x="421.2" y="363.7" width="0.9" height="0.9"/>
<rect x="424.7" y="354.8" width="0.9" height="0.9"/>
<rect x="424.2" y="357.1" width="0.9" height="0.9"/>
<rect x="427.2" y="360.7" width="0.9" height="0.9"/>
<rect x="421.1" y="356.8" width="0.9" height="0.9"/>
<rect x="425.3" y="360.1" width="0.9" height="0.9"/>
<rect x="432.7" y="356.9" width="0.9" height="0.9"/>
<rect x="410.1" y="361.3" width="0.9" height="0.9"/>
<rect x="438.3" y="358.8" width="0.9" height="0.9"/>
<rect x="425.3" y="356.8" width="0.9" height="0.9"/>
<rect x="431.7" y="355.8" width="0.9" height="0.9"/>
<rect x="427.4" y="360.5" width="0.9" height="0.9"/>
<rect x="429.2" y="358.7" width="0.9" height="0.9"/>
<rect x="433.4" y="359.1" width="0.9" height="0.9"/>
<rect x="425.3" y="359.4" width="0.9" height="0.9"/>
<rect x="427.6" y="359.1" width="0.9" height="0.9"/>
<rect x="418.0" y="355.7" width="0.9" height="0.9"/>
<rect x="423.8" y="357.8" width="0.9" height="0.9"/>
<rect x="423.1" y="359.6" width="0.9" height="0.9"/>
<rect x="423.6" y="356.0" width="0.9" height="0.9"/>
<rect x="428.5" y="359.1" width="0.9" height="0.9"/>
<rect x="413.5" y="359.0" width="0.9" height="0.9"/>
<rect x="421.3" y="364.0" width="0.9" height="0.9"/>
<rect x="420.6" y="358.2" width="0.9" height="0.9"/>
<rect x="429.3" y="362.2" width="0.9" height="0.9"/>
<rect x="434.2" y="356.1" width="0.9" height="0.9"/>
<rect x="415.0" y="363.8" width="0.9" height="0.9"/>
<rect x="416.5" y="360.6" width="0.9" height="0.9"/>
<rect x="423.3" y="360.9" width="0.9" height="0.9"/>
<rect x="436.0" y="363.9" width="0.9" height="0.9"/>
<rect x="429.2" y="357.3" width="0.9" height="0.9"/>
<rect x="433.9" y="363.9" width="0.9" height="0.9"/>
<rect x="428.6" y="354.2" width="0.9" height="0.9"/>
<rect x="408.6" y="360.0" width="0.9" height="0.9"/>
<rect x="410.8" y="359.4" width="0.9" height="0.9"/>
<rect x="434.7" y="356.2" width="0.9" height="0.9"/>
<rect x="422.4" y="363.5" width="0.9" height="0.9"/>
<rect x="437.5" y="356.7" width="0.9" height="0.9"/>
<rect x="426.9" y="359.0" width="0.9" height="0.9"/>
<rect x="436.0" y="359.8" width="0.9" height="0.9"/>
<rect x="418.9" y="363.4" width="0.9" height="0.9"/>
<rect x="428.6" y="360.5" width="0.9" height="0.9"/>
<rect x="429.9" y="361.9" width="0.9" height="0.9"/>
<rect x="424.3" y="363.0" width="0.9" height="0.9"/>
<rect x="422.3" y="361.0" width="0.9" height="0.9"/>
<rect x="430.2" y="359.6" width="0.9" height="0.9"/>
<rect x="421.1" y="356.0" width="0.9" height="0.9"/>
<rect x="430.3" y="356.5" width="0.9" height="0.9"/>
<rect x="426.7" y="359.1" width="0.9" height="0.9"/>
<rect x="433.4" y="358.8" width="0.9" height="0.9"/>
<rect x="433.7" y="361.5" width="0.9" height="0.9"/>
<rect x="419.8" y="359.7" width="0.9" height="0.9"/>
<rect x="420.8" y="360.6" width="0.9" height="0.9"/>
<rect x="429.7" y="363.7" width="0.9" height="0.9"/>
<rect x="427.1" y="359.0" width="0.9" height="0.9"/>
<rect x="433.6" y="358.8" width="0.9" height="0.9"/>
<rect x="421.4" y="363.7" width="0.9" height="0.9"/>
<rect x="437.4" y="357.5" width="0.9" height="0.9"/>
<rect x="439.3" y="358.8" width="0.9" height="0.9"/>
<rect x="412.6" y="360.7" width="0.9" height="0.9"/>
<rect x="437.1" y="356.3" width="0.9" height="0.9"/>
<rect x="426.4" y="360.4" width="0.9" height="0.9"/>
<rect x="430.6" y="359.4" width="0.9" height="0.9"/>
<rect x="419.2" y="362.3" width="0.9" height="0.9"/>
<rect x="425.4" y="359.8" width="0.9" height="0.9"/>
<rect x="437.8" y="357.0" width="0.9" height="0.9"/>
<rect x="424.4" y="362.4" width="0.9" height="0.9"/>
<rect x="418.4" y="362.2" width="0.9" height="0.9"/>
<rect x="438.6" y="357.6" width="0.9" height="0.9"/>
<rect x="424.9" y="361.8" width="0.9" height="0.9"/>
<rect x="437.4" y="356.3" width="0.9" height="0.9"/>
<rect x="415.4" y="364.2" width="0.9" height="0.9"/>
<rect x="400.4" y="354.6" width="0.9" height="0.9"/>
<rect x="431.7" y="359.2" width="0.9" height="0.9"/>
<rect x="427.2" y="359.9" width="0.9" height="0.9"/>
<rect x="435.6" y="359.3" width="0.9" height="0.9"/>
<rect x="431.9" y="362.8" width="0.9" height="0.9"/>
<rect x="438.2" y="357.0" width="0.9" height="0.9"/>
<rect x="418.6" y="358.6" width="0.9" height="0.9"/>
<rect x="426.7" y="359.5" width="0.9" height="0.9"/>
<rect x="432.1" y="361.6" width="0.9" height="0.9"/>
<rect x="412.2" y="359.4" width="0.9" height="0.9"/>
<rect x="426.0" y="359.2" width="0.9" height="0.9"/>
<rect x="412.7" y="364.2" width="0.9" height="0.9"/>
<rect x="428.2" y="358.3" width="0.9" height="0.9"/>
<rect x="426.1" y="359.0" width="0.9" height="0.9"/>
<rect x="421.0" y="360.9" width="0.9" height="0.9"/>
<rect x="428.7" y="359.4" width="0.9" height="0.9"/>
<rect x="438.1" y="357.3" width="0.9" height="0.9"/>
<rect x="415.1" y="363.0" width="0.9" height="0.9"/>
<rect x="433.5" y="358.9" width="0.9" height="0.9"/>
<rect x="432.2" y="358.9" width="0.9" height="0.9"/>
<rect x="425.7" y="359.4" width="0.9" height="0.9"/>
<rect x="425.2" y="355.9" width="0.9" height="0.9"/>
<rect x="431.1" y="362.5" width="0.9" height="0.9"/>
<rect x="432.6" y="361.2" width="0.9" height="0.9"/>
<rect x="434.8" y="362.0" width="0.9" height="0.9"/>
<rect x="434.0" y="360.0" width="0.9" height="0.9"/>
<rect x="423.5" y="356.6" width="0.9" height="0.9"/>
<rect x="429.4" y="361.5" width="0.9" height="0.9"/>
<rect x="426.4" y="359.1" width="0.9" height="0.9"/>
<rect x="431.4" y="355.3" width="0.9" height="0.9"/>
<rect x="433.6" y="358.9" width="0.9" height="0.9"/>
<rect x="431.2" y="356.7" width="0.9" height="0.9"/>
<rect x="430.8" y="364.4" width="0.9" height="0.9"/>
<rect x="429.4" y="361.3" width="0.9" height="0.9"/>
<rect x="427.8" y="358.6" width="0.9" height="0.9"/>
<rect x="415.6" y="360.5" width="0.9" height="0.9"/>
<rect x="432.8" y="364.4" width="0.9" height="0.9"/>
<rect x="418.1" y="361.1" width="0.9" height="0.9"/>
<rect x="428.1" y="359.8" width="0.9" height="0.9"/>
<rect x="438.9" y="357.8" width="0.9" height="0.9"/>
<rect x="421.1" y="360.9" width="0.9" height="0.9"/>
<rect x="432.0" y="361.3" width="0.9" height="0.9"/>
<rect x="418.8" y="359.1" width="0.9" height="0.9"/>
<rect x="431.5" y="364.7" width="0.9" height="0.9"/>
<rect x="422.1" y="361.8" width="0.9" height="0.9"/>
<rect x="423.5" y="363.0" width="0.9" height="0.9"/>
<rect x="423.5" y="360.2" width="0.9" height="0.9"/>
<rect x="424.3" y="359.1" width="0.9" height="0.9"/>
<rect x="425.7" y="362.2" width="0.9" height="0.9"/>
<rect x="437.9" y="356.1" width="0.9" height="0.9"/>
<rect x="419.2" y="358.2" width="0.9" height="0.9"/>
<rect x="426.7" y="362.7" width="0.9" height="0.9"/>
<rect x="417.0" y="360.3" width="0.9" height="0.9"/>
<rect x="421.4" y="359.7" width="0.9" height="0.9"/>
<rect x="422.8" y="361.7" width="0.9" height="0.9"/>
<rect x="432.9" y="360.2" width="0.9" height="0.9"/>
<rect x="427.8" y="357.5" width="0.9" height="0.9"/>
<rect x="423.4" y="355.2" width="0.9" height="0.9"/>
<rect x="421.9" y="357.5" width="0.9" height="0.9"/>
<rect x="435.1" y="357.0" width="0.9" height="0.9"/>
<rect x="416.9" y="360.2" width="0.9" height="0.9"/>
<rect x="425.2" y="356.1" width="0.9" height="0.9"/>
<rect x="436.8" y="362.8" width="0.9" height="0.9"/>
<rect x="428.7" y="359.5" width="0.9" height="0.9"/>
<rect x="423.2" y="356.5" width="0.9" height="0.9"/>
<rect x="424.3" y="357.5" width="0.9" height="0.9"/>
<rect x="422.7" y="362.6" width="0.9" height="0.9"/>
<rect x="432.1" y="364.2" width="0.9" height="0.9"/>
<rect x="435.7" y="362.4" width="0.9" height="0.9"/>
<rect x="423.9" y="358.1" width="0.9" height="0.9"/>
<rect x="432.5" y="357.2" width="0.9" height="0.9"/>
<rect x="426.8" y="362.7" width="0.9" height="0.9"/>
<rect x="431.0" y="357.6" width="0.9" height="0.9"/>
<rect x="433.3" y="359.3" width="0.9" height="0.9"/>
<rect x="428.3" y="363.2" width="0.9" height="0.9"/>
<rect x="410.6" y="357.8" width="0.9" height="0.9"/>
<rect x="427.6" y="359.5" width="0.9" height="0.9"/>
<rect x="435.1" y="358.4" width="0.9" height="0.9"/>
<rect x="405.0" y="359.9" width="0.9" height="0.9"/>
<rect x="425.9" y="360.4" width="0.9" height="0.9"/>
<rect x="432.8" y="363.7" width="0.9" height="0.9"/>
<rect x="434.2" y="361.4" width="0.9" height="0.9"/>
<rect x="430.8" y="362.4" width="0.9" height="0.9"/>
<rect x="432.7" y="359.1" width="0.9" height="0.9"/>
<rect x="436.5" y="362.2" width="0.9" height="0.9"/>
<rect x="427.4" y="357.2" width="0.9" height="0.9"/>
<rect x="417.9" y="356.9" width="0.9" height="0.9"/>
<rect x="430.9" y="360.9" width="0.9" height="0.9"/>
<rect x="427.4" y="360.7" width="0.9" height="0.9"/>
<rect x="430.2" y="360.3" width="0.9" height="0.9"/>
<rect x="421.5" y="363.1" width="0.9" height="0.9"/>
<rect x="434.2" y="362.2" width="0.9" height="0.9"/>
<rect x="433.9" y="360.8" width="0.9" height="0.9"/>
<rect x="413.8" y="364.4" width="0.9" height="0.9"/>
<rect x="430.3" y="361.0" width="0.9" height="0.9"/>
<rect x="434.2" y="358.0" width="0.9" height="0.9"/>
<rect x="419.6" y="361.2" width="0.9" height="0.9"/>
<rect x="426.5" y="359.8" width="0.9" height="0.9"/>
<rect x="418.7" y="355.0" width="0.9" height="0.9"/>
<rect x="439.4" y="364.3" width="0.9" height="0.9"/>
<rect x="432.5" y="356.4" width="0.9" height="0.9"/>
<rect x="422.6" y="357.5" width="0.9" height="0.9"/>
<rect x="413.1" y="356.0" width="0.9" height="0.9"/>
<rect x="431.3" y="356.7" width="0.9" height="0.9"/>
<rect x="429.9" y="359.5" width="0.9" height="0.9"/>
<rect x="426.7" y="360.0" width="0.9" height="0.9"/>
<rect x="418.9" y="357.0" width="0.9" height="0.9"/>
<rect x="423.1" y="359.6" width="0.9" height="0.9"/>
<rect x="417.0" y="359.4" width="0.9" height="0.9"/>
<rect x="426.5" y="358.4" width="0.9" height="0.9"/>
<rect x="421.5" y="357.4" width="0.9" height="0.9"/>
<rect x="418.6" y="362.7" width="0.9" height="0.9"/>
<rect x="432.4" y="362.0" width="0.9" height="0.9"/>
<rect x="424.0" y="357.8" width="0.9" height="0.9"/>
<rect x="415.6" y="360.2" width="0.9" height="0.9"/>
<rect x="434.6" y="359.6" width="0.9" height="0.9"/>
<rect x="433.8" y="358.8" width="0.9" height="0.9"/>
<rect x="435.6" y="359.7" width="0.9" height="0.9"/>
<rect x="421.6" y="356.8" width="0.9" height="0.9"/>
<rect x="422.1" y="362.9" width="0.9" height="0.9"/>
<rect x="412.0" y="358.1" width="0.9" height="0.9"/>
<rect x="421.9" y="362.5" width="0.9" height="0.9"/>
<rect x="405.1" y="358.0" width="0.9" height="0.9"/>
<rect x="409.9" y="360.0" width="0.9" height="0.9"/>
<rect x="438.8" y="360.5" width="0.9" height="0.9"/>
<rect x="437.7" y="361.0" width="0.9" height="0.9"/>
<rect x="425.4" y="362.6" width="0.9" height="0.9"/>
<rect x="428.4" y="359.5" width="0.9" height="0.9"/>
<rect x="424.2" y="359.0" width="0.9" height="0.9"/>
<rect x="414.1" y="363.3" width="0.9" height="0.9"/>
<rect x="420.3" y="358.1" width="0.9" height="0.9"/>
<rect x="438.2" y="361.1" width="0.9" height="0.9"/>
<rect x="426.9" y="360.2" width="0.9" height="0.9"/>
<rect x="433.0" y="357.9" width="0.9" height="0.9"/>
<rect x="435.8" y="360.5" width="0.9" height="0.9"/>
<rect x="430.1" y="358.1" width="0.9" height="0.9"/>
<rect x="416.9" y="359.6" width="0.9" height="0.9"/>
<rect x="411.8" y="359.0" width="0.9" height="0.9"/>
<rect x="423.6" y="356.4" width="0.9" height="0.9"/>
<rect x="426.2" y="363.3" width="0.9" height="0.9"/>
<rect x="422.4" y="363.2" width="0.9" height="0.9"/>
<rect x="420.5" y="353.8" width="0.9" height="0.9"/>
<rect x="431.8" y="357.8" width="0.9" height="0.9"/>
<rect x="412.7" y="356.8" width="0.9" height="0.9"/>
<rect x="426.8" y="353.9" width="0.9" height="0.9"/>
<rect x="417.1" y="363.7" width="0.9" height="0.9"/>
<rect x="433.6" y="358.2" width="0.9" height="0.9"/>
<rect x="417.9" y="359.6" width="0.9" height="0.9"/>
<rect x="432.8" y="359.9" width="0.9" height="0.9"/>
<rect x="434.0" y="354.7" width="0.9" height="0.9"/>
<rect x="431.6" y="363.1" width="0.9" height="0.9"/>
<rect x="431.6" y="359.0" width="0.9" height="0.9"/>
<rect x="423.8" y="364.4" width="0.9" height="0.9"/>
<rect x="409.3" y="355.8" width="0.9" height="0.9"/>
<rect x="418.4" y="356.4" width="0.9" height="0.9"/>
<rect x="417.0" y="356.0" width="0.9" height="0.9"/>
<rect x="428.3" y="361.2" width="0.9" height="0.9"/>
<rect x="434.6" y="358.8" width="0.9" height="0.9"/>
<rect x="433.2" y="358.4" width="0.9" height="0.9"/>
<rect x="428.5" y="360.6" width="0.9" height="0.9"/>
<rect x="418.5" y="367.3" width="0.9" height="0.9"/>
<rect x="437.8" y="360.7" width="0.9" height="0.9"/>
<rect x="410.1" y="355.1" width="0.9" height="0.9"/>
<rect x="431.1" y="362.3" width="0.9" height="0.9"/>
<rect x="420.2" y="360.2" width="0.9" height="0.9"/>
<rect x="437.8" y="360.7" width="0.9" height="0.9"/>
<rect x="422.1" y="357.4" width="0.9" height="0.9"/>
<rect x="422.2" y="359.4" width="0.9" height="0.9"/>
<rect x="428.0" y="362.8" width="0.9" height="0.9"/>
<rect x="435.1" y="361.2" width="0.9" height="0.9"/>
<rect x="437.8" y="358.1" width="0.9" height="0.9"/>
<rect x="438.2" y="361.5" width="0.9" height="0.9"/>
<rect x="437.5" y="359.4" width="0.9" height="0.9"/>
<rect x="426.2" y="360.7" width="0.9" height="0.9"/>
<rect x="425.1" y="360.6" width="0.9" height="0.9"/>
<rect x="426.9" y="361.9" width="0.9" height="0.9"/>
<rect x="423.2" y="359.0" width="0.9" height="0.9"/>
<rect x="429.8" y="357.6" width="0.9" height="0.9"/>
<rect x="404.5" y="361.4" width="0.9" height="0.9"/>
<rect x="419.5" y="360.4" width="0.9" height="0.9"/>
<rect x="432.8" y="353.9" width="0.9" height="0.9"/>
<rect x="424.9" y="357.1" width="0.9" height="0.9"/>
<rect x="434.7" y="359.0" width="0.9" height="0.9"/>
<rect x="431.6" y="361.2" width="0.9" height="0.9"/>
<rect x="431.7" y="361.7" width="0.9" height="0.9"/>
<rect x="424.8" y="355.9" width="0.9" height="0.9"/>
<rect x="419.8" y="358.4" width="0.9" height="0.9"/>
<rect x="429.7" y="360.7" width="0.9" height="0.9"/>
<rect x="414.0" y="359.4" width="0.9" height="0.9"/>
<rect x="428.8" y="357.9" width="0.9" height="0.9"/>
<rect x="435.0" y="361.1" width="0.9" height="0.9"/>
<rect x="434.0" y="360.7" width="0.9" height="0.9"/>
<rect x="415.7" y="357.9" width="0.9" height="0.9"/>
<rect x="425.9" y="366.5" width="0.9" height="0.9"/>
<rect x="435.6" y="360.8" width="0.9" height="0.9"/>
<rect x="419.5" y="359.5" width="0.9" height="0.9"/>
<rect x="425.6" y="356.8" width="0.9" height="0.9"/>
<rect x="434.2" y="362.7" width="0.9" height="0.9"/>
<rect x="429.8" y="361.4" width="0.9" height="0.9"/>
<rect x="438.3" y="362.0" width="0.9" height="0.9"/>
<rect x="427.1" y="353.5" width="0.9" height="0.9"/>
<rect x="424.2" y="357.6" width="0.9" height="0.9"/>
<rect x="431.0" y="359.7" width="0.9" height="0.9"/>
<rect x="416.0" y="357.5" width="0.9" height="0.9"/>
<rect x="412.0" y="361.9" width="0.9" height="0.9"/>
<rect x="438.1" y="357.9" width="0.9" height="0.9"/>
<rect x="410.5" y="362.0" width="0.9" height="0.9"/>
<rect x="431.0" y="359.8" width="0.9" height="0.9"/>
<rect x="438.7" y="360.6" width="0.9" height="0.9"/>
<rect x="419.0" y="359.3" width="0.9" height="0.9"/>
<rect x="422.1" y="361.5" width="0.9" height="0.9"/>
<rect x="420.1" y="362.0" width="0.9" height="0.9"/>
<rect x="431.7" y="361.0" width="0.9" height="0.9"/>
<rect x="434.8" y="361.3" width="0.9" height="0.9"/>
<rect x="424.6" y="359.3" width="0.9" height="0.9"/>
<rect x="417.5" y="359.8" width="0.9" height="0.9"/>
<rect x="428.7" y="355.7" width="0.9" height="0.9"/>
<rect x="429.2" y="361.1" width="0.9" height="0.9"/>
<rect x="429.7" y="359.6" width="0.9" height="0.9"/>
<rect x="436.1" y="358.3" width="0.9" height="0.9"/>
<rect x="431.5" y="355.1" width="0.9" height="0.9"/>
<rect x="419.7" y="358.3" width="0.9" height="0.9"/>
<rect x="425.8" y="359.9" width="0.9" height="0.9"/>
<rect x="428.9" y="360.4" width="0.9" height="0.9"/>
<rect x="434.6" y="359.0" width="0.9" height="0.9"/>
<rect x="427.6" y="364.1" width="0.9" height="0.9"/>
<rect x="429.0" y="357.5" width="0.9" height="0.9"/>
<rect x="414.3" y="361.0" width="0.9" height="0.9"/>
<rect x="433.7" y="362.1" width="0.9" height="0.9"/>
<rect x="433.0" y="359.3" width="0.9" height="0.9"/>
<rect x="405.8" y="359.3" width="0.9" height="0.9"/>
<rect x="418.7" y="358.2" width="0.9" height="0.9"/>
<rect x="427.8" y="355.1" width="0.9" height="0.9"/>
<rect x="430.7" y="357.8" width="0.9" height="0.9"/>
<rect x="431.7" y="359.9" width="0.9" height="0.9"/>
<rect x="412.2" y="359.2" width="0.9" height="0.9"/>
<rect x="432.4" y="362.1" width="0.9" height="0.9"/>
<rect x="429.6" y="361.4" width="0.9" height="0.9"/>
<rect x="428.1" y="362.5" width="0.9" height="0.9"/>
<rect x="429.4" y="362.5" width="0.9" height="0.9"/>
<rect x="424.3" y="356.2" width="0.9" height="0.9"/>
<rect x="436.9" y="361.3" width="0.9" height="0.9"/>
<rect x="420.7" y="359.3" width="0.9" height="0.9"/>
<rect x="423.7" y="361.2" width="0.9" height="0.9"/>
<rect x="424.0" y="357.8" width="0.9" height="0.9"/>
<rect x="438.8" y="360.4" width="0.9" height="0.9"/>
<rect x="430.8" y="359.0" width="0.9" height="0.9"/>
</g>
<g fill="#4858b4" fill-opacity="0.7">
<rect x="425.9" y="407.0" width="0.9" height="0.9"/>
<rect x="425.8" y="410.6" width="0.9" height="0.9"/>
<rect x="415.2" y="401.3" width="0.9" height="0.9"/>
<rect x="419.1" y="401.4" width="0.9" height="0.9"/>
<rect x="411.6" y="403.2" width="0.9" height="0.9"/>
<rect x="436.2" y="409.3" width="0.9" height="0.9"/>
<rect x="427.2" y="403.8" width="0.9" height="0.9"/>
<rect x="433.5" y="408.8" width="0.9" height="0.9"/>
<rect x="421.4" y="404.7" width="0.9" height="0.9"/>
<rect x="419.0" y="394.6" width="0.9" height="0.9"/>
<rect x="423.8" y="403.4" width="0.9" height="0.9"/>
<rect x="425.3" y="401.3" width="0.9" height="0.9"/>
<rect x="427.6" y="421.5" width="0.9" height="0.9"/>
<rect x="421.9" y="409.8" width="0.9" height="0.9"/>
<rect x="428.1" y="400.1" width="0.9" height="0.9"/>
<rect x="425.8" y="402.5" width="0.9" height="0.9"/>
<rect x="416.3" y="407.5" width="0.9" height="0.9"/>
<rect x="432.0" y="411.9" width="0.9" height="0.9"/>
<rect x="415.4" y="407.9" width="0.9" height="0.9"/>
<rect x="436.2" y="400.7" width="0.9" height="0.9"/>
<rect x="422.3" y="409.1" width="0.9" height="0.9"/>
<rect x="424.4" y="403.2" width="0.9" height="0.9"/>
<rect x="423.8" y="409.6" width="0.9" height="0.9"/>
<rect x="425.9" y="404.0" width="0.9" height="0.9"/>
<rect x="417.6" y="414.0" width="0.9" height="0.9"/>
<rect x="433.1" y="397.0" width="0.9" height="0.9"/>
<rect x="398.8" y="400.4" width="0.9" height="0.9"/>
<rect x="397.2" y="411.7" width="0.9" height="0.9"/>
<rect x="427.3" y="393.8" width="0.9" height="0.9"/>
<rect x="413.4" y="404.7" width="0.9" height="0.9"/>
<rect x="427.7" y="415.9" width="0.9" height="0.9"/>
<rect x="429.9" y="410.2" width="0.9" height="0.9"/>
<rect x="410.9" y="399.4" width="0.9" height="0.9"/>
<rect x="424.3" y="406.9" width="0.9" height="0.9"/>
<rect x="409.3" y="409.6" width="0.9" height="0.9"/>
<rect x="431.5" y="407.4" width="0.9" height="0.9"/>
<rect x="434.1" y="412.1" width="0.9" height="0.9"/>
<rect x="412.6" y="408.0" width="0.9" height="0.9"/>
<rect x="405.7" y="407.4" width="0.9" height="0.9"/>
<rect x="432.2" y="400.0" width="0.9" height="0.9"/>
<rect x="413.9" y="404.4" width="0.9" height="0.9"/>
<rect x="424.0" y="404.5" width="0.9" height="0.9"/>
<rect x="422.3" y="411.6" width="0.9" height="0.9"/>
<rect x="415.3" y="396.3" width="0.9" height="0.9"/>
<rect x="433.9" y="398.1" width="0.9" height="0.9"/>
<rect x="418.2" y="406.7" width="0.9" height="0.9"/>
<rect x="412.5" y="413.2" width="0.9" height="0.9"/>
<rect x="406.4" y="410.3" width="0.9" height="0.9"/>
<rect x="422.3" y="412.1" width="0.9" height="0.9"/>
<rect x="436.5" y="406.8" width="0.9" height="0.9"/>
<rect x="416.5" y="411.5" width="0.9" height="0.9"/>
<rect x="408.8" y="409.3" width="0.9" height="0.9"/>
<rect x="416.0" y="416.8" width="0.9" height="0.9"/>
<rect x="416.0" y="412.1" width="0.9" height="0.9"/>
<rect x="419.3" y="395.5" width="0.9" height="0.9"/>
<rect x="424.7" y="408.7" width="0.9" height="0.9"/>
<rect x="430.4" y="419.0" width="0.9" height="0.9"/>
<rect x="428.3" y="406.8" width="0.9" height="0.9"/>
<rect x="416.6" y="411.7" width="0.9" height="0.9"/>
<rect x="431.5" y="404.5" width="0.9" height="0.9"/>
<rect x="426.3" y="409.0" width="0.9" height="0.9"/>
<rect x="411.7" y="397.9" width="0.9" height="0.9"/>
<rect x="420.4" y="407.7" width="0.9" height="0.9"/>
<rect x="418.9" y="401.6" width="0.9" height="0.9"/>
<rect x="429.3" y="406.8" width="0.9" height="0.9"/>
<rect x="433.6" y="408.2" width="0.9" height="0.9"/>
<rect x="433.8" y="415.2" width="0.9" height="0.9"/>
<rect x="417.4" y="405.7" width="0.9" height="0.9"/>
<rect x="420.9" y="413.6" width="0.9" height="0.9"/>
<rect x="433.6" y="405.4" width="0.9" height="0.9"/>
<rect x="430.2" y="416.3" width="0.9" height="0.9"/>
<rect x="422.2" y="402.7" width="0.9" height="0.9"/>
<rect x="420.2" y="409.0" width="0.9" height="0.9"/>
<rect x="426.6" y="414.1" width="0.9" height="0.9"/>
<rect x="415.5" y="403.8" width="0.9" height="0.9"/>
<rect x="436.8" y="411.8" width="0.9" height="0.9"/>
<rect x="427.5" y="402.0" width="0.9" height="0.9"/>
<rect x="404.1" y="407.9" width="0.9" height="0.9"/>
<rect x="426.8" y="403.7" width="0.9" height="0.9"/>
<rect x="410.8" y="402.5" width="0.9" height="0.9"/>
<rect x="425.5" y="403.6" width="0.9" height="0.9"/>
<rect x="414.9" y="407.1" width="0.9" height="0.9"/>
<rect x="424.4" y="405.3" width="0.9" height="0.9"/>
<rect x="424.0" y="411.7" width="0.9" height="0.9"/>
<rect x="409.8" y="411.5" width="0.9" height="0.9"/>
<rect x="413.9" y="408.6" width="0.9" height="0.9"/>
<rect x="423.6" y="415.1" width="0.9" height="0.9"/>
<rect x="408.9" y="404.9" width="0.9" height="0.9"/>
<rect x="418.6" y="412.8" width="0.9" height="0.9"/>
<rect x="419.9" y="398.8" width="0.9" height="0.9"/>
<rect x="438.9" y="406.7" width="0.9" height="0.9"/>
<rect x="408.3" y="408.0" width="0.9" height="0.9"/>
<rect x="429.4" y="413.7" width="0.9" height="0.9"/>
<rect x="395.7" y="409.0" width="0.9" height="0.9"/>
<rect x="437.5" y="419.6" width="0.9" height="0.9"/>
<rect x="429.5" y="402.0" width="0.9" height="0.9"/>
<rect x="434.4" y="398.7" width="0.9" height="0.9"/>
<rect x="423.1" y="406.5" width="0.9" height="0.9"/>
<rect x="412.4" y="409.7" width="0.9" height="0.9"/>
<rect x="431.6" y="403.0" width="0.9" height="0.9"/>
<rect x="410.9" y="413.5" width="0.9" height="0.9"/>
<rect x="433.6" y="410.6" width="0.9" height="0.9"/>
<rect x="429.6" y="409.4" width="0.9" height="0.9"/>
<rect x="415.2" y="404.7" width="0.9" height="0.9"/>
<rect x="406.5" y="414.1" width="0.9" height="0.9"/>
<rect x="411.4" y="400.9" width="0.9" height="0.9"/>
<rect x="419.9" y="416.8" width="0.9" height="0.9"/>
<rect x="409.8" y="398.9" width="0.9" height="0.9"/>
<rect x="428.5" y="400.7" width="0.9" height="0.9"/>
<rect x="438.4" y="405.0" width="0.9" height="0.9"/>
<rect x="433.4" y="413.3" width="0.9" height="0.9"/>
<rect x="427.6" y="408.4" width="0.9" height="0.9"/>
<rect x="422.9" y="406.4" width="0.9" height="0.9"/>
<rect x="430.0" y="405.9" width="0.9" height="0.9"/>
<rect x="412.5" y="404.7" width="0.9" height="0.9"/>
<rect x="422.3" y="409.9" width="0.9" height="0.9"/>
<rect x="420.8" y="402.2" width="0.9" height="0.9"/>
<rect x="432.7" y="408.2" width="0.9" height="0.9"/>
<rect x="430.1" y="402.2" width="0.9" height="0.9"/>
<rect x="420.1" y="407.0" width="0.9" height="0.9"/>
<rect x="403.8" y="402.6" width="0.9" height="0.9"/>
<rect x="418.7" y="405.3" width="0.9" height="0.9"/>
<rect x="425.9" y="409.6" width="0.9" height="0.9"/>
<rect x="427.6" y="398.8" width="0.9" height="0.9"/>
<rect x="417.1" y="395.2" width="0.9" height="0.9"/>
<rect x="410.6" y="394.9" width="0.9" height="0.9"/>
<rect x="419.3" y="413.7" width="0.9" height="0.9"/>
<rect x="419.0" y="395.6" width="0.9" height="0.9"/>
<rect x="429.4" y="409.2" width="0.9" height="0.9"/>
<rect x="420.4" y="410.0" width="0.9" height="0.9"/>
<rect x="414.2" y="396.5" width="0.9" height="0.9"/>
<rect x="420.3" y="409.0" width="0.9" height="0.9"/>
<rect x="430.4" y="399.8" width="0.9" height="0.9"/>
<rect x="416.4" y="404.7" width="0.9" height="0.9"/>
<rect x="436.2" y="410.3" width="0.9" height="0.9"/>
<rect x="408.6" y="400.5" width="0.9" height="0.9"/>
<rect x="416.5" y="405.6" width="0.9" height="0.9"/>
<rect x="424.2" y="403.6" width="0.9" height="0.9"/>
<rect x="437.8" y="407.2" width="0.9" height="0.9"/>
<rect x="423.3" y="408.6" width="0.9" height="0.9"/>
<rect x="428.3" y="399.6" width="0.9" height="0.9"/>
<rect x="423.2" y="410.0" width="0.9" height="0.9"/>
<rect x="416.6" y="414.4" width="0.9" height="0.9"/>
<rect x="418.0" y="403.8" width="0.9" height="0.9"/>
<rect x="405.9" y="416.1" width="0.9" height="0.9"/>
<rect x="438.9" y="409.1" width="0.9" height="0.9"/>
<rect x="418.3" y="401.1" width="0.9" height="0.9"/>
<rect x="422.2" y="403.1" width="0.9" height="0.9"/>
<rect x="430.6" y="421.8" width="0.9" height="0.9"/>
<rect x="399.4" y="395.5" width="0.9" height="0.9"/>
<rect x="421.6" y="405.7" width="0.9" height="0.9"/>
<rect x="431.1" y="407.8" width="0.9" height="0.9"/>
<rect x="413.2" y="420.7" width="0.9" height="0.9"/>
<rect x="416.0" y="399.6" width="0.9" height="0.9"/>
<rect x="404.3" y="397.9" width="0.9" height="0.9"/>
<rect x="412.6" y="411.4" width="0.9" height="0.9"/>
<rect x="408.5" y="414.1" width="0.9" height="0.9"/>
<rect x="435.2" y="392.4" width="0.9" height="0.9"/>
<rect x="424.3" y="411.0" width="0.9" height="0.9"/>
<rect x="435.3" y="403.7" width="0.9" height="0.9"/>
<rect x="429.0" y="410.0" width="0.9" height="0.9"/>
<rect x="427.4" y="406.7" width="0.9" height="0.9"/>
<rect x="404.6" y="410.1" width="0.9" height="0.9"/>
<rect x="412.8" y="407.3" width="0.9" height="0.9"/>
<rect x="407.4" y="406.8" width="0.9" height="0.9"/>
<rect x="424.7" y="394.4" width="0.9" height="0.9"/>
<rect x="419.8" y="399.5" width="0.9" height="0.9"/>
<rect x="429.6" y="412.3" width="0.9" height="0.9"/>
<rect x="433.1" y="415.1" width="0.9" height="0.9"/>
<rect x="416.4" y="407.8" width="0.9" height="0.9"/>
<rect x="430.1" y="405.1" width="0.9" height="0.9"/>
<rect x="437.8" y="402.8" width="0.9" height="0.9"/>
<rect x="422.8" y="414.4" width="0.9" height="0.9"/>
<rect x="429.7" y="402.9" width="0.9" height="0.9"/>
<rect x="419.5" y="408.6" width="0.9" height="0.9"/>
<rect x="419.8" y="414.4" width="0.9" height="0.9"/>
<rect x="427.9" y="401.2" width="0.9" height="0.9"/>
<rect x="430.6" y="393.6" width="0.9" height="0.9"/>
<rect x="416.4" y="416.8" width="0.9" height="0.9"/>
<rect x="431.7" y="412.2" width="0.9" height="0.9"/>
<rect x="401.1" y="400.5" width="0.9" height="0.9"/>
<rect x="420.7" y="402.1" width="0.9" height="0.9"/>
<rect x="420.4" y="403.3" width="0.9" height="0.9"/>
<rect x="434.3" y="404.6" width="0.9" height="0.9"/>
<rect x="402.3" y="408.4" width="0.9" height="0.9"/>
<rect x="420.0" y="399.1" width="0.9" height="0.9"/>
<rect x="426.4" y="402.8" width="0.9" height="0.9"/>
<rect x="433.7" y="418.1" width="0.9" height="0.9"/>
<rect x="416.2" y="414.4" width="0.9" height="0.9"/>
<rect x="414.6" y="408.0" width="0.9" height="0.9"/>
<rect x="437.0" y="412.0" width="0.9" height="0.9"/>
<rect x="426.2" y="402.7" width="0.9" height="0.9"/>
<rect x="416.5" y="403.7" width="0.9" height="0.9"/>
<rect x="415.0" y="400.0" width="0.9" height="0.9"/>
<rect x="430.9" y="400.8" width="0.9" height="0.9"/>
<rect x="434.9" y="399.9" width="0.9" height="0.9"/>
<rect x="432.1" y="410.1" width="0.9" height="0.9"/>
<rect x="412.6" y="399.5" width="0.9" height="0.9"/>
<rect x="429.0" y="404.4" width="0.9" height="0.9"/>
<rect x="419.8" y="408.4" width="0.9" height="0.9"/>
<rect x="427.9" y="410.6" width="0.9" height="0.9"/>
<rect x="422.4" y="417.8" width="0.9" height="0.9"/>
<rect x="423.9" y="403.7" width="0.9" height="0.9"/>
<rect x="401.6" y="399.8" width="0.9" height="0.9"/>
<rect x="425.1" y="410.1" width="0.9" height="0.9"/>
<rect x="422.0" y="418.2" width="0.9" height="0.9"/>
<rect x="422.1" y="410.0" width="0.9" height="0.9"/>
<rect x="424.1" y="410.7" width="0.9" height="0.9"/>
<rect x="430.9" y="401.3" width="0.9" height="0.9"/>
<rect x="423.3" y="392.9" width="0.9" height="0.9"/>
<rect x="436.5" y="413.0" width="0.9" height="0.9"/>
<rect x="410.5" y="408.1" width="0.9" height="0.9"/>
<rect x="430.5" y="406.6" width="0.9" height="0.9"/>
<rect x="417.1" y="410.4" width="0.9" height="0.9"/>
<rect x="410.5" y="412.0" width="0.9" height="0.9"/>
<rect x="415.0" y="404.9" width="0.9" height="0.9"/>
<rect x="409.4" y="410.4" width="0.9" height="0.9"/>
<rect x="429.2" y="395.8" width="0.9" height="0.9"/>
<rect x="416.2" y="398.2" width="0.9" height="0.9"/>
<rect x="404.5" y="403.8" width="0.9" height="0.9"/>
<rect x="419.5" y="418.0" width="0.9" height="0.9"/>
<rect x="439.6" y="399.2" width="0.9" height="0.9"/>
<rect x="423.5" y="407.9" width="0.9" height="0.9"/>
<rect x="428.5" y="421.6" width="0.9" height="0.9"/>
<rect x="417.2" y="405.7" width="0.9" height="0.9"/>
<rect x="413.3" y="393.1" width="0.9" height="0.9"/>
<rect x="421.4" y="406.3" width="0.9" height="0.9"/>
<rect x="422.0" y="413.4" width="0.9" height="0.9"/>
<rect x="426.6" y="409.5" width="0.9" height="0.9"/>
<rect x="432.0" y="393.8" width="0.9" height="0.9"/>
<rect x="408.4" y="409.6" width="0.9" height="0.9"/>
<rect x="428.3" y="404.4" width="0.9" height="0.9"/>
<rect x="422.1" y="406.2" width="0.9" height="0.9"/>
<rect x="419.6" y="412.0" width="0.9" height="0.9"/>
<rect x="420.2" y="398.2" width="0.9" height="0.9"/>
<rect x="423.2" y="408.3" width="0.9" height="0.9"/>
<rect x="427.0" y="406.7" width="0.9" height="0.9"/>
<rect x="431.6" y="407.4" width="0.9" height="0.9"/>
<rect x="427.4" y="396.4" width="0.9" height="0.9"/>
<rect x="425.2" y="408.3" width="0.9" height="0.9"/>
<rect x="416.9" y="416.7" width="0.9" height="0.9"/>
<rect x="437.6" y="400.8" width="0.9" height="0.9"/>
<rect x="411.0" y="399.7" width="0.9" height="0.9"/>
<rect x="421.2" y="392.1" width="0.9" height="0.9"/>
<rect x="431.8" y="410.8" width="0.9" height="0.9"/>
<rect x="410.8" y="406.5" width="0.9" height="0.9"/>
<rect x="417.3" y="408.9" width="0.9" height="0.9"/>
<rect x="405.5" y="407.2" width="0.9" height="0.9"/>
<rect x="413.1" y="411.3" width="0.9" height="0.9"/>
<rect x="403.1" y="401.6" width="0.9" height="0.9"/>
<rect x="409.0" y="401.0" width="0.9" height="0.9"/>
<rect x="420.7" y="420.6" width="0.9" height="0.9"/>
<rect x="428.9" y="411.2" width="0.9" height="0.9"/>
<rect x="414.7" y="402.0" width="0.9" height="0.9"/>
<rect x="417.3" y="403.5" width="0.9" height="0.9"/>
<rect x="427.9" y="410.1" width="0.9" height="0.9"/>
<rect x="425.7" y="403.1" width="0.9" height="0.9"/>
<rect x="427.2" y="406.2" width="0.9" height="0.9"/>
<rect x="410.4" y="399.6" width="0.9" height="0.9"/>
<rect x="428.7" y="392.0" width="0.9" height="0.9"/>
<rect x="405.4" y="410.0" width="0.9" height="0.9"/>
<rect x="438.5" y="412.9" width="0.9" height="0.9"/>
<rect x="411.9" y="410.2" width="0.9" height="0.9"/>
<rect x="431.0" y="395.1" width="0.9" height="0.9"/>
<rect x="409.8" y="414.7" width="0.9" height="0.9"/>
<rect x="424.9" y="406.7" width="0.9" height="0.9"/>
<rect x="407.0" y="405.7" width="0.9" height="0.9"/>
<rect x="428.3" y="398.3" width="0.9" height="0.9"/>
<rect x="419.4" y="404.4" width="0.9" height="0.9"/>
<rect x="409.1" y="409.0" width="0.9" height="0.9"/>
<rect x="411.8" y="421.4" width="0.9" height="0.9"/>
<rect x="407.2" y="403.4" width="0.9" height="0.9"/>
<rect x="421.4" y="408.0" width="0.9" height="0.9"/>
<rect x="431.6" y="410.3" width="0.9" height="0.9"/>
<rect x="415.8" y="403.9" width="0.9" height="0.9"/>
<rect x="434.2" y="394.9" width="0.9" height="0.9"/>
<rect x="418.7" y="401.1" width="0.9" height="0.9"/>
<rect x="420.7" y="405.3" width="0.9" height="0.9"/>
<rect x="413.3" y="407.5" width="0.9" height="0.9"/>
<rect x="407.8" y="403.0" width="0.9" height="0.9"/>
<rect x="417.8" y="405.7" width="0.9" height="0.9"/>
<rect x="412.7" y="405.3" width="0.9" height="0.9"/>
<rect x="416.2" y="410.1" width="0.9" height="0.9"/>
<rect x="427.2" y="401.2" width="0.9" height="0.9"/>
<rect x="419.7" y="410.5" width="0.9" height="0.9"/>
<rect x="434.0" y="401.9" width="0.9" height="0.9"/>
<rect x="410.4" y="401.0" width="0.9" height="0.9"/>
<rect x="423.4" y="412.8" width="0.9" height="0.9"/>
<rect x="396.7" y="409.3" width="0.9" height="0.9"/>
<rect x="435.0" y="396.7" width="0.9" height="0.9"/>
<rect x="431.9" y="412.0" width="0.9" height="0.9"/>
<rect x="436.6" y="414.4" width="0.9" height="0.9"/>
<rect x="431.1" y="406.4" width="0.9" height="0.9"/>
<rect x="419.7" y="400.0" width="0.9" height="0.9"/>
<rect x="413.3" y="392.0" width="0.9" height="0.9"/>
<rect x="417.2" y="408.3" width="0.9" height="0.9"/>
<rect x="417.3" y="401.4" width="0.9" height="0.9"/>
<rect x="424.9" y="402.0" width="0.9" height="0.9"/>
<rect x="414.2" y="399.7" width="0.9" height="0.9"/>
<rect x="402.2" y="412.6" width="0.9" height="0.9"/>
<rect x="433.3" y="404.2" width="0.9" height="0.9"/>
<rect x="419.8" y="402.0" width="0.9" height="0.9"/>
<rect x="415.6" y="398.7" width="0.9" height="0.9"/>
<rect x="431.6" y="405.1" width="0.9" height="0.9"/>
<rect x="416.6" y="400.4" width="0.9" height="0.9"/>
<rect x="414.0" y="409.8" width="0.9" height="0.9"/>
<rect x="431.0" y="411.9" width="0.9" height="0.9"/>
<rect x="415.4" y="413.0" width="0.9" height="0.9"/>
<rect x="427.1" y="406.5" width="0.9" height="0.9"/>
<rect x="420.9" y="403.5" width="0.9" height="0.9"/>
<rect x="416.4" y="404.5" width="0.9" height="0.9"/>
<rect x="410.5" y="414.7" width="0.9" height="0.9"/>
<rect x="432.2" y="401.4" width="0.9" height="0.9"/>
<rect x="415.3" y="413.6" width="0.9" height="0.9"/>
<rect x="428.3" y="413.4" width="0.9" height="0.9"/>
<rect x="424.8" y="408.4" width="0.9" height="0.9"/>
<rect x="433.2" y="400.9" width="0.9" height="0.9"/>
<rect x="400.9" y="407.7" width="0.9" height="0.9"/>
<rect x="416.6" y="405.3" width="0.9" height="0.9"/>
<rect x="421.6" y="408.5" width="0.9" height="0.9"/>
<rect x="429.4" y="419.9" width="0.9" height="0.9"/>
<rect x="430.1" y="404.5" width="0.9" height="0.9"/>
<rect x="411.1" y="407.4" width="0.9" height="0.9"/>
<rect x="409.6" y="397.5" width="0.9" height="0.9"/>
<rect x="416.0" y="408.7" width="0.9" height="0.9"/>
<rect x="412.5" y="401.9" width="0.9" height="0.9"/>
<rect x="408.4" y="410.6" width="0.9" height="0.9"/>
<rect x="432.8" y="409.7" width="0.9" height="0.9"/>
<rect x="423.6" y="408.1" width="0.9" height="0.9"/>
<rect x="420.2" y="405.2" width="0.9" height="0.9"/>
<rect x="433.0" y="396.7" width="0.9" height="0.9"/>
<rect x="409.7" y="401.0" width="0.9" height="0.9"/>
<rect x="403.2" y="398.9" width="0.9" height="0.9"/>
<rect x="416.5" y="406.2" width="0.9" height="0.9"/>
<rect x="403.9" y="414.1" width="0.9" height="0.9"/>
<rect x="412.8" y="407.3" width="0.9" height="0.9"/>
<rect x="425.2" y="408.3" width="0.9" height="0.9"/>
<rect x="417.6" y="400.9" width="0.9" height="0.9"/>
<rect x="416.1" y="407.6" width="0.9" height="0.9"/>
<rect x="418.6" y="415.4" width="0.9" height="0.9"/>
<rect x="435.1" y="408.1" width="0.9" height="0.9"/>
<rect x="419.6" y="405.8" width="0.9" height="0.9"/>
<rect x="422.2" y="416.6" width="0.9" height="0.9"/>
<rect x="430.7" y="404.1" width="0.9" height="0.9"/>
<rect x="420.9" y="412.7" width="0.9" height="0.9"/>
<rect x="410.8" y="404.8" width="0.9" height="0.9"/>
<rect x="408.8" y="407.6" width="0.9" height="0.9"/>
<rect x="437.4" y="401.1" width="0.9" height="0.9"/>
<rect x="425.1" y="408.7" width="0.9" height="0.9"/>
<rect x="422.0" y="396.1" width="0.9" height="0.9"/>
<rect x="420.7" y="401.6" width="0.9" height="0.9"/>
<rect x="426.8" y="415.2" width="0.9" height="0.9"/>
<rect x="426.5" y="411.3" width="0.9" height="0.9"/>
<rect x="420.9" y="398.5" width="0.9" height="0.9"/>
<rect x="424.2" y="403.8" width="0.9" height="0.9"/>
<rect x="418.8" y="406.7" width="0.9" height="0.9"/>
<rect x="422.1" y="398.2" width="0.9" height="0.9"/>
<rect x="429.5" y="408.3" width="0.9" height="0.9"/>
<rect x="425.0" y="407.5" width="0.9" height="0.9"/>
<rect x="414.2" y="409.0" width="0.9" height="0.9"/>
<rect x="414.9" y="401.0" width="0.9" height="0.9"/>
<rect x="425.7" y="406.0" width="0.9" height="0.9"/>
<rect x="425.5" y="399.2" width="0.9" height="0.9"/>
<rect x="435.8" y="395.7" width="0.9" height="0.9"/>
<rect x="409.9" y="406.4" width="0.9" height="0.9"/>
<rect x="419.2" y="408.0" width="0.9" height="0.9"/>
<rect x="415.8" y="409.8" width="0.9" height="0.9"/>
<rect x="437.7" y="403.6" width="0.9" height="0.9"/>
<rect x="399.3" y="414.7" width="0.9" height="0.9"/>
<rect x="409.2" y="405.9" width="0.9" height="0.9"/>
<rect x="426.7" y="407.7" width="0.9" height="0.9"/>
<rect x="415.7" y="399.5" width="0.9" height="0.9"/>
<rect x="410.8" y="409.1" width="0.9" height="0.9"/>
<rect x="404.3" y="408.0" width="0.9" height="0.9"/>
<rect x="428.1" y="401.4" width="0.9" height="0.9"/>
<rect x="413.6" y="401.7" width="0.9" height="0.9"/>
<rect x="409.3" y="400.4" width="0.9" height="0.9"/>
<rect x="435.2" y="406.0" width="0.9" height="0.9"/>
<rect x="430.9" y="402.3" width="0.9" height="0.9"/>
<rect x="417.7" y="406.5" width="0.9" height="0.9"/>
<rect x="412.4" y="399.5" width="0.9" height="0.9"/>
<rect x="431.6" y="407.7" width="0.9" height="0.9"/>
<rect x="424.7" y="418.0" width="0.9" height="0.9"/>
<rect x="404.2" y="413.9" width="0.9" height="0.9"/>
<rect x="427.6" y="396.8" width="0.9" height="0.9"/>
<rect x="402.1" y="411.6" width="0.9" height="0.9"/>
<rect x="413.1" y="399.5" width="0.9" height="0.9"/>
<rect x="433.6" y="414.3" width="0.9" height="0.9"/>
<rect x="414.8" y="419.1" width="0.9" height="0.9"/>
<rect x="431.4" y="407.4" width="0.9" height="0.9"/>
<rect x="419.6" y="402.7" width="0.9" height="0.9"/>
<rect x="418.4" y="396.1" width="0.9" height="0.9"/>
<rect x="423.5" y="401.1" width="0.9" height="0.9"/>
<rect x="428.3" y="403.8" width="0.9" height="0.9"/>
<rect x="421.3" y="416.4" width="0.9" height="0.9"/>
<rect x="432.2" y="396.7" width="0.9" height="0.9"/>
<rect x="424.6" y="397.0" width="0.9" height="0.9"/>
<rect x="435.2" y="415.0" width="0.9" height="0.9"/>
<rect x="424.8" y="403.2" width="0.9" height="0.9"/>
<rect x="401.4" y="410.9" width="0.9" height="0.9"/>
<rect x="428.8" y="404.8" width="0.9" height="0.9"/>
<rect x="402.6" y="409.9" width="0.9" height="0.9"/>
<rect x="431.5" y="404.6" width="0.9" height="0.9"/>
<rect x="413.4" y="411.7" width="0.9" height="0.9"/>
<rect x="423.7" y="403.9" width="0.9" height="0.9"/>
<rect x="437.8" y="414.5" width="0.9" height="0.9"/>
<rect x="415.1" y="396.1" width="0.9" height="0.9"/>
<rect x="420.7" y="408.1" width="0.9" height="0.9"/>
<rect x="404.2" y="416.2" width="0.9" height="0.9"/>
<rect x="419.6" y="405.4" width="0.9" height="0.9"/>
<rect x="438.2" y="397.1" width="0.9" height="0.9"/>
<rect x="404.9" y="408.6" width="0.9" height="0.9"/>
<rect x="401.8" y="406.9" width="0.9" height="0.9"/>
<rect x="439.4" y="415.2" width="0.9" height="0.9"/>
<rect x="428.1" y="410.5" width="0.9" height="0.9"/>
<rect x="425.7" y="404.7" width="0.9" height="0.9"/>
<rect x="430.0" y="403.3" width="0.9" height="0.9"/>
<rect x="428.3" y="403.4" width="0.9" height="0.9"/>
<rect x="410.3" y="408.9" width="0.9" height="0.9"/>
<rect x="428.4" y="405.4" width="0.9" height="0.9"/>
<rect x="429.5" y="415.2" width="0.9" height="0.9"/>
<rect x="417.9" y="408.2" width="0.9" height="0.9"/>
<rect x="417.4" y="399.6" width="0.9" height="0.9"/>
<rect x="427.8" y="397.6" width="0.9" height="0.9"/>
<rect x="428.9" y="414.1" width="0.9" height="0.9"/>
<rect x="418.3" y="408.6" width="0.9" height="0.9"/>
<rect x="421.9" y="404.7" width="0.9" height="0.9"/>
<rect x="427.9" y="402.8" width="0.9" height="0.9"/>
<rect x="422.3" y="406.6" width="0.9" height="0.9"/>
<rect x="414.7" y="415.5" width="0.9" height="0.9"/>
<rect x="437.2" y="401.2" width="0.9" height="0.9"/>
<rect x="427.5" y="398.3" width="0.9" height="0.9"/>
<rect x="418.2" y="406.9" width="0.9" height="0.9"/>
<rect x="417.0" y="408.3" width="0.9" height="0.9"/>
<rect x="429.5" y="420.5" width="0.9" height="0.9"/>
<rect x="418.1" y="407.9" width="0.9" height="0.9"/>
<rect x="419.2" y="406.5" width="0.9" height="0.9"/>
<rect x="437.2" y="402.7" width="0.9" height="0.9"/>
<rect x="430.9" y="410.3" width="0.9" height="0.9"/>
<rect x="427.1" y="414.1" width="0.9" height="0.9"/>
<rect x="413.4" y="408.3" width="0.9" height="0.9"/>
<rect x="412.7" y="407.7" width="0.9" height="0.9"/>
<rect x="436.0" y="395.2" width="0.9" height="0.9"/>
<rect x="433.2" y="408.7" width="0.9" height="0.9"/>
<rect x="421.3" y="409.0" width="0.9" height="0.9"/>
<rect x="411.7" y="408.6" width="0.9" height="0.9"/>
<rect x="431.3" y="418.2" width="0.9" height="0.9"/>
<rect x="425.3" y="400.6" width="0.9" height="0.9"/>
<rect x="419.3" y="403.9" width="0.9" height="0.9"/>
<rect x="425.6" y="407.5" width="0.9" height="0.9"/>
<rect x="411.8" y="408.3" width="0.9" height="0.9"/>
<rect x="411.7" y="406.1" width="0.9" height="0.9"/>
<rect x="424.7" y="415.9" width="0.9" height="0.9"/>
<rect x="414.4" y="399.9" width="0.9" height="0.9"/>
<rect x="423.1" y="406.6" width="0.9" height="0.9"/>
<rect x="438.0" y="397.5" width="0.9" height="0.9"/>
<rect x="432.5" y="404.6" width="0.9" height="0.9"/>
<rect x="413.8" y="399.5" width="0.9" height="0.9"/>
<rect x="421.9" y="403.2" width="0.9" height="0.9"/>
<rect x="417.7" y="408.3" width="0.9" height="0.9"/>
<rect x="417.8" y="407.7" width="0.9" height="0.9"/>
<rect x="413.4" y="416.8" width="0.9" height="0.9"/>
<rect x="417.5" y="418.7" width="0.9" height="0.9"/>
<rect x="425.0" y="397.3" width="0.9" height="0.9"/>
<rect x="411.0" y="400.0" width="0.9" height="0.9"/>
<rect x="426.6" y="410.3" width="0.9" height="0.9"/>
<rect x="420.7" y="405.9" width="0.9" height="0.9"/>
<rect x="417.7" y="394.6" width="0.9" height="0.9"/>
<rect x="420.6" y="413.9" width="0.9" height="0.9"/>
<rect x="400.2" y="406.2" width="0.9" height="0.9"/>
<rect x="430.9" y="401.0" width="0.9" height="0.9"/>
<rect x="420.4" y="395.9" width="0.9" height="0.9"/>
<rect x="420.7" y="403.3" width="0.9" height="0.9"/>
<rect x="420.0" y="410.0" width="0.9" height="0.9"/>
<rect x="411.5" y="412.8" width="0.9" height="0.9"/>
<rect x="418.0" y="399.3" width="0.9" height="0.9"/>
<rect x="412.7" y="408.5" width="0.9" height="0.9"/>
<rect x="424.1" y="411.4" width="0.9" height="0.9"/>
<rect x="436.4" y="413.0" width="0.9" height="0.9"/>
<rect x="415.1" y="398.7" width="0.9" height="0.9"/>
<rect x="417.2" y="402.3" width="0.9" height="0.9"/>
<rect x="413.6" y="400.4" width="0.9" height="0.9"/>
<rect x="432.5" y="405.6" width="0.9" height="0.9"/>
<rect x="422.3" y="404.1" width="0.9" height="0.9"/>
<rect x="409.5" y="405.9" width="0.9" height="0.9"/>
<rect x="412.1" y="395.8" width="0.9" height="0.9"/>
<rect x="431.4" y="407.8" width="0.9" height="0.9"/>
<rect x="429.4" y="408.0" width="0.9" height="0.9"/>
<rect x="413.4" y="406.0" width="0.9" height="0.9"/>
<rect x="431.8" y="402.0" width="0.9" height="0.9"/>
<rect x="438.5" y="410.8" width="0.9" height="0.9"/>
<rect x="426.2" y="409.8" width="0.9" height="0.9"/>
<rect x="428.0" y="408.0" width="0.9" height="0.9"/>
<rect x="404.7" y="404.0" width="0.9" height="0.9"/>
<rect x="418.8" y="408.6" width="0.9" height="0.9"/>
<rect x="417.4" y="412.0" width="0.9" height="0.9"/>
<rect x="425.9" y="407.8" width="0.9" height="0.9"/>
<rect x="412.8" y="417.4" width="0.9" height="0.9"/>
<rect x="408.2" y="411.9" width="0.9" height="0.9"/>
<rect x="400.8" y="419.5" width="0.9" height="0.9"/>
<rect x="421.4" y="413.2" width="0.9" height="0.9"/>
<rect x="432.8" y="415.2" width="0.9" height="0.9"/>
<rect x="423.0" y="402.4" width="0.9" height="0.9"/>
<rect x="418.3" y="394.3" width="0.9" height="0.9"/>
<rect x="423.0" y="403.5" width="0.9" height="0.9"/>
<rect x="419.2" y="411.7" width="0.9" height="0.9"/>
<rect x="421.5" y="410.6" width="0.9" height="0.9"/>
<rect x="427.8" y="398.2" width="0.9" height="0.9"/>
<rect x="411.3" y="411.9" width="0.9" height="0.9"/>
<rect x="422.1" y="406.7" width="0.9" height="0.9"/>
<rect x="418.4" y="399.5" width="0.9" height="0.9"/>
<rect x="415.6" y="401.3" width="0.9" height="0.9"/>
</g>
<g clip-path="url(#cp4)">
<polygon points="450.2,348.0 449.0,348.5 448.2,349.0 447.6,349.5 447.1,350.0 446.7,350.5 446.3,351.0 446.0,351.5 445.7,352.0 445.4,352.5 445.2,353.0 445.0,353.5 444.8,354.0 444.6,354.5 444.4,355.0 444.3,355.5 444.2,356.0 444.1,356.5 443.9,357.0 443.9,357.5 443.8,358.0 443.7,358.5 443.7,359.0 443.6,359.5 443.6,360.0 443.6,360.5 443.6,361.0 443.6,361.5 443.6,362.0 443.7,362.5 443.7,363.0 444.0,363.5 444.1,364.0 444.2,364.5 444.3,365.0 444.4,365.5 444.5,366.0 444.6,366.5 444.7,367.0 444.8,367.5 444.9,368.0 445.0,368.5 445.1,369.0 445.1,369.5 445.2,370.0 445.3,370.5 445.4,371.0 445.4,371.5 445.5,372.0 445.6,372.5 445.6,373.0 445.7,373.5 445.7,374.0 445.8,374.5 445.8,375.0 445.8,375.5 445.9,376.0 445.9,376.5 445.9,377.0 445.9,377.5 445.9,378.0 445.9,378.5 446.0,379.0 445.9,379.5 445.9,380.0 445.9,380.5 445.9,381.0 445.9,381.5 445.9,382.0 445.8,382.5 445.8,383.0 445.8,383.5 445.7,384.0 445.7,384.5 445.6,385.0 445.5,385.5 445.5,386.0 445.4,386.5 445.3,387.0 445.3,387.5 445.2,388.0 445.1,388.5 445.0,389.0 445.0,389.5 444.9,390.0 444.8,390.5 444.7,391.0 444.6,391.5 444.5,392.0 444.4,392.5 444.3,393.0 444.2,393.5 444.1,394.0 444.0,394.5 445.0,395.0 445.0,395.5 444.9,396.0 444.8,396.5 444.8,397.0 444.7,397.5 444.6,398.0 444.6,398.5 444.5,399.0 444.5,399.5 444.4,400.0 444.4,400.5 444.4,401.0 444.3,401.5 444.3,402.0 444.3,402.5 444.2,403.0 444.2,403.5 444.2,404.0 444.2,404.5 444.1,405.0 444.1,405.5 444.1,406.0 444.1,406.5 444.1,407.0 444.1,407.5 444.1,408.0 444.1,408.5 444.1,409.0 444.1,409.5 444.1,410.0 444.1,410.5 444.1,411.0 444.2,411.5 444.2,412.0 444.2,412.5 444.2,413.0 444.3,413.5 444.3,414.0 444.3,414.5 444.4,415.0 444.4,415.5 444.4,416.0 444.5,416.5 444.5,417.0 444.6,417.5 444.6,418.0 444.7,418.5 444.8,419.0 444.8,419.5 444.9,420.0 445.0,420.5 445.0,421.0 445.1,421.5 445.2,422.0 445.3,422.5 445.4,423.0 445.5,423.5 445.6,424.0 445.7,424.5 445.8,425.0 445.9,425.5 446.0,426.0 446.1,426.5 446.3,427.0 446.4,427.5 453.4,427.5 453.5,427.0 453.7,426.5 453.8,426.0 453.9,425.5 454.0,425.0 454.1,424.5 454.2,424.0 454.3,423.5 454.4,423.0 454.5,422.5 454.6,422.0 454.7,421.5 454.8,421.0 454.8,420.5 454.9,420.0 455.0,419.5 455.0,419.0 455.1,418.5 455.2,418.0 455.2,417.5 455.3,417.0 455.3,416.5 455.4,416.0 455.4,415.5 455.4,415.0 455.5,414.5 455.5,414.0 455.5,413.5 455.6,413.0 455.6,412.5 455.6,412.0 455.6,411.5 455.7,411.0 455.7,410.5 455.7,410.0 455.7,409.5 455.7,409.0 455.7,408.5 455.7,408.0 455.7,407.5 455.7,407.0 455.7,406.5 455.7,406.0 455.7,405.5 455.7,405.0 455.6,404.5 455.6,404.0 455.6,403.5 455.6,403.0 455.5,402.5 455.5,402.0 455.5,401.5 455.4,401.0 455.4,400.5 455.4,400.0 455.3,399.5 455.3,399.0 455.2,398.5 455.2,398.0 455.1,397.5 455.0,397.0 455.0,396.5 454.9,396.0 454.8,395.5 454.8,395.0 455.8,394.5 455.7,394.0 455.6,393.5 455.5,393.0 455.4,392.5 455.3,392.0 455.2,391.5 455.1,391.0 455.1,390.5 455.0,390.0 454.9,389.5 454.8,389.0 454.7,388.5 454.6,388.0 454.6,387.5 454.5,387.0 454.4,386.5 454.4,386.0 454.3,385.5 454.3,385.0 454.2,384.5 454.2,384.0 454.1,383.5 454.1,383.0 454.0,382.5 454.0,382.0 454.0,381.5 454.0,381.0 454.0,380.5 454.0,380.0 454.0,379.5 454.0,379.0 454.0,378.5 454.0,378.0 454.0,377.5 454.0,377.0 454.0,376.5 454.1,376.0 454.1,375.5 454.1,375.0 454.2,374.5 454.2,374.0 454.3,373.5 454.3,373.0 454.4,372.5 454.5,372.0 454.5,371.5 454.6,371.0 454.7,370.5 454.7,370.0 454.8,369.5 454.9,369.0 455.0,368.5 455.1,368.0 455.2,367.5 455.3,367.0 455.4,366.5 455.5,366.0 455.6,365.5 455.7,365.0 455.8,364.5 455.9,364.0 456.0,363.5 456.3,363.0 456.3,362.5 456.4,362.0 456.4,361.5 456.4,361.0 456.4,360.5 456.4,360.0 456.4,359.5 456.3,359.0 456.3,358.5 456.2,358.0 456.1,357.5 456.1,357.0 455.9,356.5 455.8,356.0 455.7,355.5 455.6,355.0 455.4,354.5 455.2,354.0 455.0,353.5 454.8,353.0 454.6,352.5 454.3,352.0 454.0,351.5 453.7,351.0 453.3,350.5 452.9,350.0 452.4,349.5 451.8,349.0 451.0,348.5 449.8,348.0" fill="#2a3ea8"/>
<path d="M448.3 348.0h1v1h-1zM450.4 348.0h1v1h-1zM449.8 348.0h1v1h-1zM450.7 348.0h1v1h-1zM447.8 348.5h1v1h-1zM447.7 348.5h1v1h-1zM452.3 348.5h1v1h-1zM451.0 348.5h1v1h-1zM447.3 349.0h1v1h-1zM445.0 349.0h1v1h-1zM454.3 349.0h1v1h-1zM453.2 349.0h1v1h-1zM445.5 349.5h1v1h-1zM446.6 349.5h1v1h-1zM454.2 349.5h1v1h-1zM453.5 349.5h1v1h-1zM445.8 350.0h1v1h-1zM445.7 350.0h1v1h-1zM454.4 350.0h1v1h-1zM452.7 350.0h1v1h-1zM445.6 350.5h1v1h-1zM445.2 350.5h1v1h-1zM454.2 350.5h1v1h-1zM457.5 350.5h1v1h-1zM443.3 351.0h1v1h-1zM445.9 351.0h1v1h-1zM454.7 351.0h1v1h-1zM455.9 351.0h1v1h-1zM445.8 351.5h1v1h-1zM445.0 351.5h1v1h-1zM454.1 351.5h1v1h-1zM454.6 351.5h1v1h-1zM445.8 352.0h1v1h-1zM443.0 352.0h1v1h-1zM456.3 352.0h1v1h-1zM456.3 352.0h1v1h-1zM445.2 352.5h1v1h-1zM443.8 352.5h1v1h-1zM455.8 352.5h1v1h-1zM457.6 352.5h1v1h-1zM443.8 353.0h1v1h-1zM445.3 353.0h1v1h-1zM455.9 353.0h1v1h-1zM454.8 353.0h1v1h-1zM444.3 353.5h1v1h-1zM444.6 353.5h1v1h-1zM455.8 353.5h1v1h-1zM456.1 353.5h1v1h-1zM444.6 354.0h1v1h-1zM443.5 354.0h1v1h-1zM458.5 354.0h1v1h-1zM457.2 354.0h1v1h-1zM443.9 354.5h1v1h-1zM442.2 354.5h1v1h-1zM457.2 354.5h1v1h-1zM456.4 354.5h1v1h-1zM441.4 355.0h1v1h-1zM443.7 355.0h1v1h-1zM455.6 355.0h1v1h-1zM457.8 355.0h1v1h-1zM443.2 355.5h1v1h-1zM443.8 355.5h1v1h-1zM457.8 355.5h1v1h-1zM459.1 355.5h1v1h-1zM444.2 356.0h1v1h-1zM443.2 356.0h1v1h-1zM456.0 356.0h1v1h-1zM458.4 356.0h1v1h-1zM443.9 356.5h1v1h-1zM443.1 356.5h1v1h-1zM457.2 356.5h1v1h-1zM457.9 356.5h1v1h-1zM443.4 357.0h1v1h-1zM443.1 357.0h1v1h-1zM459.8 357.0h1v1h-1zM456.2 357.0h1v1h-1zM443.1 357.5h1v1h-1zM442.9 357.5h1v1h-1zM456.9 357.5h1v1h-1zM457.1 357.5h1v1h-1zM442.3 358.0h1v1h-1zM443.9 358.0h1v1h-1zM459.1 358.0h1v1h-1zM457.9 358.0h1v1h-1zM442.4 358.5h1v1h-1zM443.9 358.5h1v1h-1zM459.0 358.5h1v1h-1zM456.4 358.5h1v1h-1zM442.3 359.0h1v1h-1zM443.4 359.0h1v1h-1zM457.0 359.0h1v1h-1zM457.0 359.0h1v1h-1zM443.1 359.5h1v1h-1zM442.1 359.5h1v1h-1zM457.2 359.5h1v1h-1zM456.8 359.5h1v1h-1zM443.7 360.0h1v1h-1zM441.4 360.0h1v1h-1zM456.3 360.0h1v1h-1zM457.4 360.0h1v1h-1zM443.8 360.5h1v1h-1zM442.7 360.5h1v1h-1zM457.0 360.5h1v1h-1zM456.3 360.5h1v1h-1zM443.0 361.0h1v1h-1zM442.1 361.0h1v1h-1zM457.2 361.0h1v1h-1zM457.4 361.0h1v1h-1zM441.6 361.5h1v1h-1zM443.0 361.5h1v1h-1zM456.4 361.5h1v1h-1zM458.1 361.5h1v1h-1zM443.4 362.0h1v1h-1zM443.8 362.0h1v1h-1zM456.5 362.0h1v1h-1zM456.7 362.0h1v1h-1zM442.8 362.5h1v1h-1zM442.4 362.5h1v1h-1zM459.5 362.5h1v1h-1zM456.4 362.5h1v1h-1zM441.8 363.0h1v1h-1zM443.3 363.0h1v1h-1zM457.0 363.0h1v1h-1zM456.2 363.0h1v1h-1zM443.3 363.5h1v1h-1zM443.3 363.5h1v1h-1zM457.0 363.5h1v1h-1zM456.5 363.5h1v1h-1zM442.7 364.0h1v1h-1zM443.5 364.0h1v1h-1zM455.9 364.0h1v1h-1zM456.7 364.0h1v1h-1zM444.4 364.5h1v1h-1zM444.1 364.5h1v1h-1zM457.4 364.5h1v1h-1zM455.7 364.5h1v1h-1zM443.9 365.0h1v1h-1zM442.7 365.0h1v1h-1zM457.9 365.0h1v1h-1zM455.9 365.0h1v1h-1zM440.6 365.5h1v1h-1zM443.6 365.5h1v1h-1zM455.8 365.5h1v1h-1zM458.0 365.5h1v1h-1zM444.2 366.0h1v1h-1zM443.9 366.0h1v1h-1zM456.0 366.0h1v1h-1zM457.2 366.0h1v1h-1zM443.9 366.5h1v1h-1zM443.6 366.5h1v1h-1zM455.8 366.5h1v1h-1zM455.5 366.5h1v1h-1zM443.6 367.0h1v1h-1zM444.6 367.0h1v1h-1zM457.1 367.0h1v1h-1zM457.1 367.0h1v1h-1zM443.8 367.5h1v1h-1zM444.7 367.5h1v1h-1zM456.6 367.5h1v1h-1zM457.4 367.5h1v1h-1zM444.6 368.0h1v1h-1zM444.2 368.0h1v1h-1zM455.4 368.0h1v1h-1zM455.9 368.0h1v1h-1zM444.0 368.5h1v1h-1zM443.4 368.5h1v1h-1zM455.8 368.5h1v1h-1zM457.2 368.5h1v1h-1zM443.1 369.0h1v1h-1zM444.3 369.0h1v1h-1zM457.8 369.0h1v1h-1zM455.3 369.0h1v1h-1zM444.5 369.5h1v1h-1zM445.1 369.5h1v1h-1zM456.5 369.5h1v1h-1zM454.9 369.5h1v1h-1zM443.2 370.0h1v1h-1zM444.6 370.0h1v1h-1zM454.6 370.0h1v1h-1zM458.1 370.0h1v1h-1zM443.7 370.5h1v1h-1zM444.4 370.5h1v1h-1zM455.7 370.5h1v1h-1zM454.7 370.5h1v1h-1zM444.5 371.0h1v1h-1zM445.3 371.0h1v1h-1zM455.2 371.0h1v1h-1zM455.3 371.0h1v1h-1zM443.4 371.5h1v1h-1zM445.2 371.5h1v1h-1zM454.9 371.5h1v1h-1zM455.5 371.5h1v1h-1zM444.2 372.0h1v1h-1zM445.6 372.0h1v1h-1zM455.6 372.0h1v1h-1zM455.3 372.0h1v1h-1zM445.1 372.5h1v1h-1zM444.0 372.5h1v1h-1zM456.1 372.5h1v1h-1zM454.4 372.5h1v1h-1zM443.1 373.0h1v1h-1zM444.2 373.0h1v1h-1zM455.3 373.0h1v1h-1zM455.3 373.0h1v1h-1zM444.1 373.5h1v1h-1zM443.8 373.5h1v1h-1zM455.3 373.5h1v1h-1zM456.5 373.5h1v1h-1zM443.2 374.0h1v1h-1zM444.1 374.0h1v1h-1zM457.7 374.0h1v1h-1zM454.1 374.0h1v1h-1zM445.8 374.5h1v1h-1zM445.3 374.5h1v1h-1zM456.7 374.5h1v1h-1zM456.4 374.5h1v1h-1zM445.5 375.0h1v1h-1zM445.4 375.0h1v1h-1zM455.1 375.0h1v1h-1zM455.5 375.0h1v1h-1zM445.2 375.5h1v1h-1zM444.3 375.5h1v1h-1zM454.3 375.5h1v1h-1zM454.4 375.5h1v1h-1zM445.9 376.0h1v1h-1zM444.9 376.0h1v1h-1zM454.8 376.0h1v1h-1zM454.2 376.0h1v1h-1zM444.6 376.5h1v1h-1zM445.1 376.5h1v1h-1zM455.4 376.5h1v1h-1zM455.5 376.5h1v1h-1zM445.3 377.0h1v1h-1zM445.3 377.0h1v1h-1zM456.0 377.0h1v1h-1zM455.3 377.0h1v1h-1zM445.5 377.5h1v1h-1zM445.5 377.5h1v1h-1zM454.5 377.5h1v1h-1zM455.4 377.5h1v1h-1zM445.7 378.0h1v1h-1zM446.1 378.0h1v1h-1zM454.8 378.0h1v1h-1zM454.1 378.0h1v1h-1zM444.4 378.5h1v1h-1zM443.2 378.5h1v1h-1zM454.0 378.5h1v1h-1zM455.5 378.5h1v1h-1zM444.2 379.0h1v1h-1zM444.4 379.0h1v1h-1zM454.7 379.0h1v1h-1zM455.4 379.0h1v1h-1zM444.2 379.5h1v1h-1zM445.4 379.5h1v1h-1zM455.2 379.5h1v1h-1zM455.7 379.5h1v1h-1zM444.9 380.0h1v1h-1zM445.8 380.0h1v1h-1zM455.9 380.0h1v1h-1zM453.8 380.0h1v1h-1zM445.7 380.5h1v1h-1zM445.9 380.5h1v1h-1zM454.8 380.5h1v1h-1zM455.7 380.5h1v1h-1zM445.0 381.0h1v1h-1zM445.6 381.0h1v1h-1zM455.7 381.0h1v1h-1zM454.0 381.0h1v1h-1zM445.3 381.5h1v1h-1zM445.1 381.5h1v1h-1zM454.4 381.5h1v1h-1zM455.9 381.5h1v1h-1zM444.7 382.0h1v1h-1zM445.5 382.0h1v1h-1zM455.2 382.0h1v1h-1zM455.1 382.0h1v1h-1zM445.7 382.5h1v1h-1zM445.3 382.5h1v1h-1zM455.9 382.5h1v1h-1zM454.3 382.5h1v1h-1zM445.7 383.0h1v1h-1zM445.6 383.0h1v1h-1zM454.7 383.0h1v1h-1zM457.0 383.0h1v1h-1zM444.3 383.5h1v1h-1zM442.8 383.5h1v1h-1zM454.9 383.5h1v1h-1zM454.6 383.5h1v1h-1zM445.1 384.0h1v1h-1zM444.4 384.0h1v1h-1zM455.5 384.0h1v1h-1zM456.9 384.0h1v1h-1zM444.4 384.5h1v1h-1zM444.9 384.5h1v1h-1zM454.8 384.5h1v1h-1zM454.7 384.5h1v1h-1zM444.8 385.0h1v1h-1zM443.2 385.0h1v1h-1zM455.0 385.0h1v1h-1zM455.2 385.0h1v1h-1zM444.7 385.5h1v1h-1zM443.5 385.5h1v1h-1zM454.9 385.5h1v1h-1zM457.6 385.5h1v1h-1zM444.0 386.0h1v1h-1zM445.4 386.0h1v1h-1zM454.7 386.0h1v1h-1zM456.7 386.0h1v1h-1zM443.6 386.5h1v1h-1zM444.9 386.5h1v1h-1zM455.1 386.5h1v1h-1zM457.9 386.5h1v1h-1zM445.5 387.0h1v1h-1zM444.7 387.0h1v1h-1zM454.4 387.0h1v1h-1zM454.5 387.0h1v1h-1zM443.9 387.5h1v1h-1zM444.5 387.5h1v1h-1zM455.6 387.5h1v1h-1zM460.5 387.5h1v1h-1zM443.9 388.0h1v1h-1zM444.5 388.0h1v1h-1zM455.1 388.0h1v1h-1zM457.8 388.0h1v1h-1zM443.5 388.5h1v1h-1zM444.1 388.5h1v1h-1zM456.0 388.5h1v1h-1zM456.7 388.5h1v1h-1zM441.1 389.0h1v1h-1zM444.8 389.0h1v1h-1zM454.7 389.0h1v1h-1zM455.2 389.0h1v1h-1zM444.9 389.5h1v1h-1zM444.9 389.5h1v1h-1zM454.7 389.5h1v1h-1zM458.4 389.5h1v1h-1zM444.2 390.0h1v1h-1zM443.4 390.0h1v1h-1zM455.7 390.0h1v1h-1zM456.2 390.0h1v1h-1zM444.5 390.5h1v1h-1zM444.0 390.5h1v1h-1zM456.1 390.5h1v1h-1zM456.3 390.5h1v1h-1zM442.2 391.0h1v1h-1zM441.3 391.0h1v1h-1zM455.3 391.0h1v1h-1zM458.4 391.0h1v1h-1zM444.1 391.5h1v1h-1zM443.2 391.5h1v1h-1zM455.2 391.5h1v1h-1zM456.3 391.5h1v1h-1zM444.4 392.0h1v1h-1zM443.6 392.0h1v1h-1zM456.8 392.0h1v1h-1zM456.5 392.0h1v1h-1zM441.5 392.5h1v1h-1zM443.5 392.5h1v1h-1zM455.4 392.5h1v1h-1zM456.2 392.5h1v1h-1zM443.9 393.0h1v1h-1zM443.3 393.0h1v1h-1zM458.0 393.0h1v1h-1zM458.9 393.0h1v1h-1zM443.5 393.5h1v1h-1zM443.1 393.5h1v1h-1zM458.3 393.5h1v1h-1zM456.3 393.5h1v1h-1zM443.7 394.0h1v1h-1zM443.5 394.0h1v1h-1zM456.8 394.0h1v1h-1zM456.2 394.0h1v1h-1zM443.0 394.5h1v1h-1zM439.9 394.5h1v1h-1zM456.0 394.5h1v1h-1zM456.3 394.5h1v1h-1zM440.3 395.0h1v1h-1zM442.2 395.0h1v1h-1zM455.4 395.0h1v1h-1zM456.3 395.0h1v1h-1zM444.4 395.5h1v1h-1zM444.7 395.5h1v1h-1zM457.5 395.5h1v1h-1zM458.3 395.5h1v1h-1zM444.9 396.0h1v1h-1zM443.8 396.0h1v1h-1zM455.9 396.0h1v1h-1zM457.1 396.0h1v1h-1zM443.4 396.5h1v1h-1zM441.2 396.5h1v1h-1zM455.4 396.5h1v1h-1zM455.2 396.5h1v1h-1zM444.4 397.0h1v1h-1zM443.2 397.0h1v1h-1zM458.7 397.0h1v1h-1zM457.5 397.0h1v1h-1zM443.6 397.5h1v1h-1zM442.4 397.5h1v1h-1zM456.0 397.5h1v1h-1zM457.1 397.5h1v1h-1zM442.3 398.0h1v1h-1zM443.9 398.0h1v1h-1zM457.1 398.0h1v1h-1zM455.9 398.0h1v1h-1zM444.5 398.5h1v1h-1zM444.6 398.5h1v1h-1zM458.0 398.5h1v1h-1zM456.3 398.5h1v1h-1zM442.7 399.0h1v1h-1zM443.7 399.0h1v1h-1zM455.8 399.0h1v1h-1zM455.9 399.0h1v1h-1zM442.7 399.5h1v1h-1zM444.5 399.5h1v1h-1zM455.7 399.5h1v1h-1zM456.8 399.5h1v1h-1zM443.8 400.0h1v1h-1zM443.5 400.0h1v1h-1zM457.9 400.0h1v1h-1zM455.3 400.0h1v1h-1zM442.4 400.5h1v1h-1zM442.9 400.5h1v1h-1zM455.6 400.5h1v1h-1zM457.2 400.5h1v1h-1zM443.9 401.0h1v1h-1zM442.0 401.0h1v1h-1zM458.2 401.0h1v1h-1zM456.2 401.0h1v1h-1zM442.5 401.5h1v1h-1zM443.0 401.5h1v1h-1zM455.9 401.5h1v1h-1zM456.4 401.5h1v1h-1zM443.6 402.0h1v1h-1zM443.7 402.0h1v1h-1zM455.4 402.0h1v1h-1zM456.0 402.0h1v1h-1zM442.9 402.5h1v1h-1zM443.0 402.5h1v1h-1zM456.2 402.5h1v1h-1zM456.5 402.5h1v1h-1zM444.2 403.0h1v1h-1zM442.2 403.0h1v1h-1zM458.1 403.0h1v1h-1zM458.4 403.0h1v1h-1zM443.1 403.5h1v1h-1zM444.3 403.5h1v1h-1zM458.4 403.5h1v1h-1zM457.0 403.5h1v1h-1zM444.0 404.0h1v1h-1zM444.3 404.0h1v1h-1zM456.7 404.0h1v1h-1zM456.8 404.0h1v1h-1zM441.8 404.5h1v1h-1zM441.4 404.5h1v1h-1zM457.3 404.5h1v1h-1zM456.5 404.5h1v1h-1zM443.6 405.0h1v1h-1zM443.0 405.0h1v1h-1zM457.4 405.0h1v1h-1zM456.6 405.0h1v1h-1zM444.1 405.5h1v1h-1zM444.0 405.5h1v1h-1zM456.4 405.5h1v1h-1zM455.8 405.5h1v1h-1zM443.3 406.0h1v1h-1zM441.5 406.0h1v1h-1zM458.3 406.0h1v1h-1zM458.6 406.0h1v1h-1zM443.4 406.5h1v1h-1zM444.3 406.5h1v1h-1zM457.3 406.5h1v1h-1zM456.9 406.5h1v1h-1zM443.0 407.0h1v1h-1zM444.0 407.0h1v1h-1zM456.3 407.0h1v1h-1zM457.1 407.0h1v1h-1zM443.4 407.5h1v1h-1zM444.0 407.5h1v1h-1zM455.8 407.5h1v1h-1zM456.3 407.5h1v1h-1zM443.8 408.0h1v1h-1zM443.2 408.0h1v1h-1zM457.4 408.0h1v1h-1zM457.6 408.0h1v1h-1zM442.2 408.5h1v1h-1zM443.9 408.5h1v1h-1zM458.1 408.5h1v1h-1zM456.2 408.5h1v1h-1zM442.1 409.0h1v1h-1zM442.8 409.0h1v1h-1zM457.6 409.0h1v1h-1zM456.2 409.0h1v1h-1zM442.9 409.5h1v1h-1zM442.8 409.5h1v1h-1zM456.2 409.5h1v1h-1zM456.1 409.5h1v1h-1zM442.8 410.0h1v1h-1zM441.5 410.0h1v1h-1zM456.2 410.0h1v1h-1zM455.6 410.0h1v1h-1zM442.7 410.5h1v1h-1zM440.9 410.5h1v1h-1zM458.9 410.5h1v1h-1zM457.3 410.5h1v1h-1zM444.3 411.0h1v1h-1zM443.8 411.0h1v1h-1zM455.5 411.0h1v1h-1zM456.7 411.0h1v1h-1zM443.3 411.5h1v1h-1zM443.3 411.5h1v1h-1zM457.5 411.5h1v1h-1zM458.4 411.5h1v1h-1zM442.1 412.0h1v1h-1zM443.8 412.0h1v1h-1zM456.7 412.0h1v1h-1zM455.8 412.0h1v1h-1zM444.2 412.5h1v1h-1zM443.7 412.5h1v1h-1zM455.6 412.5h1v1h-1zM455.9 412.5h1v1h-1zM444.0 413.0h1v1h-1zM442.5 413.0h1v1h-1zM456.0 413.0h1v1h-1zM456.7 413.0h1v1h-1zM442.4 413.5h1v1h-1zM443.7 413.5h1v1h-1zM456.2 413.5h1v1h-1zM455.6 413.5h1v1h-1zM441.6 414.0h1v1h-1zM443.1 414.0h1v1h-1zM457.0 414.0h1v1h-1zM457.1 414.0h1v1h-1zM443.6 414.5h1v1h-1zM443.1 414.5h1v1h-1zM458.8 414.5h1v1h-1zM456.2 414.5h1v1h-1zM443.8 415.0h1v1h-1zM441.1 415.0h1v1h-1zM456.7 415.0h1v1h-1zM458.5 415.0h1v1h-1zM443.8 415.5h1v1h-1zM444.4 415.5h1v1h-1zM455.2 415.5h1v1h-1zM457.6 415.5h1v1h-1zM443.0 416.0h1v1h-1zM444.1 416.0h1v1h-1zM457.3 416.0h1v1h-1zM457.3 416.0h1v1h-1zM443.5 416.5h1v1h-1zM444.7 416.5h1v1h-1zM455.5 416.5h1v1h-1zM457.7 416.5h1v1h-1zM444.6 417.0h1v1h-1zM441.1 417.0h1v1h-1zM457.4 417.0h1v1h-1zM457.4 417.0h1v1h-1zM442.9 417.5h1v1h-1zM442.3 417.5h1v1h-1zM456.7 417.5h1v1h-1zM457.1 417.5h1v1h-1zM441.1 418.0h1v1h-1zM442.9 418.0h1v1h-1zM455.0 418.0h1v1h-1zM455.1 418.0h1v1h-1zM444.3 418.5h1v1h-1zM443.9 418.5h1v1h-1zM455.7 418.5h1v1h-1zM456.8 418.5h1v1h-1zM444.2 419.0h1v1h-1zM441.4 419.0h1v1h-1zM456.5 419.0h1v1h-1zM455.2 419.0h1v1h-1zM443.4 419.5h1v1h-1zM443.4 419.5h1v1h-1zM456.3 419.5h1v1h-1zM456.4 419.5h1v1h-1zM444.3 420.0h1v1h-1zM443.9 420.0h1v1h-1zM456.2 420.0h1v1h-1zM456.8 420.0h1v1h-1zM442.7 420.5h1v1h-1zM444.7 420.5h1v1h-1zM456.6 420.5h1v1h-1zM455.3 420.5h1v1h-1zM443.4 421.0h1v1h-1zM445.1 421.0h1v1h-1zM455.3 421.0h1v1h-1zM456.0 421.0h1v1h-1zM445.0 421.5h1v1h-1zM445.2 421.5h1v1h-1zM458.0 421.5h1v1h-1zM454.6 421.5h1v1h-1zM444.7 422.0h1v1h-1zM445.3 422.0h1v1h-1zM455.4 422.0h1v1h-1zM455.1 422.0h1v1h-1zM444.2 422.5h1v1h-1zM443.6 422.5h1v1h-1zM456.2 422.5h1v1h-1zM455.0 422.5h1v1h-1zM443.5 423.0h1v1h-1zM442.5 423.0h1v1h-1zM456.0 423.0h1v1h-1zM455.2 423.0h1v1h-1zM443.9 423.5h1v1h-1zM445.2 423.5h1v1h-1zM456.8 423.5h1v1h-1zM457.9 423.5h1v1h-1zM445.4 424.0h1v1h-1zM444.1 424.0h1v1h-1zM455.7 424.0h1v1h-1zM455.0 424.0h1v1h-1zM445.4 424.5h1v1h-1zM443.9 424.5h1v1h-1zM456.0 424.5h1v1h-1zM455.1 424.5h1v1h-1zM445.7 425.0h1v1h-1zM444.8 425.0h1v1h-1zM453.9 425.0h1v1h-1zM455.3 425.0h1v1h-1zM445.0 425.5h1v1h-1zM445.3 425.5h1v1h-1zM455.4 425.5h1v1h-1zM453.9 425.5h1v1h-1zM443.8 426.0h1v1h-1zM444.9 426.0h1v1h-1zM455.6 426.0h1v1h-1zM455.2 426.0h1v1h-1zM446.2 426.5h1v1h-1zM444.3 426.5h1v1h-1zM454.1 426.5h1v1h-1zM454.2 426.5h1v1h-1zM443.5 427.0h1v1h-1zM445.6 427.0h1v1h-1zM453.9 427.0h1v1h-1zM453.7 427.0h1v1h-1zM445.3 427.5h1v1h-1zM446.2 427.5h1v1h-1zM454.4 427.5h1v1h-1zM454.6 427.5h1v1h-1z" fill="#2a3ea8"/>
<path d="M452.7 367.1h1v1h-1zM454.8 394.9h1v1h-1zM449.0 373.4h1v1h-1zM451.1 385.1h1v1h-1zM450.9 376.4h1v1h-1zM448.7 394.4h1v1h-1zM454.9 389.4h1v1h-1zM448.1 393.4h1v1h-1zM453.4 388.3h1v1h-1zM453.1 370.7h1v1h-1zM454.2 367.0h1v1h-1zM449.7 392.7h1v1h-1zM448.1 396.5h1v1h-1zM450.2 373.0h1v1h-1zM447.0 366.4h1v1h-1zM448.1 378.9h1v1h-1zM450.5 376.5h1v1h-1zM450.6 368.6h1v1h-1zM451.6 387.7h1v1h-1zM450.8 368.5h1v1h-1zM449.0 388.1h1v1h-1zM453.9 384.0h1v1h-1z" fill="#b8c4ec" opacity="0.6"/>
<path d="M455.3 407.7h1v1h-1zM453.2 422.4h1v1h-1zM446.6 351.9h1v1h-1zM454.4 403.8h1v1h-1zM445.0 420.5h1v1h-1zM445.9 368.1h1v1h-1zM455.0 354.1h1v1h-1zM443.7 366.6h1v1h-1zM455.9 390.0h1v1h-1zM454.4 374.8h1v1h-1zM455.6 414.4h1v1h-1zM445.4 393.2h1v1h-1zM446.9 425.2h1v1h-1zM454.3 420.7h1v1h-1zM453.6 380.2h1v1h-1zM448.9 348.2h1v1h-1zM445.5 390.9h1v1h-1zM443.8 411.6h1v1h-1zM445.8 425.6h1v1h-1zM447.1 376.7h1v1h-1zM444.9 368.8h1v1h-1zM444.9 425.3h1v1h-1zM445.7 398.4h1v1h-1zM455.6 365.6h1v1h-1zM455.4 356.9h1v1h-1zM445.0 385.4h1v1h-1zM446.2 385.1h1v1h-1zM444.2 410.8h1v1h-1zM444.6 401.5h1v1h-1zM446.1 420.3h1v1h-1zM456.0 366.9h1v1h-1zM455.2 354.6h1v1h-1zM445.5 385.2h1v1h-1zM445.0 381.4h1v1h-1zM444.5 370.7h1v1h-1z" fill="#ffffff" opacity="0.5"/>
<g filter="url(#bl)">
<ellipse cx="448.6" cy="360.3" rx="5.2" ry="8.4" fill="#4868cc" opacity="0.85"/>
<ellipse cx="448.1" cy="409.0" rx="4.6" ry="16.5" fill="#4466c8" opacity="0.8"/>
<ellipse cx="448.6" cy="360.3" rx="3.4" ry="6.2" fill="#84c0d8"/>
<ellipse cx="448.1" cy="409.5" rx="3.2" ry="13" fill="#74a8e0"/>
<ellipse cx="448.6" cy="360.3" rx="2.7" ry="4.7" fill="#88be4c"/>
<ellipse cx="448.1" cy="406.0" rx="2.5" ry="8.0" fill="#78b850"/>
<ellipse cx="448.6" cy="360.3" rx="1.8" ry="3.0" fill="#d0c428"/>
<ellipse cx="448.1" cy="405.0" rx="1.7" ry="5.2" fill="#d4c428"/>
<ellipse cx="448.6" cy="360.3" rx="1.0" ry="1.3" fill="#5a4610"/>
<ellipse cx="448.1" cy="405.0" rx="0.9" ry="2.3" fill="#7a5a10"/>
</g></g>
<rect x="381.7" y="347.0" width="80.9" height="80.8" fill="none" stroke="#222" stroke-width="1.3"/>
<line x1="391.8" y1="427.8" x2="391.8" y2="429.3" stroke="#222" stroke-width="0.8"/>
<line x1="401.9" y1="427.8" x2="401.9" y2="429.3" stroke="#222" stroke-width="0.8"/>
<line x1="412.0" y1="427.8" x2="412.0" y2="429.3" stroke="#222" stroke-width="0.8"/>
<line x1="422.1" y1="427.8" x2="422.1" y2="429.3" stroke="#222" stroke-width="0.8"/>
<line x1="432.3" y1="427.8" x2="432.3" y2="429.3" stroke="#222" stroke-width="0.8"/>
<line x1="442.4" y1="427.8" x2="442.4" y2="429.3" stroke="#222" stroke-width="0.8"/>
<line x1="452.5" y1="427.8" x2="452.5" y2="429.3" stroke="#222" stroke-width="0.8"/>
<line x1="379.7" y1="367.2" x2="381.7" y2="367.2" stroke="#222" stroke-width="1"/>
<line x1="379.7" y1="387.4" x2="381.7" y2="387.4" stroke="#222" stroke-width="1"/>
<line x1="379.7" y1="407.6" x2="381.7" y2="407.6" stroke="#222" stroke-width="1"/>
<rect x="389.6" y="349.7" width="49.1" height="19.5" fill="none" stroke="#333" stroke-width="1.05"/>
<rect x="391.0" y="386.9" width="47.7" height="37.0" fill="none" stroke="#333" stroke-width="1.05"/>
<text x="294.68" y="262.50" font-size="9.8" font-weight="bold" style="" fill="#1c1c1c" stroke="#1c1c1c" stroke-width="0.25" textLength="15.61" lengthAdjust="spacingAndGlyphs">0.06</text>
<text x="296.51" y="300.50" font-size="9.8" font-weight="bold" style="" fill="#1c1c1c" stroke="#1c1c1c" stroke-width="0.25" textLength="9.97" lengthAdjust="spacingAndGlyphs">0.1</text>
<text x="390.88" y="262.80" font-size="9.8" font-weight="bold" style="" fill="#1c1c1c" stroke="#1c1c1c" stroke-width="0.25" textLength="15.72" lengthAdjust="spacingAndGlyphs">0.06</text>
<text x="392.20" y="300.50" font-size="9.8" font-weight="bold" style="" fill="#1c1c1c" stroke="#1c1c1c" stroke-width="0.25" textLength="10.49" lengthAdjust="spacingAndGlyphs">0.1</text>
<text x="295.98" y="357.50" font-size="9.8" font-weight="bold" style="" fill="#1c1c1c" stroke="#1c1c1c" stroke-width="0.25" textLength="15.61" lengthAdjust="spacingAndGlyphs">0.06</text>
<text x="297.20" y="396.30" font-size="9.8" font-weight="bold" style="" fill="#1c1c1c" stroke="#1c1c1c" stroke-width="0.25" textLength="10.49" lengthAdjust="spacingAndGlyphs">0.1</text>
<text x="391.37" y="357.70" font-size="9.8" font-weight="bold" style="" fill="#1c1c1c" stroke="#1c1c1c" stroke-width="0.25" textLength="11.42" lengthAdjust="spacingAndGlyphs">0.6</text>
<text x="392.16" y="396.30" font-size="9.8" font-weight="bold" style="" fill="#1c1c1c" stroke="#1c1c1c" stroke-width="0.25" textLength="11.69" lengthAdjust="spacingAndGlyphs">0.8</text>
<text transform="translate(276.0,347.34) rotate(-90)" x="0" y="0" font-size="9.8" font-weight="bold" fill="#1c1c1c" stroke="#1c1c1c" stroke-width="0.25" textLength="17.10" lengthAdjust="spacingAndGlyphs">CD8</text>
<line x1="272.3" y1="423.4" x2="272.3" y2="361" stroke="#111" stroke-width="1.2"/>
<path d="M272.3,356.8 L269.6,362.4 L275.0,362.4 Z" fill="#111"/>
<line x1="287.8" y1="439.4" x2="350" y2="439.4" stroke="#111" stroke-width="1.2"/>
<path d="M354.0,439.4 L349.0,436.9 L349.0,441.9 Z" fill="#111"/>
</svg>
</body></html>
